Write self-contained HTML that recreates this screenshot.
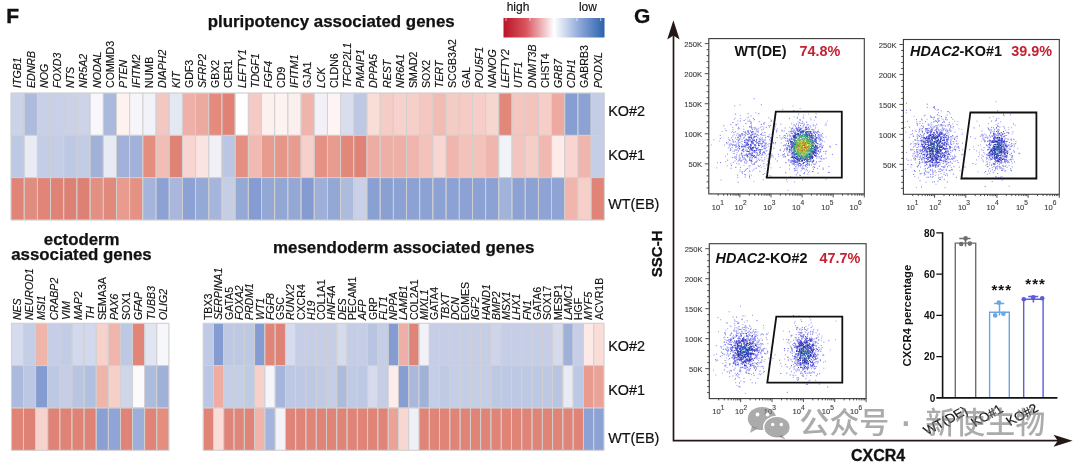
<!DOCTYPE html>
<html><head><meta charset="utf-8"><style>
html,body{margin:0;padding:0;background:#fff;overflow:hidden;}
svg{display:block;font-family:'Liberation Sans', sans-serif;}
</style></head><body>
<svg width="1080" height="467" viewBox="0 0 1080 467">
<rect width="1080" height="467" fill="#fff"/>
<g stroke="#d2d0d0" stroke-width="0.8" stroke-opacity="0.9">
<rect x="11.00" y="93.00" width="13.18" height="42.33" fill="#cbd3e8"/>
<rect x="11.00" y="135.33" width="13.18" height="42.33" fill="#bcc8e4"/>
<rect x="11.00" y="177.66" width="13.18" height="42.33" fill="#e08478"/>
<rect x="24.18" y="93.00" width="13.18" height="42.33" fill="#adbcdd"/>
<rect x="24.18" y="135.33" width="13.18" height="42.33" fill="#e9ecf4"/>
<rect x="24.18" y="177.66" width="13.18" height="42.33" fill="#e08d80"/>
<rect x="37.37" y="93.00" width="13.18" height="42.33" fill="#c8d0e7"/>
<rect x="37.37" y="135.33" width="13.18" height="42.33" fill="#c3cde6"/>
<rect x="37.37" y="177.66" width="13.18" height="42.33" fill="#e08578"/>
<rect x="50.55" y="93.00" width="13.18" height="42.33" fill="#c8d0e7"/>
<rect x="50.55" y="135.33" width="13.18" height="42.33" fill="#c3cde6"/>
<rect x="50.55" y="177.66" width="13.18" height="42.33" fill="#df8376"/>
<rect x="63.74" y="93.00" width="13.18" height="42.33" fill="#cbd2e8"/>
<rect x="63.74" y="135.33" width="13.18" height="42.33" fill="#bdc9e4"/>
<rect x="63.74" y="177.66" width="13.18" height="42.33" fill="#de8175"/>
<rect x="76.92" y="93.00" width="13.18" height="42.33" fill="#cdd4e9"/>
<rect x="76.92" y="135.33" width="13.18" height="42.33" fill="#c2cce5"/>
<rect x="76.92" y="177.66" width="13.18" height="42.33" fill="#de8175"/>
<rect x="90.11" y="93.00" width="13.18" height="42.33" fill="#f8f8fc"/>
<rect x="90.11" y="135.33" width="13.18" height="42.33" fill="#a1b2d9"/>
<rect x="90.11" y="177.66" width="13.18" height="42.33" fill="#e39082"/>
<rect x="103.29" y="93.00" width="13.18" height="42.33" fill="#aab9dc"/>
<rect x="103.29" y="135.33" width="13.18" height="42.33" fill="#e9ebf4"/>
<rect x="103.29" y="177.66" width="13.18" height="42.33" fill="#e1897b"/>
<rect x="116.48" y="93.00" width="13.18" height="42.33" fill="#fdf2f0"/>
<rect x="116.48" y="135.33" width="13.18" height="42.33" fill="#a1b1d9"/>
<rect x="116.48" y="177.66" width="13.18" height="42.33" fill="#e89b8e"/>
<rect x="129.66" y="93.00" width="13.18" height="42.33" fill="#f6f6fa"/>
<rect x="129.66" y="135.33" width="13.18" height="42.33" fill="#a1b1d9"/>
<rect x="129.66" y="177.66" width="13.18" height="42.33" fill="#e59285"/>
<rect x="142.84" y="93.00" width="13.18" height="42.33" fill="#f2f3f9"/>
<rect x="142.84" y="135.33" width="13.18" height="42.33" fill="#e48e80"/>
<rect x="142.84" y="177.66" width="13.18" height="42.33" fill="#a4b4da"/>
<rect x="156.03" y="93.00" width="13.18" height="42.33" fill="#f4c8c2"/>
<rect x="156.03" y="135.33" width="13.18" height="42.33" fill="#f2bdb5"/>
<rect x="156.03" y="177.66" width="13.18" height="42.33" fill="#8ca2d4"/>
<rect x="169.21" y="93.00" width="13.18" height="42.33" fill="#e4e8f2"/>
<rect x="169.21" y="135.33" width="13.18" height="42.33" fill="#e08376"/>
<rect x="169.21" y="177.66" width="13.18" height="42.33" fill="#a9b7dc"/>
<rect x="182.40" y="93.00" width="13.18" height="42.33" fill="#eeb0a8"/>
<rect x="182.40" y="135.33" width="13.18" height="42.33" fill="#f7d6d1"/>
<rect x="182.40" y="177.66" width="13.18" height="42.33" fill="#8ca2d4"/>
<rect x="195.58" y="93.00" width="13.18" height="42.33" fill="#eca99f"/>
<rect x="195.58" y="135.33" width="13.18" height="42.33" fill="#fae4e1"/>
<rect x="195.58" y="177.66" width="13.18" height="42.33" fill="#95a9d6"/>
<rect x="208.77" y="93.00" width="13.18" height="42.33" fill="#e48b7e"/>
<rect x="208.77" y="135.33" width="13.18" height="42.33" fill="#f0f0f6"/>
<rect x="208.77" y="177.66" width="13.18" height="42.33" fill="#a6b5db"/>
<rect x="221.95" y="93.00" width="13.18" height="42.33" fill="#e08376"/>
<rect x="221.95" y="135.33" width="13.18" height="42.33" fill="#bac6e3"/>
<rect x="221.95" y="177.66" width="13.18" height="42.33" fill="#c6cee6"/>
<rect x="235.14" y="93.00" width="13.18" height="42.33" fill="#ffffff"/>
<rect x="235.14" y="135.33" width="13.18" height="42.33" fill="#e48f82"/>
<rect x="235.14" y="177.66" width="13.18" height="42.33" fill="#95a9d6"/>
<rect x="248.32" y="93.00" width="13.18" height="42.33" fill="#f5cac4"/>
<rect x="248.32" y="135.33" width="13.18" height="42.33" fill="#f1bab2"/>
<rect x="248.32" y="177.66" width="13.18" height="42.33" fill="#859cd2"/>
<rect x="261.50" y="93.00" width="13.18" height="42.33" fill="#fdf1ef"/>
<rect x="261.50" y="135.33" width="13.18" height="42.33" fill="#e89b8f"/>
<rect x="261.50" y="177.66" width="13.18" height="42.33" fill="#94a8d6"/>
<rect x="274.69" y="93.00" width="13.18" height="42.33" fill="#fdf4f2"/>
<rect x="274.69" y="135.33" width="13.18" height="42.33" fill="#e69689"/>
<rect x="274.69" y="177.66" width="13.18" height="42.33" fill="#93a7d5"/>
<rect x="287.87" y="93.00" width="13.18" height="42.33" fill="#fcf0ee"/>
<rect x="287.87" y="135.33" width="13.18" height="42.33" fill="#e89b8f"/>
<rect x="287.87" y="177.66" width="13.18" height="42.33" fill="#94a8d6"/>
<rect x="301.06" y="93.00" width="13.18" height="42.33" fill="#efb4ab"/>
<rect x="301.06" y="135.33" width="13.18" height="42.33" fill="#f6d0cb"/>
<rect x="301.06" y="177.66" width="13.18" height="42.33" fill="#859cd2"/>
<rect x="314.24" y="93.00" width="13.18" height="42.33" fill="#f1f1f7"/>
<rect x="314.24" y="135.33" width="13.18" height="42.33" fill="#e59285"/>
<rect x="314.24" y="177.66" width="13.18" height="42.33" fill="#9eb0d9"/>
<rect x="327.43" y="93.00" width="13.18" height="42.33" fill="#fdf4f3"/>
<rect x="327.43" y="135.33" width="13.18" height="42.33" fill="#e89b8f"/>
<rect x="327.43" y="177.66" width="13.18" height="42.33" fill="#94a8d6"/>
<rect x="340.61" y="93.00" width="13.18" height="42.33" fill="#d8deee"/>
<rect x="340.61" y="135.33" width="13.18" height="42.33" fill="#e2887b"/>
<rect x="340.61" y="177.66" width="13.18" height="42.33" fill="#adbbdd"/>
<rect x="353.80" y="93.00" width="13.18" height="42.33" fill="#bcc8e4"/>
<rect x="353.80" y="135.33" width="13.18" height="42.33" fill="#e08276"/>
<rect x="353.80" y="177.66" width="13.18" height="42.33" fill="#c9d0e7"/>
<rect x="366.98" y="93.00" width="13.18" height="42.33" fill="#f9ddd7"/>
<rect x="366.98" y="135.33" width="13.18" height="42.33" fill="#eeada3"/>
<rect x="366.98" y="177.66" width="13.18" height="42.33" fill="#89a0d3"/>
<rect x="380.16" y="93.00" width="13.18" height="42.33" fill="#f5cdc6"/>
<rect x="380.16" y="135.33" width="13.18" height="42.33" fill="#eeb0a6"/>
<rect x="380.16" y="177.66" width="13.18" height="42.33" fill="#8aa0d3"/>
<rect x="393.35" y="93.00" width="13.18" height="42.33" fill="#f7d2cc"/>
<rect x="393.35" y="135.33" width="13.18" height="42.33" fill="#eeb0a6"/>
<rect x="393.35" y="177.66" width="13.18" height="42.33" fill="#8ca2d4"/>
<rect x="406.53" y="93.00" width="13.18" height="42.33" fill="#f6cfc8"/>
<rect x="406.53" y="135.33" width="13.18" height="42.33" fill="#f0b6ad"/>
<rect x="406.53" y="177.66" width="13.18" height="42.33" fill="#8ca2d4"/>
<rect x="419.72" y="93.00" width="13.18" height="42.33" fill="#f4c8c1"/>
<rect x="419.72" y="135.33" width="13.18" height="42.33" fill="#f3c2ba"/>
<rect x="419.72" y="177.66" width="13.18" height="42.33" fill="#8ca2d4"/>
<rect x="432.90" y="93.00" width="13.18" height="42.33" fill="#f1bcb4"/>
<rect x="432.90" y="135.33" width="13.18" height="42.33" fill="#f8d7d2"/>
<rect x="432.90" y="177.66" width="13.18" height="42.33" fill="#8ca2d4"/>
<rect x="446.09" y="93.00" width="13.18" height="42.33" fill="#f5ccc5"/>
<rect x="446.09" y="135.33" width="13.18" height="42.33" fill="#f0b6ad"/>
<rect x="446.09" y="177.66" width="13.18" height="42.33" fill="#8ca2d4"/>
<rect x="459.27" y="93.00" width="13.18" height="42.33" fill="#f5cbc4"/>
<rect x="459.27" y="135.33" width="13.18" height="42.33" fill="#f3c2ba"/>
<rect x="459.27" y="177.66" width="13.18" height="42.33" fill="#8ca2d4"/>
<rect x="472.46" y="93.00" width="13.18" height="42.33" fill="#f6cec7"/>
<rect x="472.46" y="135.33" width="13.18" height="42.33" fill="#f3c2ba"/>
<rect x="472.46" y="177.66" width="13.18" height="42.33" fill="#8ca2d4"/>
<rect x="485.64" y="93.00" width="13.18" height="42.33" fill="#f8d6d0"/>
<rect x="485.64" y="135.33" width="13.18" height="42.33" fill="#f0b6ae"/>
<rect x="485.64" y="177.66" width="13.18" height="42.33" fill="#8ca2d4"/>
<rect x="498.82" y="93.00" width="13.18" height="42.33" fill="#e2887b"/>
<rect x="498.82" y="135.33" width="13.18" height="42.33" fill="#f2f3f9"/>
<rect x="498.82" y="177.66" width="13.18" height="42.33" fill="#a2b3da"/>
<rect x="512.01" y="93.00" width="13.18" height="42.33" fill="#f4c6bf"/>
<rect x="512.01" y="135.33" width="13.18" height="42.33" fill="#f4c5be"/>
<rect x="512.01" y="177.66" width="13.18" height="42.33" fill="#8ca2d4"/>
<rect x="525.19" y="93.00" width="13.18" height="42.33" fill="#f3c3bc"/>
<rect x="525.19" y="135.33" width="13.18" height="42.33" fill="#f6cec8"/>
<rect x="525.19" y="177.66" width="13.18" height="42.33" fill="#8ca2d4"/>
<rect x="538.38" y="93.00" width="13.18" height="42.33" fill="#f6cec7"/>
<rect x="538.38" y="135.33" width="13.18" height="42.33" fill="#f0b8b0"/>
<rect x="538.38" y="177.66" width="13.18" height="42.33" fill="#8fa4d5"/>
<rect x="551.56" y="93.00" width="13.18" height="42.33" fill="#eeaaa0"/>
<rect x="551.56" y="135.33" width="13.18" height="42.33" fill="#fcebe8"/>
<rect x="551.56" y="177.66" width="13.18" height="42.33" fill="#8fa4d5"/>
<rect x="564.75" y="93.00" width="13.18" height="42.33" fill="#869ed2"/>
<rect x="564.75" y="135.33" width="13.18" height="42.33" fill="#f8d5d0"/>
<rect x="564.75" y="177.66" width="13.18" height="42.33" fill="#f0b6ae"/>
<rect x="577.93" y="93.00" width="13.18" height="42.33" fill="#8ca2d4"/>
<rect x="577.93" y="135.33" width="13.18" height="42.33" fill="#f0b6ae"/>
<rect x="577.93" y="177.66" width="13.18" height="42.33" fill="#f6cfc9"/>
<rect x="591.12" y="93.00" width="13.18" height="42.33" fill="#c3cde6"/>
<rect x="591.12" y="135.33" width="13.18" height="42.33" fill="#c5cee6"/>
<rect x="591.12" y="177.66" width="13.18" height="42.33" fill="#e08478"/>
<line x1="11.00" y1="93.00" x2="11.00" y2="219.99"/>
<line x1="24.18" y1="93.00" x2="24.18" y2="219.99"/>
<line x1="37.37" y1="93.00" x2="37.37" y2="219.99"/>
<line x1="50.55" y1="93.00" x2="50.55" y2="219.99"/>
<line x1="63.74" y1="93.00" x2="63.74" y2="219.99"/>
<line x1="76.92" y1="93.00" x2="76.92" y2="219.99"/>
<line x1="90.11" y1="93.00" x2="90.11" y2="219.99"/>
<line x1="103.29" y1="93.00" x2="103.29" y2="219.99"/>
<line x1="116.48" y1="93.00" x2="116.48" y2="219.99"/>
<line x1="129.66" y1="93.00" x2="129.66" y2="219.99"/>
<line x1="142.84" y1="93.00" x2="142.84" y2="219.99"/>
<line x1="156.03" y1="93.00" x2="156.03" y2="219.99"/>
<line x1="169.21" y1="93.00" x2="169.21" y2="219.99"/>
<line x1="182.40" y1="93.00" x2="182.40" y2="219.99"/>
<line x1="195.58" y1="93.00" x2="195.58" y2="219.99"/>
<line x1="208.77" y1="93.00" x2="208.77" y2="219.99"/>
<line x1="221.95" y1="93.00" x2="221.95" y2="219.99"/>
<line x1="235.14" y1="93.00" x2="235.14" y2="219.99"/>
<line x1="248.32" y1="93.00" x2="248.32" y2="219.99"/>
<line x1="261.50" y1="93.00" x2="261.50" y2="219.99"/>
<line x1="274.69" y1="93.00" x2="274.69" y2="219.99"/>
<line x1="287.87" y1="93.00" x2="287.87" y2="219.99"/>
<line x1="301.06" y1="93.00" x2="301.06" y2="219.99"/>
<line x1="314.24" y1="93.00" x2="314.24" y2="219.99"/>
<line x1="327.43" y1="93.00" x2="327.43" y2="219.99"/>
<line x1="340.61" y1="93.00" x2="340.61" y2="219.99"/>
<line x1="353.80" y1="93.00" x2="353.80" y2="219.99"/>
<line x1="366.98" y1="93.00" x2="366.98" y2="219.99"/>
<line x1="380.16" y1="93.00" x2="380.16" y2="219.99"/>
<line x1="393.35" y1="93.00" x2="393.35" y2="219.99"/>
<line x1="406.53" y1="93.00" x2="406.53" y2="219.99"/>
<line x1="419.72" y1="93.00" x2="419.72" y2="219.99"/>
<line x1="432.90" y1="93.00" x2="432.90" y2="219.99"/>
<line x1="446.09" y1="93.00" x2="446.09" y2="219.99"/>
<line x1="459.27" y1="93.00" x2="459.27" y2="219.99"/>
<line x1="472.46" y1="93.00" x2="472.46" y2="219.99"/>
<line x1="485.64" y1="93.00" x2="485.64" y2="219.99"/>
<line x1="498.82" y1="93.00" x2="498.82" y2="219.99"/>
<line x1="512.01" y1="93.00" x2="512.01" y2="219.99"/>
<line x1="525.19" y1="93.00" x2="525.19" y2="219.99"/>
<line x1="538.38" y1="93.00" x2="538.38" y2="219.99"/>
<line x1="551.56" y1="93.00" x2="551.56" y2="219.99"/>
<line x1="564.75" y1="93.00" x2="564.75" y2="219.99"/>
<line x1="577.93" y1="93.00" x2="577.93" y2="219.99"/>
<line x1="591.12" y1="93.00" x2="591.12" y2="219.99"/>
<line x1="604.30" y1="93.00" x2="604.30" y2="219.99"/>
<line x1="11.00" y1="93.00" x2="604.30" y2="93.00"/>
<line x1="11.00" y1="135.33" x2="604.30" y2="135.33"/>
<line x1="11.00" y1="177.66" x2="604.30" y2="177.66"/>
<line x1="11.00" y1="219.99" x2="604.30" y2="219.99"/>
<rect x="11.40" y="323.30" width="12.12" height="42.33" fill="#d5dbed"/>
<rect x="11.40" y="365.63" width="12.12" height="42.33" fill="#acbbdd"/>
<rect x="11.40" y="407.96" width="12.12" height="42.33" fill="#e08478"/>
<rect x="23.52" y="323.30" width="12.12" height="42.33" fill="#c4cee6"/>
<rect x="23.52" y="365.63" width="12.12" height="42.33" fill="#bbc7e3"/>
<rect x="23.52" y="407.96" width="12.12" height="42.33" fill="#df8276"/>
<rect x="35.63" y="323.30" width="12.12" height="42.33" fill="#efb4aa"/>
<rect x="35.63" y="365.63" width="12.12" height="42.33" fill="#849cd2"/>
<rect x="35.63" y="407.96" width="12.12" height="42.33" fill="#f7d3ce"/>
<rect x="47.75" y="323.30" width="12.12" height="42.33" fill="#c6cee7"/>
<rect x="47.75" y="365.63" width="12.12" height="42.33" fill="#bdc9e4"/>
<rect x="47.75" y="407.96" width="12.12" height="42.33" fill="#e08377"/>
<rect x="59.86" y="323.30" width="12.12" height="42.33" fill="#c2cce5"/>
<rect x="59.86" y="365.63" width="12.12" height="42.33" fill="#c6cee7"/>
<rect x="59.86" y="407.96" width="12.12" height="42.33" fill="#e08377"/>
<rect x="71.98" y="323.30" width="12.12" height="42.33" fill="#d2d9ec"/>
<rect x="71.98" y="365.63" width="12.12" height="42.33" fill="#b8c4e2"/>
<rect x="71.98" y="407.96" width="12.12" height="42.33" fill="#e08377"/>
<rect x="84.09" y="323.30" width="12.12" height="42.33" fill="#d2d9ec"/>
<rect x="84.09" y="365.63" width="12.12" height="42.33" fill="#b2c0e0"/>
<rect x="84.09" y="407.96" width="12.12" height="42.33" fill="#e08377"/>
<rect x="96.21" y="323.30" width="12.12" height="42.33" fill="#f7d2cd"/>
<rect x="96.21" y="365.63" width="12.12" height="42.33" fill="#efb4aa"/>
<rect x="96.21" y="407.96" width="12.12" height="42.33" fill="#8aa0d3"/>
<rect x="108.32" y="323.30" width="12.12" height="42.33" fill="#f0b6ad"/>
<rect x="108.32" y="365.63" width="12.12" height="42.33" fill="#f6cfc9"/>
<rect x="108.32" y="407.96" width="12.12" height="42.33" fill="#90a5d5"/>
<rect x="120.44" y="323.30" width="12.12" height="42.33" fill="#bcc8e4"/>
<rect x="120.44" y="365.63" width="12.12" height="42.33" fill="#cfd6ea"/>
<rect x="120.44" y="407.96" width="12.12" height="42.33" fill="#e08478"/>
<rect x="132.55" y="323.30" width="12.12" height="42.33" fill="#e08578"/>
<rect x="132.55" y="365.63" width="12.12" height="42.33" fill="#fbfbfd"/>
<rect x="132.55" y="407.96" width="12.12" height="42.33" fill="#9dafd9"/>
<rect x="144.67" y="323.30" width="12.12" height="42.33" fill="#e1e5f1"/>
<rect x="144.67" y="365.63" width="12.12" height="42.33" fill="#adbbdd"/>
<rect x="144.67" y="407.96" width="12.12" height="42.33" fill="#e08478"/>
<rect x="156.78" y="323.30" width="12.12" height="42.33" fill="#f6f7fb"/>
<rect x="156.78" y="365.63" width="12.12" height="42.33" fill="#a0b1d9"/>
<rect x="156.78" y="407.96" width="12.12" height="42.33" fill="#e48e7f"/>
<line x1="11.40" y1="323.30" x2="11.40" y2="450.29"/>
<line x1="23.52" y1="323.30" x2="23.52" y2="450.29"/>
<line x1="35.63" y1="323.30" x2="35.63" y2="450.29"/>
<line x1="47.75" y1="323.30" x2="47.75" y2="450.29"/>
<line x1="59.86" y1="323.30" x2="59.86" y2="450.29"/>
<line x1="71.98" y1="323.30" x2="71.98" y2="450.29"/>
<line x1="84.09" y1="323.30" x2="84.09" y2="450.29"/>
<line x1="96.21" y1="323.30" x2="96.21" y2="450.29"/>
<line x1="108.32" y1="323.30" x2="108.32" y2="450.29"/>
<line x1="120.44" y1="323.30" x2="120.44" y2="450.29"/>
<line x1="132.55" y1="323.30" x2="132.55" y2="450.29"/>
<line x1="144.67" y1="323.30" x2="144.67" y2="450.29"/>
<line x1="156.78" y1="323.30" x2="156.78" y2="450.29"/>
<line x1="168.90" y1="323.30" x2="168.90" y2="450.29"/>
<line x1="11.40" y1="323.30" x2="168.90" y2="323.30"/>
<line x1="11.40" y1="365.63" x2="168.90" y2="365.63"/>
<line x1="11.40" y1="407.96" x2="168.90" y2="407.96"/>
<line x1="11.40" y1="450.29" x2="168.90" y2="450.29"/>
<rect x="203.20" y="323.30" width="10.28" height="42.33" fill="#bfcbe5"/>
<rect x="203.20" y="365.63" width="10.28" height="42.33" fill="#bac6e3"/>
<rect x="203.20" y="407.96" width="10.28" height="42.33" fill="#e08478"/>
<rect x="213.48" y="323.30" width="10.28" height="42.33" fill="#849cd2"/>
<rect x="213.48" y="365.63" width="10.28" height="42.33" fill="#eeaca2"/>
<rect x="213.48" y="407.96" width="10.28" height="42.33" fill="#faddd8"/>
<rect x="223.75" y="323.30" width="10.28" height="42.33" fill="#bdc9e4"/>
<rect x="223.75" y="365.63" width="10.28" height="42.33" fill="#c4cee6"/>
<rect x="223.75" y="407.96" width="10.28" height="42.33" fill="#e08478"/>
<rect x="234.03" y="323.30" width="10.28" height="42.33" fill="#bdc9e4"/>
<rect x="234.03" y="365.63" width="10.28" height="42.33" fill="#c4cee6"/>
<rect x="234.03" y="407.96" width="10.28" height="42.33" fill="#e08679"/>
<rect x="244.31" y="323.30" width="10.28" height="42.33" fill="#bdc9e4"/>
<rect x="244.31" y="365.63" width="10.28" height="42.33" fill="#bfcbe5"/>
<rect x="244.31" y="407.96" width="10.28" height="42.33" fill="#e08478"/>
<rect x="254.58" y="323.30" width="10.28" height="42.33" fill="#859cd2"/>
<rect x="254.58" y="365.63" width="10.28" height="42.33" fill="#f7d0cb"/>
<rect x="254.58" y="407.96" width="10.28" height="42.33" fill="#f0b4aa"/>
<rect x="264.86" y="323.30" width="10.28" height="42.33" fill="#e08578"/>
<rect x="264.86" y="365.63" width="10.28" height="42.33" fill="#f5f6fb"/>
<rect x="264.86" y="407.96" width="10.28" height="42.33" fill="#a4b4da"/>
<rect x="275.14" y="323.30" width="10.28" height="42.33" fill="#e08377"/>
<rect x="275.14" y="365.63" width="10.28" height="42.33" fill="#a6b5db"/>
<rect x="275.14" y="407.96" width="10.28" height="42.33" fill="#f3f4fa"/>
<rect x="285.42" y="323.30" width="10.28" height="42.33" fill="#d6dced"/>
<rect x="285.42" y="365.63" width="10.28" height="42.33" fill="#bcc8e4"/>
<rect x="285.42" y="407.96" width="10.28" height="42.33" fill="#e08478"/>
<rect x="295.69" y="323.30" width="10.28" height="42.33" fill="#c6cee7"/>
<rect x="295.69" y="365.63" width="10.28" height="42.33" fill="#bdc9e4"/>
<rect x="295.69" y="407.96" width="10.28" height="42.33" fill="#e08478"/>
<rect x="305.97" y="323.30" width="10.28" height="42.33" fill="#c6cee7"/>
<rect x="305.97" y="365.63" width="10.28" height="42.33" fill="#bdc9e4"/>
<rect x="305.97" y="407.96" width="10.28" height="42.33" fill="#e08478"/>
<rect x="316.25" y="323.30" width="10.28" height="42.33" fill="#c6cee7"/>
<rect x="316.25" y="365.63" width="10.28" height="42.33" fill="#bfcbe5"/>
<rect x="316.25" y="407.96" width="10.28" height="42.33" fill="#e08478"/>
<rect x="326.52" y="323.30" width="10.28" height="42.33" fill="#c6cee7"/>
<rect x="326.52" y="365.63" width="10.28" height="42.33" fill="#c4cee6"/>
<rect x="326.52" y="407.96" width="10.28" height="42.33" fill="#e08478"/>
<rect x="336.80" y="323.30" width="10.28" height="42.33" fill="#d5dbed"/>
<rect x="336.80" y="365.63" width="10.28" height="42.33" fill="#adbbdd"/>
<rect x="336.80" y="407.96" width="10.28" height="42.33" fill="#e08478"/>
<rect x="347.08" y="323.30" width="10.28" height="42.33" fill="#c3cde6"/>
<rect x="347.08" y="365.63" width="10.28" height="42.33" fill="#bfcbe5"/>
<rect x="347.08" y="407.96" width="10.28" height="42.33" fill="#e08478"/>
<rect x="357.35" y="323.30" width="10.28" height="42.33" fill="#c6cee7"/>
<rect x="357.35" y="365.63" width="10.28" height="42.33" fill="#bdc9e4"/>
<rect x="357.35" y="407.96" width="10.28" height="42.33" fill="#e08478"/>
<rect x="367.63" y="323.30" width="10.28" height="42.33" fill="#b7c4e2"/>
<rect x="367.63" y="365.63" width="10.28" height="42.33" fill="#d5dbed"/>
<rect x="367.63" y="407.96" width="10.28" height="42.33" fill="#e08478"/>
<rect x="377.91" y="323.30" width="10.28" height="42.33" fill="#c6cee7"/>
<rect x="377.91" y="365.63" width="10.28" height="42.33" fill="#c6cee7"/>
<rect x="377.91" y="407.96" width="10.28" height="42.33" fill="#e08478"/>
<rect x="388.18" y="323.30" width="10.28" height="42.33" fill="#849cd2"/>
<rect x="388.18" y="365.63" width="10.28" height="42.33" fill="#fcedea"/>
<rect x="388.18" y="407.96" width="10.28" height="42.33" fill="#eba398"/>
<rect x="398.46" y="323.30" width="10.28" height="42.33" fill="#eeb0a6"/>
<rect x="398.46" y="365.63" width="10.28" height="42.33" fill="#869ed2"/>
<rect x="398.46" y="407.96" width="10.28" height="42.33" fill="#f8d6d1"/>
<rect x="408.74" y="323.30" width="10.28" height="42.33" fill="#e08478"/>
<rect x="408.74" y="365.63" width="10.28" height="42.33" fill="#aab8dc"/>
<rect x="408.74" y="407.96" width="10.28" height="42.33" fill="#eff0f6"/>
<rect x="419.02" y="323.30" width="10.28" height="42.33" fill="#f1f1f7"/>
<rect x="419.02" y="365.63" width="10.28" height="42.33" fill="#a1b2d9"/>
<rect x="419.02" y="407.96" width="10.28" height="42.33" fill="#e08478"/>
<rect x="429.29" y="323.30" width="10.28" height="42.33" fill="#c6cee7"/>
<rect x="429.29" y="365.63" width="10.28" height="42.33" fill="#c4cee6"/>
<rect x="429.29" y="407.96" width="10.28" height="42.33" fill="#e08478"/>
<rect x="439.57" y="323.30" width="10.28" height="42.33" fill="#c6cee7"/>
<rect x="439.57" y="365.63" width="10.28" height="42.33" fill="#bfcbe5"/>
<rect x="439.57" y="407.96" width="10.28" height="42.33" fill="#e08478"/>
<rect x="449.85" y="323.30" width="10.28" height="42.33" fill="#c6cee7"/>
<rect x="449.85" y="365.63" width="10.28" height="42.33" fill="#c4cee6"/>
<rect x="449.85" y="407.96" width="10.28" height="42.33" fill="#e08478"/>
<rect x="460.12" y="323.30" width="10.28" height="42.33" fill="#c6cee7"/>
<rect x="460.12" y="365.63" width="10.28" height="42.33" fill="#c4cee6"/>
<rect x="460.12" y="407.96" width="10.28" height="42.33" fill="#e08478"/>
<rect x="470.40" y="323.30" width="10.28" height="42.33" fill="#c6cee7"/>
<rect x="470.40" y="365.63" width="10.28" height="42.33" fill="#c4cee6"/>
<rect x="470.40" y="407.96" width="10.28" height="42.33" fill="#e08478"/>
<rect x="480.68" y="323.30" width="10.28" height="42.33" fill="#c6cee7"/>
<rect x="480.68" y="365.63" width="10.28" height="42.33" fill="#c4cee6"/>
<rect x="480.68" y="407.96" width="10.28" height="42.33" fill="#e08478"/>
<rect x="490.95" y="323.30" width="10.28" height="42.33" fill="#ced5ea"/>
<rect x="490.95" y="365.63" width="10.28" height="42.33" fill="#bcc8e4"/>
<rect x="490.95" y="407.96" width="10.28" height="42.33" fill="#e08478"/>
<rect x="501.23" y="323.30" width="10.28" height="42.33" fill="#c6cee7"/>
<rect x="501.23" y="365.63" width="10.28" height="42.33" fill="#bdc9e4"/>
<rect x="501.23" y="407.96" width="10.28" height="42.33" fill="#e08478"/>
<rect x="511.51" y="323.30" width="10.28" height="42.33" fill="#c6cee7"/>
<rect x="511.51" y="365.63" width="10.28" height="42.33" fill="#bdc9e4"/>
<rect x="511.51" y="407.96" width="10.28" height="42.33" fill="#e08478"/>
<rect x="521.78" y="323.30" width="10.28" height="42.33" fill="#c6cee7"/>
<rect x="521.78" y="365.63" width="10.28" height="42.33" fill="#bdc9e4"/>
<rect x="521.78" y="407.96" width="10.28" height="42.33" fill="#e08478"/>
<rect x="532.06" y="323.30" width="10.28" height="42.33" fill="#c6cee7"/>
<rect x="532.06" y="365.63" width="10.28" height="42.33" fill="#bdc9e4"/>
<rect x="532.06" y="407.96" width="10.28" height="42.33" fill="#e08478"/>
<rect x="542.34" y="323.30" width="10.28" height="42.33" fill="#c6cee7"/>
<rect x="542.34" y="365.63" width="10.28" height="42.33" fill="#bdc9e4"/>
<rect x="542.34" y="407.96" width="10.28" height="42.33" fill="#e08478"/>
<rect x="552.62" y="323.30" width="10.28" height="42.33" fill="#d5dbed"/>
<rect x="552.62" y="365.63" width="10.28" height="42.33" fill="#b7c4e2"/>
<rect x="552.62" y="407.96" width="10.28" height="42.33" fill="#e08478"/>
<rect x="562.89" y="323.30" width="10.28" height="42.33" fill="#a0b1d9"/>
<rect x="562.89" y="365.63" width="10.28" height="42.33" fill="#e9ebf4"/>
<rect x="562.89" y="407.96" width="10.28" height="42.33" fill="#e08478"/>
<rect x="573.17" y="323.30" width="10.28" height="42.33" fill="#c6cee7"/>
<rect x="573.17" y="365.63" width="10.28" height="42.33" fill="#bdc9e4"/>
<rect x="573.17" y="407.96" width="10.28" height="42.33" fill="#e08478"/>
<rect x="583.45" y="323.30" width="10.28" height="42.33" fill="#fdeae7"/>
<rect x="583.45" y="365.63" width="10.28" height="42.33" fill="#e89b8e"/>
<rect x="583.45" y="407.96" width="10.28" height="42.33" fill="#8ca2d4"/>
<rect x="593.72" y="323.30" width="10.28" height="42.33" fill="#faddd8"/>
<rect x="593.72" y="365.63" width="10.28" height="42.33" fill="#eba398"/>
<rect x="593.72" y="407.96" width="10.28" height="42.33" fill="#8ca2d4"/>
<line x1="203.20" y1="323.30" x2="203.20" y2="450.29"/>
<line x1="213.48" y1="323.30" x2="213.48" y2="450.29"/>
<line x1="223.75" y1="323.30" x2="223.75" y2="450.29"/>
<line x1="234.03" y1="323.30" x2="234.03" y2="450.29"/>
<line x1="244.31" y1="323.30" x2="244.31" y2="450.29"/>
<line x1="254.58" y1="323.30" x2="254.58" y2="450.29"/>
<line x1="264.86" y1="323.30" x2="264.86" y2="450.29"/>
<line x1="275.14" y1="323.30" x2="275.14" y2="450.29"/>
<line x1="285.42" y1="323.30" x2="285.42" y2="450.29"/>
<line x1="295.69" y1="323.30" x2="295.69" y2="450.29"/>
<line x1="305.97" y1="323.30" x2="305.97" y2="450.29"/>
<line x1="316.25" y1="323.30" x2="316.25" y2="450.29"/>
<line x1="326.52" y1="323.30" x2="326.52" y2="450.29"/>
<line x1="336.80" y1="323.30" x2="336.80" y2="450.29"/>
<line x1="347.08" y1="323.30" x2="347.08" y2="450.29"/>
<line x1="357.35" y1="323.30" x2="357.35" y2="450.29"/>
<line x1="367.63" y1="323.30" x2="367.63" y2="450.29"/>
<line x1="377.91" y1="323.30" x2="377.91" y2="450.29"/>
<line x1="388.18" y1="323.30" x2="388.18" y2="450.29"/>
<line x1="398.46" y1="323.30" x2="398.46" y2="450.29"/>
<line x1="408.74" y1="323.30" x2="408.74" y2="450.29"/>
<line x1="419.02" y1="323.30" x2="419.02" y2="450.29"/>
<line x1="429.29" y1="323.30" x2="429.29" y2="450.29"/>
<line x1="439.57" y1="323.30" x2="439.57" y2="450.29"/>
<line x1="449.85" y1="323.30" x2="449.85" y2="450.29"/>
<line x1="460.12" y1="323.30" x2="460.12" y2="450.29"/>
<line x1="470.40" y1="323.30" x2="470.40" y2="450.29"/>
<line x1="480.68" y1="323.30" x2="480.68" y2="450.29"/>
<line x1="490.95" y1="323.30" x2="490.95" y2="450.29"/>
<line x1="501.23" y1="323.30" x2="501.23" y2="450.29"/>
<line x1="511.51" y1="323.30" x2="511.51" y2="450.29"/>
<line x1="521.78" y1="323.30" x2="521.78" y2="450.29"/>
<line x1="532.06" y1="323.30" x2="532.06" y2="450.29"/>
<line x1="542.34" y1="323.30" x2="542.34" y2="450.29"/>
<line x1="552.62" y1="323.30" x2="552.62" y2="450.29"/>
<line x1="562.89" y1="323.30" x2="562.89" y2="450.29"/>
<line x1="573.17" y1="323.30" x2="573.17" y2="450.29"/>
<line x1="583.45" y1="323.30" x2="583.45" y2="450.29"/>
<line x1="593.72" y1="323.30" x2="593.72" y2="450.29"/>
<line x1="604.00" y1="323.30" x2="604.00" y2="450.29"/>
<line x1="203.20" y1="323.30" x2="604.00" y2="323.30"/>
<line x1="203.20" y1="365.63" x2="604.00" y2="365.63"/>
<line x1="203.20" y1="407.96" x2="604.00" y2="407.96"/>
<line x1="203.20" y1="450.29" x2="604.00" y2="450.29"/>
</g>
<g font-size="10.6" fill="#111" stroke="#111" stroke-width="0.15">
<text transform="translate(21.39,88.0) rotate(-90)" font-style="italic">ITGB1</text>
<text transform="translate(34.58,88.0) rotate(-90)" font-style="italic">EDNRB</text>
<text transform="translate(47.76,88.0) rotate(-90)" font-style="italic">NOG</text>
<text transform="translate(60.95,88.0) rotate(-90)" font-style="italic">FOXD3</text>
<text transform="translate(74.13,88.0) rotate(-90)" font-style="italic">NTS</text>
<text transform="translate(87.31,88.0) rotate(-90)" font-style="italic">NR5A2</text>
<text transform="translate(100.50,88.0) rotate(-90)" font-style="italic">NODAL</text>
<text transform="translate(113.68,88.0) rotate(-90)">COMMD3</text>
<text transform="translate(126.87,88.0) rotate(-90)" font-style="italic">PTEN</text>
<text transform="translate(140.05,88.0) rotate(-90)" font-style="italic">IFITM2</text>
<text transform="translate(153.24,88.0) rotate(-90)">NUMB</text>
<text transform="translate(166.42,88.0) rotate(-90)" font-style="italic">DIAPH2</text>
<text transform="translate(179.61,88.0) rotate(-90)" font-style="italic">KIT</text>
<text transform="translate(192.79,88.0) rotate(-90)">GDF3</text>
<text transform="translate(205.97,88.0) rotate(-90)" font-style="italic">SFRP2</text>
<text transform="translate(219.16,88.0) rotate(-90)">GBX2</text>
<text transform="translate(232.34,88.0) rotate(-90)">CER1</text>
<text transform="translate(245.53,88.0) rotate(-90)" font-style="italic">LEFTY1</text>
<text transform="translate(258.71,88.0) rotate(-90)" font-style="italic">TDGF1</text>
<text transform="translate(271.90,88.0) rotate(-90)" font-style="italic">FGF4</text>
<text transform="translate(285.08,88.0) rotate(-90)">CD9</text>
<text transform="translate(298.27,88.0) rotate(-90)" font-style="italic">IFITM1</text>
<text transform="translate(311.45,88.0) rotate(-90)">GJA1</text>
<text transform="translate(324.63,88.0) rotate(-90)" font-style="italic">LCK</text>
<text transform="translate(337.82,88.0) rotate(-90)">CLDN6</text>
<text transform="translate(351.00,88.0) rotate(-90)" font-style="italic">TFCP2L1</text>
<text transform="translate(364.19,88.0) rotate(-90)" font-style="italic">PMAIP1</text>
<text transform="translate(377.37,88.0) rotate(-90)" font-style="italic">DPPA5</text>
<text transform="translate(390.56,88.0) rotate(-90)" font-style="italic">REST</text>
<text transform="translate(403.74,88.0) rotate(-90)" font-style="italic">NR6A1</text>
<text transform="translate(416.93,88.0) rotate(-90)">SMAD2</text>
<text transform="translate(430.11,88.0) rotate(-90)">SOX2</text>
<text transform="translate(443.29,88.0) rotate(-90)" font-style="italic">TERT</text>
<text transform="translate(456.48,88.0) rotate(-90)">SCGB3A2</text>
<text transform="translate(469.66,88.0) rotate(-90)">GAL</text>
<text transform="translate(482.85,88.0) rotate(-90)" font-style="italic">POU5F1</text>
<text transform="translate(496.03,88.0) rotate(-90)" font-style="italic">NANOG</text>
<text transform="translate(509.22,88.0) rotate(-90)" font-style="italic">LEFTY2</text>
<text transform="translate(522.40,88.0) rotate(-90)" font-style="italic">UTF1</text>
<text transform="translate(535.59,88.0) rotate(-90)" font-style="italic">DNMT3B</text>
<text transform="translate(548.77,88.0) rotate(-90)">CHST4</text>
<text transform="translate(561.95,88.0) rotate(-90)" font-style="italic">GRB7</text>
<text transform="translate(575.14,88.0) rotate(-90)" font-style="italic">CDH1</text>
<text transform="translate(588.32,88.0) rotate(-90)">GABRB3</text>
<text transform="translate(601.51,88.0) rotate(-90)" font-style="italic">PODXL</text>
<text transform="translate(21.26,320.1) rotate(-90)" font-style="italic">NES</text>
<text transform="translate(33.37,320.1) rotate(-90)" font-style="italic">NEUROD1</text>
<text transform="translate(45.49,320.1) rotate(-90)" font-style="italic">MSI1</text>
<text transform="translate(57.60,320.1) rotate(-90)" font-style="italic">CRABP2</text>
<text transform="translate(69.72,320.1) rotate(-90)" font-style="italic">VIM</text>
<text transform="translate(81.83,320.1) rotate(-90)" font-style="italic">MAP2</text>
<text transform="translate(93.95,320.1) rotate(-90)" font-style="italic">TH</text>
<text transform="translate(106.07,320.1) rotate(-90)">SEMA3A</text>
<text transform="translate(118.18,320.1) rotate(-90)" font-style="italic">PAX6</text>
<text transform="translate(130.30,320.1) rotate(-90)">SOX1</text>
<text transform="translate(142.41,320.1) rotate(-90)" font-style="italic">GFAP</text>
<text transform="translate(154.53,320.1) rotate(-90)" font-style="italic">TUBB3</text>
<text transform="translate(166.64,320.1) rotate(-90)" font-style="italic">OLIG2</text>
<text transform="translate(212.14,320.1) rotate(-90)">TBX3</text>
<text transform="translate(222.42,320.1) rotate(-90)" font-style="italic">SERPINA1</text>
<text transform="translate(232.69,320.1) rotate(-90)">GATA5</text>
<text transform="translate(242.97,320.1) rotate(-90)" font-style="italic">FOXA2</text>
<text transform="translate(253.25,320.1) rotate(-90)" font-style="italic">PRDM1</text>
<text transform="translate(263.52,320.1) rotate(-90)" font-style="italic">WT1</text>
<text transform="translate(273.80,320.1) rotate(-90)" font-style="italic">FGF8</text>
<text transform="translate(284.08,320.1) rotate(-90)">GSC</text>
<text transform="translate(294.35,320.1) rotate(-90)" font-style="italic">RUNX2</text>
<text transform="translate(304.63,320.1) rotate(-90)">CXCR4</text>
<text transform="translate(314.91,320.1) rotate(-90)" font-style="italic">H19</text>
<text transform="translate(325.18,320.1) rotate(-90)">COL1A1</text>
<text transform="translate(335.46,320.1) rotate(-90)" font-style="italic">HNF4A</text>
<text transform="translate(345.74,320.1) rotate(-90)" font-style="italic">DES</text>
<text transform="translate(356.02,320.1) rotate(-90)">PECAM1</text>
<text transform="translate(366.29,320.1) rotate(-90)" font-style="italic">AFP</text>
<text transform="translate(376.57,320.1) rotate(-90)">GRP</text>
<text transform="translate(386.85,320.1) rotate(-90)" font-style="italic">FLT1</text>
<text transform="translate(397.12,320.1) rotate(-90)" font-style="italic">NPPA</text>
<text transform="translate(407.40,320.1) rotate(-90)" font-style="italic">LAMB1</text>
<text transform="translate(417.68,320.1) rotate(-90)">COL2A1</text>
<text transform="translate(427.95,320.1) rotate(-90)" font-style="italic">MIXL1</text>
<text transform="translate(438.23,320.1) rotate(-90)">GATA4</text>
<text transform="translate(448.51,320.1) rotate(-90)" font-style="italic">TBXT</text>
<text transform="translate(458.78,320.1) rotate(-90)" font-style="italic">DCN</text>
<text transform="translate(469.06,320.1) rotate(-90)">EOMES</text>
<text transform="translate(479.34,320.1) rotate(-90)" font-style="italic">IGF2</text>
<text transform="translate(489.62,320.1) rotate(-90)" font-style="italic">HAND1</text>
<text transform="translate(499.89,320.1) rotate(-90)" font-style="italic">BMP2</text>
<text transform="translate(510.17,320.1) rotate(-90)" font-style="italic">MSX1</text>
<text transform="translate(520.45,320.1) rotate(-90)" font-style="italic">LHX1</text>
<text transform="translate(530.72,320.1) rotate(-90)" font-style="italic">FN1</text>
<text transform="translate(541.00,320.1) rotate(-90)">GATA6</text>
<text transform="translate(551.28,320.1) rotate(-90)">SOX17</text>
<text transform="translate(561.55,320.1) rotate(-90)">MESP1</text>
<text transform="translate(571.83,320.1) rotate(-90)" font-style="italic">LAMC1</text>
<text transform="translate(582.11,320.1) rotate(-90)">HGF</text>
<text transform="translate(592.38,320.1) rotate(-90)" font-style="italic">MYF5</text>
<text transform="translate(602.66,320.1) rotate(-90)">ACVR1B</text>
</g>
<g font-size="14.4" fill="#111" stroke="#111" stroke-width="0.2">
<text x="608.2" y="116.3">KO#2</text>
<text x="608.2" y="160.3">KO#1</text>
<text x="608.2" y="208.8">WT(EB)</text>
<text x="608.2" y="350.8">KO#2</text>
<text x="608.2" y="394.8">KO#1</text>
<text x="608.2" y="442.6">WT(EB)</text>
</g>
<g font-weight="bold" fill="#111" stroke="#111" stroke-width="0.25">
<text x="6.3" y="23" font-size="21" stroke="#111" stroke-width="0.4">F</text>
<text x="634" y="23" font-size="21">G</text>
<text x="207.7" y="26.7" font-size="17" textLength="247" lengthAdjust="spacingAndGlyphs">pluripotency associated genes</text>
<text x="43.8" y="245.4" font-size="17" textLength="75.8" lengthAdjust="spacingAndGlyphs">ectoderm</text>
<text x="11.2" y="259.9" font-size="17" textLength="140.5" lengthAdjust="spacingAndGlyphs">associated genes</text>
<text x="273" y="252.8" font-size="17" textLength="261.3" lengthAdjust="spacingAndGlyphs">mesendoderm associated genes</text>
</g>
<defs><linearGradient id="lg" x1="0" x2="1" y1="0" y2="0"><stop offset="0" stop-color="#bb1428"/><stop offset="0.22" stop-color="#d9545c"/><stop offset="0.5" stop-color="#ffffff"/><stop offset="0.75" stop-color="#8fa9d8"/><stop offset="1" stop-color="#2a62ad"/></linearGradient></defs>
<rect x="503.5" y="18" width="101" height="19.5" fill="url(#lg)"/>
<line x1="506" y1="18" x2="506" y2="21" stroke="#fff" stroke-width="0.8" opacity="0.8"/>
<line x1="530" y1="18" x2="530" y2="21" stroke="#fff" stroke-width="0.8" opacity="0.8"/>
<line x1="577" y1="18" x2="577" y2="21" stroke="#fff" stroke-width="0.8" opacity="0.8"/>
<line x1="600.7" y1="18" x2="600.7" y2="21" stroke="#fff" stroke-width="0.8" opacity="0.8"/>
<g font-size="12" fill="#111" stroke="#111" stroke-width="0.15"><text x="506.7" y="11.2">high</text><text x="578.9" y="11.2">low</text></g>
<path stroke="#7c7cee" stroke-width="1" d="M739.1 159.9h1M768.3 146.3h1M734.7 149.7h1M753.5 169.1h1M749.2 170.8h1M720 162.5h1M741.4 145h1M751.1 132.4h1M744.2 174.5h1M732.2 157.5h1M762.2 149.4h1M776.5 137.5h1M761 147h1M758.7 121.6h1M745.7 142.3h1M735 137.9h1M767.2 136.5h1M760.1 134.5h1M770.5 121.3h1M750 147.3h1M751.4 161.5h1M764.7 148.6h1M758.8 166.4h1M735.4 147.3h1M755.8 130.9h1M730.4 124.6h1M740.3 137h1M749.3 178.1h1M748.9 133.4h1M754.7 133.8h1M752.6 127.9h1M726.5 143.7h1M732.3 136h1M750.7 160.5h1M744.7 177.1h1M750.9 155.6h1M746.8 156.2h1M734.3 156.8h1M743.1 149.2h1M757.2 131.7h1M749.6 155.3h1M766.2 147.3h1M756.3 129.5h1M763.4 163.6h1M749.7 137.6h1M761.3 155.2h1M762.3 154.7h1M737.2 137.2h1M730.4 143.6h1M752.1 129.7h1M752 157.6h1M731 137.9h1M745.7 169.2h1M726.9 154.2h1M734.9 141.7h1M773 143h1M766.4 150.6h1M755.7 168.2h1M770.6 137.7h1M746.6 151.5h1M763.6 142.4h1M747.2 154.1h1M731.6 147.6h1M748.6 133.8h1M753.9 157h1M748.3 147.5h1M738.4 160.3h1M765 137.4h1M749 126.6h1M770 138.1h1M763.5 152h1M740.8 160.7h1M745.2 131.6h1M755.2 134.1h1M750.5 115.9h1M774.9 142.6h1M730.1 148.8h1M743 138h1M750.8 127.7h1M737.1 148.8h1M765.1 143.3h1M746.6 140.5h1M754.1 162.8h1M736.3 146.4h1M739.9 136.6h1M761.6 139.9h1M759 160.3h1M768.3 136.2h1M743.4 129.3h1M746.7 150h1M755.7 162.2h1M735.4 147.2h1M732.4 144.5h1M741.8 134.4h1M750.9 138.6h1M737.9 142.9h1M750.2 123.3h1M728.9 145.2h1M765.3 145h1M742.2 135.3h1M758.8 139.8h1M742.1 157.6h1M751.1 148.6h1M732 145.7h1M760.8 145h1M734.1 151h1M732.7 162.3h1M739.3 148.8h1M746.6 141.8h1M737.5 161.2h1M751 163h1M754.4 133.7h1M743.8 171.4h1M749.5 137.2h1M744.6 155.6h1M730.7 144.4h1M732.6 151.2h1M764.1 148.1h1M763.3 128h1M719.8 135.4h1M756.2 161.4h1M771.4 139.4h1M748.5 166.1h1M735.7 124.7h1M756.8 134.7h1M758.8 138.5h1M764.9 153.8h1M747.6 113.7h1M756 136.5h1M731 165.4h1M755.4 128.3h1M746.9 168.6h1M751.3 152.8h1M761 133.7h1M755.3 136.5h1M761.3 129.9h1M750.9 122.8h1M768.3 125.6h1M761.3 157.4h1M740.1 167.4h1M743.3 131.5h1M757.7 128.9h1M770.8 156h1M738.3 140.1h1M756.4 135.3h1M793.5 163.9h1M755.6 148.8h1M780.3 124.2h1M733.2 132.6h1M753.7 98.7h1M736 159.3h1M748.8 175.1h1M760.9 104.7h1M744.7 147.7h1M737.6 182.2h1M764.8 148.2h1M764.3 159.2h1M745.1 135.1h1M816.3 147.2h1M792.5 160.6h1M802.2 179.7h1M825.3 151.7h1M799.7 166.3h1M818 134.6h1M825.7 158h1M817.3 132.1h1M790.8 133h1M816.3 156.8h1M813.6 136.2h1M786 143.8h1M803.9 172.6h1M784 149.9h1M820.3 158.5h1M790.7 160.3h1M785.1 135.8h1M791.1 160.4h1M795.2 128.2h1M813 169.3h1M817.5 135.3h1M784.9 157.1h1M800 125.5h1M783.7 131h1M818.9 166.2h1M816.1 124.3h1M794.6 131.1h1M802.6 123.1h1M805.6 166.8h1M817.7 136.7h1M793.7 124.6h1M785.4 140.9h1M818.6 161.6h1M800.9 168.1h1M815.2 164.1h1M797.4 131.6h1M818.7 141.1h1M796.6 162.5h1M779.3 135.8h1M816.2 152.5h1M803.1 118h1M788.8 152.3h1M815.4 138.3h1M822.1 133.4h1M794.2 168.3h1M820.7 147.1h1M814.9 128h1M796.6 159.6h1M809.3 159.3h1M811.4 129.3h1M772.2 141.3h1M796.4 127.9h1M774 125.7h1M813.9 132h1M789.1 135.8h1M803.3 125.4h1M814.2 132.5h1M819.1 152.9h1M784.1 135.4h1M820.1 151h1M789.9 161.1h1M816.5 133.6h1M806.2 122h1M823.3 151.5h1M777.9 154.4h1M810.9 165h1M792.7 157.3h1M793.2 130.3h1M820.8 135.9h1M809.8 126h1M824.9 153.9h1M818.2 138.4h1M787.3 154.8h1M792.3 163.8h1M814.6 125.9h1M816.1 132.6h1M781.2 139.1h1M805.2 165.7h1M817.4 156.9h1M794 170.8h1M784 153.7h1M787.1 145.6h1M795.2 126.3h1M822.6 145.7h1M770.4 176.1h1M821.1 159.1h1M813.2 160.5h1M789 118.3h1M786.1 179.7h1M783.9 137.4h1M798.1 114.1h1M795.8 174.8h1M802.1 121.4h1M784.4 148.8h1M810.5 119.9h1M799.9 175.5h1M784.7 128h1M796.9 117.2h1M828.4 166.6h1M806.5 128.5h1M815.6 113.9h1M799.2 175.1h1M771.1 120.7h1"/>
<path stroke="#9090f2" stroke-width="1" d="M748.1 117.1h1M752.3 170.7h1M751.1 150.3h1M760.2 127.1h1M727.7 142.1h1M735.4 145.1h1M748.6 138.3h1M744.8 154.8h1M752.9 164h1M732.4 145.3h1M739.3 142.4h1M750.1 145.1h1M768.5 143.4h1M736.5 139.5h1M752.4 164.6h1M769.5 163.4h1M753.1 137.7h1M762.7 141.4h1M726.6 165.8h1M746 151.3h1M759.9 143.9h1M751.4 129h1M741.1 152.9h1M724.9 156h1M729.7 145h1M753.1 131.4h1M767.1 164.1h1M748.1 140h1M741.6 139.7h1M743.7 144.9h1M735.5 150.1h1M763.6 124.2h1M744.5 162.5h1M772.2 155.7h1M769.1 134.4h1M733.3 144.6h1M749.7 157h1M736.3 143h1M745.2 132.6h1M746 160.2h1M735.9 157.3h1M762.4 146.9h1M775 159h1M770.1 140.3h1M738.8 128.7h1M762 138h1M725.1 161.8h1M748.4 141.5h1M756.6 139.3h1M741.7 159.9h1M750.5 121.6h1M724 145.1h1M744.9 158.8h1M768.2 117.8h1M765.6 143.1h1M761.6 126.4h1M742.9 159.1h1M735.6 144.8h1M749.8 153.2h1M761.1 134.7h1M756.2 158.9h1M749.3 171.3h1M751.4 158h1M728.8 146.8h1M771.1 146.6h1M750.8 124.1h1M744.3 132.7h1M752.3 132.8h1M740.8 153.3h1M762.6 142.9h1M735.9 135.1h1M770.6 157.1h1M758.9 143.2h1M730.4 149.4h1M746.9 134.6h1M749.8 141h1M747.3 131h1M733.5 134.8h1M749.1 159h1M757.3 137.5h1M727.8 148h1M747.8 136.9h1M737.4 120.9h1M745.2 150.4h1M745.8 153.7h1M744.8 132.8h1M743.4 151.5h1M739.3 159.1h1M762.2 139.9h1M745 135.7h1M759 152.3h1M740.2 118.6h1M742.5 157.2h1M756.9 160.7h1M739.4 160.2h1M736.3 163.4h1M774.8 143.8h1M738.9 157.1h1M749.2 159.3h1M739.7 115.3h1M734.5 160.9h1M739.3 134.5h1M746 163.3h1M755 161.8h1M748.3 139.3h1M758.2 159.3h1M766.1 165h1M749.7 165.9h1M767.4 144.7h1M760.6 159.8h1M730.3 163.9h1M762.7 179.8h1M744 161.8h1M717 162.7h1M749.9 130.6h1M772.8 157h1M755.4 150.8h1M776 130.2h1M754 129.2h1M769.9 151.1h1M739.4 171.1h1M755.7 141.8h1M732.5 129.5h1M747 156.8h1M734.4 157.7h1M735.5 156.7h1M734.2 105.9h1M768.7 175.6h1M739.6 104.9h1M774.2 124.9h1M789 169.1h1M720.6 180.1h1M732.3 127.4h1M774.2 129.2h1M742 173.3h1M783.6 155.1h1M713.5 139.7h1M791.1 162.8h1M790.3 148.3h1M779.6 167.6h1M825.3 123.2h1M802.7 117.1h1M794.6 132.2h1M787.1 138.6h1M814.8 132.1h1M813.5 163.8h1M788.8 147.1h1M821.3 147.7h1M815.8 162.7h1M794.6 125.6h1M811.8 139.2h1M788.5 155.3h1M812.7 171.5h1M796.1 161.7h1M785.8 151h1M791.8 127.8h1M805.9 164.3h1M797.9 124h1M807.1 124.5h1M816 161.7h1M825.7 179.3h1M783.1 151.5h1M796.6 118.4h1M788.5 151.7h1M803.2 168.3h1M799.9 120h1M816.3 137.9h1M795.3 164.6h1M807 170.6h1M812.6 125.9h1M810.2 118.1h1M818.1 136.8h1M818.7 139.6h1M791.2 161h1M824.6 125.2h1M819.2 157.8h1M787 141h1M801.9 168.6h1M818.8 146.2h1M789.6 146.5h1M815.2 131.7h1M797.4 165.6h1M816.9 168.4h1M807.5 124.6h1M822.8 169.4h1M790.8 161.6h1M800.5 170.8h1M781.4 130.2h1M796.4 170.2h1M798 125.4h1M804 173.2h1M817.1 137.9h1M822.7 137.5h1M802.6 168.5h1M791.1 123.8h1M805.7 126.6h1M791.3 131.5h1M809.8 131.7h1M790.9 128.6h1M822.2 141.1h1M819.7 144.7h1M790 131.4h1M818.8 135.9h1M819.9 135.9h1M802.5 125.9h1M791.7 164.2h1M786.1 148.9h1M782.2 109.3h1M800.2 123.2h1M807.3 174.2h1M821.4 136.2h1M803.2 115h1M786.6 181.9h1M826 151.1h1M807.4 129.1h1M779.8 149.4h1M776.5 130.7h1M787.5 140.7h1M781.7 137.7h1M793.1 164h1M785.3 137.9h1M785.5 145.8h1"/>
<path stroke="#6a6ae8" stroke-width="1" d="M740.4 161.2h1M745.3 123.5h1M743.7 134.8h1M757.6 130.9h1M739.9 121h1M728.5 139.3h1M735.7 125h1M736.2 154.9h1M752.5 132.1h1M760 139.4h1M765.8 127.3h1M759.6 149.9h1M750.3 126.8h1M747.4 130.8h1M751.2 127.8h1M726.1 142.5h1M750.5 131.6h1M763.7 140.1h1M753.9 119.7h1M744.1 140.8h1M762.1 152.9h1M749.5 157.7h1M765.2 144h1M767.2 161.1h1M749.6 139.9h1M741.4 172.2h1M738.3 147.9h1M748.9 151.8h1M743.6 155.3h1M729.5 140.5h1M768.2 154.3h1M745.2 174.9h1M759.4 171.3h1M744.5 159.2h1M734.2 145.4h1M763.6 148.3h1M745.8 139.5h1M761.7 160.9h1M751.3 160.9h1M739.4 154.9h1M739.1 139.8h1M776.8 161h1M762.6 174.4h1M751.3 156.1h1M733.4 142h1M747.9 154.3h1M742.8 151.7h1M739.7 158h1M753.5 134.9h1M758.4 145.7h1M751.4 159.2h1M769.8 144h1M738 150.9h1M763 123.4h1M759.9 143.2h1M752.9 118.3h1M749 137.1h1M743.6 120.5h1M757.8 165.9h1M737.6 128.9h1M762.4 142h1M741.9 156.4h1M747.6 121.2h1M739.1 136.1h1M749 176.5h1M740.2 135.7h1M775.9 132h1M748.9 160.5h1M756.3 143.3h1M727.2 160.2h1M762.2 146h1M779.7 150.4h1M754.2 137.5h1M753 155.8h1M765.4 143.4h1M757.9 155.3h1M735.3 145.4h1M764 152.3h1M729.8 150.5h1M764.4 132.4h1M768.3 137h1M783.2 145.5h1M749.3 159.2h1M771.3 154.1h1M753.5 136.5h1M730.6 168.2h1M741.2 146.7h1M762.5 135.4h1M751.5 143.9h1M770.2 125.5h1M748.7 146.6h1M742.1 133.3h1M752.1 131.6h1M759.6 141.3h1M732.4 122.5h1M737.9 144.2h1M741.4 154h1M747.5 156.3h1M752.1 141.4h1M775.4 124.2h1M739.5 135.6h1M747.1 142.9h1M768.9 153.6h1M738.1 127.3h1M764.5 135.2h1M747.9 131h1M768.8 127h1M761.8 154.2h1M746.5 161.8h1M741.9 149.9h1M750.8 134.4h1M738.5 164.1h1M759.1 154.3h1M734.7 131.8h1M725.6 130.6h1M746.2 155.9h1M736.4 150.1h1M757.3 155h1M754.5 157.2h1M756.9 153.3h1M754.4 127.4h1M735.3 167.4h1M773.3 148.2h1M741.8 155.7h1M750.8 126.1h1M744 146.4h1M723.3 125.8h1M747.3 157h1M760 149.5h1M744.8 146.8h1M751 137.1h1M732.6 141.9h1M745.6 133.7h1M772.1 133.9h1M744.9 160.1h1M755.5 145.6h1M734.8 114.1h1M772.7 142.9h1M744.9 170.3h1M732.1 139.7h1M799 122.7h1M749.4 121.2h1M760.8 124.4h1M764.1 122.8h1M719.8 138.4h1M758.4 113.7h1M822.7 158.8h1M786.9 148.3h1M795.4 168.1h1M795.4 166.5h1M799.6 120.1h1M820 139h1M828.1 172.3h1M792.8 136.6h1M793.4 163h1M802 167h1M788.5 131.8h1M803.6 173.8h1M802.7 165.7h1M792.3 161.5h1M796 128.4h1M813.5 164.5h1M784.5 144.7h1M821.8 146.8h1M822.1 147.6h1M793.7 168.9h1M792.7 162.3h1M801.5 123.5h1M793.9 165h1M820.1 151.8h1M806 127.4h1M818.4 134.7h1M813.5 166.7h1M820.8 156.4h1M797.5 164.4h1M817.5 173.2h1M820.6 134.3h1M784.5 156.4h1M819.1 137.6h1M812.8 131.7h1M790.8 130h1M795.1 170.3h1M792.1 128.5h1M793.5 163.9h1M785.9 133.5h1M787 148.6h1M808.4 129.2h1M809.3 132.2h1M819.5 138.3h1M788.8 139.3h1M799.2 163.5h1M819.5 146.5h1M786 149.3h1M788.9 165.2h1M817 147.7h1M785.6 162.7h1M789.8 162.3h1M787 147.8h1M812.8 124.9h1M817.2 131.4h1M811.9 171.5h1M817.9 151.6h1M803.9 124.2h1M792.5 157.3h1M790.5 154.8h1M815 134.9h1M829.4 146.2h1M791.6 136h1M788.8 149.3h1M784.9 145.7h1M803.3 168.3h1M817.8 131.8h1M805.9 169.2h1M796 124h1M781.6 131h1M835.7 144.5h1M822.6 168.1h1M793.2 110.7h1M815.4 117.4h1M788.5 160h1M829.7 147.1h1M820.2 161.3h1M813.9 133.6h1M787.8 159.9h1M781.8 155.2h1M828.7 172.5h1M815.1 116.8h1M787.3 135h1M785.1 172.7h1M782.8 154.6h1M783.2 156.9h1M820.5 139.2h1M814.1 167.6h1M831.9 154.3h1M812.2 129.8h1"/>
<path stroke="#a0a0f4" stroke-width="1" d="M751.5 138.4h1M745.8 149.2h1M752.8 147h1M764.8 140.6h1M743.5 165.4h1M749.1 137.6h1M743.1 126.3h1M736.7 152.7h1M744.3 134.5h1M749 120h1M737.6 146.5h1M766.1 150.9h1M779.6 138h1M743.7 136.9h1M754.1 145.5h1M757.7 158.2h1M760.3 140.2h1M758 135.5h1M738.6 155.8h1M737.4 123.8h1M761 134.9h1M761.2 138.8h1M769.5 148.8h1M739.3 138.5h1M755.7 168.3h1M752.4 147.5h1M742.1 144.3h1M737.6 133.9h1M755.1 148.3h1M747.7 143.3h1M760 165.3h1M758.3 149.5h1M770.4 119.3h1M731 132.2h1M740.7 160.9h1M732.6 140.7h1M757.8 150.4h1M740.4 138.9h1M734.1 153.4h1M760.8 167.3h1M752.5 133.9h1M765.9 155.9h1M710.9 145h1M736.8 133.1h1M750.8 134.6h1M738.5 158.8h1M765.2 146.2h1M745.7 147h1M718.8 141h1M744.6 141.2h1M748.3 136.9h1M770.4 149.4h1M758.4 128.1h1M771.5 133.9h1M748.7 168h1M752.9 148.4h1M770.6 167.8h1M776.7 128.8h1M755.5 132.1h1M767.5 158.6h1M754.7 156.8h1M744.1 137.3h1M734.6 118.1h1M739.7 169.4h1M755.2 156.9h1M747.8 144.6h1M751 126h1M754.1 164.4h1M757.8 132.2h1M733.9 119.3h1M760.3 137.1h1M759.5 155.9h1M741.8 171.5h1M736.9 174.9h1M737.1 177.4h1M764.8 139.2h1M746.7 117.6h1M735.9 159.2h1M764.9 176.7h1M738.5 147.7h1M738.7 145.2h1M750.9 175.3h1M763.5 166.2h1M730 148.7h1M738 135.9h1M737.4 139.2h1M728.6 144.2h1M754.5 128.9h1M738.5 134.9h1M734.8 158.4h1M761.8 143.6h1M716.3 167.9h1M738 127.8h1M740.6 141.5h1M727.8 137.6h1M767.6 154.3h1M774.8 126.9h1M743.9 157.4h1M742.2 141.5h1M753.3 181.3h1M743.3 138.5h1M754.1 163.5h1M732 131.3h1M732.8 153.3h1M743.6 158.5h1M740.7 143.3h1M765.7 151.2h1M762.8 129.7h1M749.2 127.3h1M764.6 143.3h1M764.5 150.2h1M757.7 149.8h1M755.3 112.6h1M764.2 153.8h1M752.7 164.4h1M749.2 157.7h1M724.6 128.9h1M764 173.5h1M737.3 175.8h1M763.1 123.5h1M764.6 168.7h1M721.6 131.4h1M744.4 163.1h1M769.4 140.8h1M790.1 176.6h1M747.1 131.9h1M744.6 150.2h1M787.6 190.3h1M762.1 132.6h1M763.5 161h1M764.3 157.4h1M745.3 119.3h1M817.3 138.7h1M803.9 169h1M797.3 168.1h1M801.8 169h1M788.5 160h1M780.7 143.1h1M815.4 155.5h1M821.4 148.9h1M795.9 164.8h1M806.5 125.2h1M790.9 162.2h1M784.9 138.4h1M785.9 147.5h1M802.2 128h1M783 136.1h1M787.5 139.1h1M793.1 126h1M790.1 133.1h1M821.8 140.1h1M798.2 166.8h1M797.7 121.9h1M811.9 161.8h1M817.6 150.4h1M821.1 155.7h1M818.1 154.5h1M783.5 138.2h1M807.5 124.9h1M821.4 136.4h1M818.3 135.9h1M813.5 130h1M786.8 153.2h1M789.9 136.4h1M809 171.3h1M798.5 131.1h1M814 120.2h1M805 129.2h1M790.2 157.7h1M791.4 154.6h1M812.8 137h1M789.8 135.6h1M823.9 158.8h1M805.9 122.5h1M793.5 159.9h1M810.4 127.2h1M797 128.7h1M816.1 158.3h1M796.8 173.2h1M787.1 136.4h1M826.8 121.1h1M823.8 141.8h1M817 149.7h1M785.3 138.6h1M818.7 156.5h1M796.7 170.8h1M806.9 167.5h1M807.2 164.6h1M785 162.8h1M798 131.4h1M788 160.8h1M797.9 165.5h1M791.7 153.4h1M800.5 127.2h1M797.9 125.6h1M806.4 129.3h1M808.2 114.1h1M795.9 127.5h1M813.2 129.6h1M821.4 140.4h1M798.5 127.7h1M819 132.7h1M787.9 146.6h1M791.6 160.8h1M815.6 137.7h1M797.6 129.1h1M825.5 137.1h1M796 162.1h1M789.2 127.3h1M812.5 167.2h1M804.7 166.1h1M813.3 130.2h1M817.9 130.1h1M793.7 116.8h1M768.9 139.5h1M807.5 128h1M788.9 134.2h1M805.1 170.8h1M794.1 182.1h1M802.4 169h1M796.6 111.2h1M819.3 151.7h1M807.9 172.5h1M792.5 106h1M778.3 156.5h1M788.2 145.2h1M774.1 126.2h1M799.2 119.6h1M799.6 108.5h1M789.7 136.9h1M801.6 165h1M801.8 121.7h1M797.3 172.5h1M803.3 127.1h1M826 124.8h1"/>
<path stroke="#4646dc" stroke-width="1" d="M759.8 153.6h1M759.7 151.1h1M747.7 144.9h1M751.6 150h1M760.7 149.8h1M761.9 146.4h1M763 152.1h1M754.7 144.8h1M756 148.7h1M750.4 135.7h1M757.9 144.2h1M750.7 135.7h1M752.5 150.5h1M754.2 150.6h1M752.2 143.3h1M748.7 153.1h1M758.7 145.5h1M757.3 142.7h1M752 155.4h1M741.7 146.7h1M756.4 142.2h1M758.8 141.3h1M758.1 145.6h1M751.1 149.6h1M750.4 154h1M750.7 141.2h1M744.6 140.3h1M751.4 148.5h1M747.8 140.4h1M754.4 144.8h1M758.4 145.3h1M756.3 150.1h1M756.4 148.3h1M752.9 156.5h1M763.9 145.3h1M758.8 149.6h1M758.3 143.4h1M751.1 148.3h1M747.3 145.2h1M747.9 151.5h1M809.3 158h1M790.5 142.6h1M819.7 144.4h1M808.5 163.8h1M817.1 148.3h1M812.9 152.9h1M810.1 132.3h1M796.4 162.8h1M794 136.1h1M802.4 163.5h1M818.5 147.7h1M814.9 153.4h1M797.5 161.6h1M793.1 158.2h1M811.6 142.7h1M800.4 165.2h1M811.3 133.4h1M795.7 154.5h1M789.4 147h1M788.3 142h1M814.1 143.8h1M807.4 156.7h1M819.8 140.2h1M792.5 152.7h1M813.8 151h1M797.1 130.3h1M791.1 138.8h1M793.9 161.2h1M799.5 165.6h1M813 160.3h1M799.7 132.7h1M800.8 131.5h1M796.5 160h1M808.1 127.2h1M809.7 161h1M806.6 162.3h1M793.7 129.9h1M815.9 143h1M806.8 135.1h1M816.6 148.3h1M789.6 139h1M794.6 156.8h1M793.1 161.2h1M792.2 142.3h1M796.6 159h1M811.7 162.8h1M815.2 150.8h1M813.8 139.9h1M812.2 157.2h1M804.8 165.6h1M810.5 159.7h1M788.9 149.2h1M788.7 151.9h1M812.8 160.3h1"/>
<path stroke="#3434cc" stroke-width="1" d="M756 139.7h1M745.8 144.6h1M741.4 147.1h1M750.7 154.3h1M741.6 150.6h1M746.9 151.4h1M749 153.9h1M740.8 134h1M742.8 146.2h1M747.8 132.2h1M744.8 145.7h1M755.7 157.1h1M752.1 153.9h1M752.1 150.7h1M754.2 152.2h1M750.7 149.7h1M746.6 145.3h1M744 142.3h1M751.5 141.6h1M737.7 140.9h1M754.2 136.7h1M749.3 149.8h1M761.4 143.7h1M754.2 150.6h1M746.8 155.5h1M756.3 152.7h1M749.6 146.4h1M751 141.8h1M756.2 148.8h1M750.7 160.8h1M754.6 157.6h1M748.5 137.6h1M746.8 139.9h1M749.7 137.1h1M759.5 152.4h1M742.8 149.2h1M749.5 139.9h1M752.9 140.7h1M759.6 151.2h1M737.6 137.7h1M793.2 139.1h1M796 156.7h1M798.6 128.1h1M795.3 134.9h1M797.8 164.1h1M812.8 135.4h1M791.4 153.4h1M811.7 161.4h1M805.6 132.4h1M814.8 150.2h1M791.6 133.4h1M796.8 162h1M816.1 137.9h1M800.6 164.4h1M815 134.8h1M789.4 140.2h1M796.6 129.1h1M794.4 133.1h1M797.2 130h1M792.8 158.9h1M813.1 153.6h1M805.1 127.8h1M795.2 162h1M805 132.7h1M796.1 158.9h1M809 164.9h1M791.6 131.1h1M807.1 163.7h1M811.4 156.7h1M789.4 150.5h1M793.5 135.9h1M798.6 129.6h1M816.1 137.8h1M797.9 131.3h1M793.2 137.1h1M790.8 147.9h1M814.7 149.2h1M801.8 161.3h1M791.7 156.7h1M815.2 156.3h1M788 143.4h1"/>
<path stroke="#5454e4" stroke-width="1" d="M755.2 141.7h1M754.9 145.6h1M745.5 145.1h1M762.6 141.3h1M753 147.5h1M754 155.4h1M747.3 142.8h1M753.6 147.2h1M756 140.2h1M740.9 153.9h1M751.7 142.5h1M751.1 132.7h1M749.4 151.1h1M739 146.4h1M752 134.6h1M754.6 151.8h1M749.6 147.7h1M745.6 139.1h1M753.7 144.4h1M750.9 138.3h1M753.5 139.4h1M750.3 160.8h1M752.6 149h1M753.4 151.3h1M752.6 138.1h1M750.2 145.6h1M756.5 148.3h1M739 148.8h1M756.3 155h1M749 137.5h1M745.2 142.7h1M814.2 155h1M816.8 153.6h1M815.5 153.7h1M806.5 135h1M815.6 150.1h1M808.5 157.5h1M798.6 163h1M799.7 131.4h1M791.5 139.4h1M811.2 134h1M792.8 135.1h1M810.8 157.9h1M808.7 129.1h1M800.7 130.1h1M808.1 133.1h1M815.4 151h1M812.4 146.5h1M819.8 149.5h1M820.6 145h1M791.4 138.9h1M810.2 132h1M791.7 143.4h1M798.2 127.1h1M787.3 155.3h1M815.2 136.3h1M803 163.7h1M813.8 141.4h1M816.6 145.5h1M792.9 152.5h1M790.5 152.1h1M793.1 154.3h1M802.2 160.4h1M790.8 143.2h1M787.1 141h1M820.6 143.2h1M802 131.7h1M815.6 141.6h1M794.4 134h1M791.7 153.7h1M812.9 161.5h1M800.1 128.8h1M815.6 149.7h1M817.7 143.9h1M794.7 160.5h1M814.9 138.3h1M794.3 133h1M816.9 148.5h1M805 130h1"/>
<path stroke="#5a5ad8" stroke-width="1" d="M750.9 137.5h1M752.3 152.7h1M745.7 143.5h1M748.4 137.9h1M746.1 154.7h1M755.9 150.5h1M751.9 139.9h1M738.3 145.6h1M747.4 147.4h1M751.2 142.5h1M757.7 147.9h1M750.7 145.6h1M743.3 146.8h1M751.2 155.2h1M748.1 140.7h1M758.4 141.3h1M763.8 146.1h1M747.7 134.2h1M750.8 145.9h1M742.4 150.3h1M752.3 139.9h1M746.9 143.5h1M750.8 149.2h1M751 144h1M795.1 132.1h1M792.8 142.9h1M812.9 132.4h1M792.2 156.1h1M800.6 131.4h1M793.2 137.3h1M795.1 133.8h1M799.8 161.3h1M794.5 161.6h1M813.3 152h1M818.1 150.7h1M814.6 148.8h1M812.7 151h1M805.1 127.8h1M792.3 160.5h1M791.3 157.6h1M798.8 161.4h1M792.2 153.8h1M817.4 147.9h1M817 143.5h1M795 137.3h1M791.4 147h1M815.8 142.6h1M787 149.8h1M814.8 150.4h1M805.8 164.5h1M791.2 157.2h1M812.1 157.6h1M791.1 138.1h1M799.2 163.5h1M791.3 157.6h1M802.8 131.3h1M812.4 157.4h1M815.9 154h1M791.8 155.9h1M807.3 165.3h1M799 160.7h1M806 158.9h1M796.1 130.1h1M815.4 142h1M810.3 161h1M814.8 136.1h1M817.9 151.1h1M814.3 146.4h1M800.7 128.6h1"/>
<path stroke="#2222b0" stroke-width="1" d="M752.9 143h1M749.8 144.4h1M811.6 156.9h1M809.2 154.4h1M809.9 137.7h1M795.6 137.6h1M805.3 135.3h1M810.4 146.4h1M815.2 141.8h1M807.2 159h1M815.1 146.3h1M794.4 140.2h1M812.3 145.4h1M803.9 159.6h1M789.9 144.2h1M811.6 136.9h1M809.3 159.1h1M812.5 145.5h1M799.4 163.4h1M802.5 159.4h1M813.2 143.1h1M789.7 149.9h1M808.5 131.4h1M809 134.9h1M812.2 142.9h1M815.2 140h1M803 162.7h1M811.7 158.4h1M813.2 153.7h1M801.1 161h1M797.2 159h1M800.1 157.4h1M791.3 151.1h1M801.2 160.3h1M800.9 137.8h1M815.3 139.5h1M793.2 142.9h1M795.7 137h1M804.8 159.2h1M809.3 138.3h1M806.2 129.4h1M812.1 140.8h1M796.4 156.5h1M793.2 142.6h1M812.3 156.6h1M793.9 147h1M806.1 156.7h1M806.6 160.6h1M806.2 133.1h1M808.2 135h1M794.6 135.5h1M791.1 141.7h1M811 143h1M806.9 154.9h1M792.9 143.9h1M794.4 137h1M803.4 158.2h1M809.7 139.6h1M794.5 150.1h1M801.2 135.7h1M811.9 158.3h1M796 153.9h1M808.1 139.8h1M810.4 131.5h1M812.4 151.3h1M794.3 154.7h1M814.5 147.2h1M814.8 152.4h1"/>
<path stroke="#1a1aa0" stroke-width="1" d="M747.7 144.6h1M750.2 148.7h1M754.9 147.1h1M795.1 136.1h1M809.2 154h1M813.7 147.6h1M799.4 156.9h1M795.2 143.9h1M802.9 131.8h1M793.8 147.1h1M811.1 151.4h1M808.6 154.1h1M797.5 159.7h1M794.2 137.2h1M805.3 159h1M804.2 159.5h1M788.5 145.7h1M792.2 157.2h1M813.4 138.2h1M810.5 136.1h1M811.5 156.3h1M791.5 144.4h1M797.2 154.9h1M809.8 150.1h1M814.2 152.6h1M802.3 130.7h1M795.6 134.3h1M794.3 143.8h1M814.9 145.1h1M798.5 159.9h1M793.6 155.9h1M795.2 154.4h1M807.6 161.4h1M800.5 157.7h1M794.9 157.8h1M791.1 145.9h1M794.6 162.4h1M811.2 148.7h1M794.2 144.4h1M812.9 148.8h1M796.3 134.6h1M798.1 139.4h1M809.9 156h1M811.1 135.4h1M815.2 145.5h1M801 155.8h1M809.2 157.6h1M814.6 150.2h1M811.7 142.1h1M797 153.5h1M802.5 131.8h1M803.9 134.6h1M795.1 158.6h1M792.9 146.5h1M789.8 140.9h1M790.3 141.7h1M812 145h1M795.7 140.5h1M815.4 155.6h1M801.9 160.5h1M800.1 134.5h1M794.3 149.4h1M793.8 157.5h1M797 160h1M810.3 133.3h1M811.3 151.6h1M810 158h1M797.1 133.8h1M798 133.6h1M806.9 136.6h1M816.3 146.9h1"/>
<path stroke="#2a3cc0" stroke-width="1" d="M810.2 151.8h1M815.3 149.1h1M815.6 140.5h1M813.1 151.5h1M810.1 141.3h1M809.7 156.3h1M793.8 136.1h1M816.3 151.1h1M799.2 158.9h1M800.4 159.5h1M805.6 135.6h1M798.7 134.1h1M793.3 145.3h1M791.1 147.3h1M797.6 158.3h1M811.5 137.9h1M804.2 162.5h1M791.3 148.5h1M793.3 156.2h1M793.1 137h1M805.5 157.3h1M810.8 157.6h1M793.7 136.4h1M800.1 129.7h1M815.7 148h1M808.9 142h1M792.2 152.9h1M805.9 131.6h1M803.5 130.1h1M808.8 157.9h1M800.8 132.1h1M790.6 142.2h1M795.5 143.4h1M796.2 158.9h1M813 152.8h1M814.2 149.4h1M810 135.9h1M796.6 133.1h1M806.9 131.5h1M794.1 161.1h1M791.6 141.6h1M798.3 160.7h1M794.2 154.9h1M796.6 142.4h1M798 158.2h1M800.4 132.1h1M814 155.5h1M807.3 132.6h1M810.5 139.7h1M807.6 159.6h1M814.3 139.8h1M803 136.1h1M811.6 135.7h1M802.4 132.9h1M800.1 132.9h1M793.6 139h1M792.6 135.9h1M812 142.7h1"/>
<path stroke="#30309a" stroke-width="1" d="M750 147.9h1M751.8 147.5h1M753.9 140.7h1M752.2 148.1h1M748.1 148.2h1M806.8 134.3h1M792.7 146.3h1M816.3 146.8h1M804 160.3h1M795.4 144.6h1M792.5 153h1M814.3 151.5h1M812.3 152.9h1M808.5 131.4h1M808.8 135.5h1M809.7 157h1M791.9 147.2h1M813.1 142.1h1M811.3 145h1M798.7 160.1h1M811.5 156h1M814.8 147h1M793.8 159h1M793.1 132h1M796.7 156h1M807.1 161.2h1M794.5 153.7h1M791.4 144h1M811.8 152.4h1M805.8 133.8h1M811.3 157h1M809.4 156.8h1M798.6 138.1h1M794.7 135h1M800.8 156.5h1M811.9 138.3h1M805.3 134.6h1M810.6 154h1M806.5 157.4h1M798.3 135.8h1M794.2 137.7h1M808.9 157.3h1M799 130.7h1M811.5 134.3h1M813.5 154.1h1M805.5 161.7h1M799.5 159.1h1M790.3 141.5h1M803.5 153.4h1M807.6 159.8h1M808.9 161.8h1M812.2 154.1h1M792.5 145h1M796.4 148.7h1M804.3 131.2h1M794.9 151.7h1M808.7 133.6h1M806.1 160.6h1M798.4 138.7h1M801.5 157.7h1M802.8 157.9h1M794.6 138.6h1"/>
<path stroke="#1e5aa8" stroke-width="1" d="M794.2 140h1M809 157h1M809.4 153.9h1M806.9 140.2h1M808.8 147.1h1M791.8 145.6h1M812.1 151.3h1M811.7 137h1M795.3 144.6h1M792 141.7h1M810.3 148.5h1M797.1 157.6h1M809.2 134.9h1M799.6 136.9h1M805.6 156.6h1M807.9 143h1M804.7 151.9h1M798.6 139.9h1M795.5 142.7h1M794.6 150.7h1M799.5 135.7h1M795 143.8h1M811.2 139.9h1M803.8 151.9h1M794.3 153.1h1M807.4 153.3h1M812.7 146.6h1M813.8 148.9h1M796.4 141.2h1M796.2 140.5h1M804.5 155.2h1M803.8 159.9h1M798.4 155.6h1M791.8 146.7h1M806.4 156.5h1M790.9 149.8h1M810.4 153.9h1M798 134.6h1M810.2 137.6h1M799.4 141.6h1M796.7 144.7h1M812.9 148.7h1M808.8 156.2h1M806.5 155.9h1M809.9 158h1M796.8 153.6h1M797.6 142.8h1M812.3 148.3h1M805 158.2h1M811.8 141.3h1M796.1 146.8h1M797.5 134.4h1M807.2 150.2h1M808.1 154.3h1M793.3 151.4h1M809.2 151.2h1M808.9 136.7h1M806.2 134h1"/>
<path stroke="#2a7ab0" stroke-width="1" d="M801.2 132.2h1M808.5 156.8h1M812.9 154h1M810.5 152.2h1M804.1 149.2h1M805.8 136.6h1M800.3 131.8h1M811.7 139.1h1M813 145.5h1M800.9 157.8h1M802.5 152.8h1M792.8 146.4h1M810.7 144.4h1M803 132.7h1M793 142.5h1M808 143.6h1M804.3 135.4h1M795.2 138.2h1M811.5 155h1M798.1 152.3h1M805.8 140.3h1M794.7 154.5h1M803.8 159.7h1M804.6 156.7h1M801.5 156h1M809.8 157.6h1M797.1 151.4h1M802.6 136.7h1M802 135.8h1M810.8 139.2h1M795.6 153.7h1M804.4 136.6h1M809.3 136.8h1M794.1 141.5h1M811.8 150.8h1M795.9 157.6h1M800.7 158.3h1M792.6 149.5h1M812.8 148.8h1M813.8 141.1h1M796.9 144.9h1M810.4 150h1M799.9 157.6h1M803.1 140.3h1M794.1 148.5h1M809.6 142.3h1M809.5 153.7h1M810 140h1M811.3 146.7h1"/>
<path stroke="#3a90b0" stroke-width="1" d="M806.5 160.5h1M795.5 146.8h1M804 156.8h1M799.9 153.3h1M804.8 157.2h1M798.7 135h1M808 151.6h1M808.6 137.9h1M810.1 141.5h1M808 140h1M801.7 136h1M796.1 143.8h1M814.5 146.3h1M792.4 150.8h1M794.2 155.3h1M793.4 150h1M809 139.4h1M799.8 134.2h1M802 138.9h1M811.1 141.2h1M795.3 156.2h1M803.6 136h1M805.4 156.6h1M804.4 134.5h1M793.2 153.1h1M812.7 144h1M802.1 133.9h1M811.6 149.6h1M803.6 134.5h1M807.9 149.4h1M812.4 146.6h1M800.8 133.4h1M811.4 149.1h1M792.9 140.2h1M809 155.4h1M793.2 149.3h1M813 140.9h1M794.5 139.6h1M793.7 149.4h1M800.2 140.8h1M802.3 134.7h1M797.6 153.5h1M799.5 141.4h1M796.1 138.6h1"/>
<path stroke="#286098" stroke-width="1" d="M796.2 145.1h1M794.3 151h1M807.3 147.4h1M807.7 143.3h1M797.2 152.1h1M798.9 156.4h1M809.3 156.1h1M810.4 136.8h1M809.6 140h1M797.4 135.6h1M809.8 152h1M796.7 150.7h1M805.7 150.3h1M806 138.6h1M794.8 134.8h1M805 138h1M800.7 155.8h1M806.8 138.9h1M808.8 146.2h1M797.3 134.4h1M796.8 143.3h1M801.4 158.2h1M806.6 135h1M807.7 150.5h1M806.9 158.4h1M807.1 135.4h1M811 147.5h1M806.2 141.6h1M799.8 158.5h1M801.6 158.5h1M807.9 148.8h1M808.6 146.3h1M805.5 138.1h1M806.2 159.7h1M793.9 152.1h1M798.1 149.5h1M800.1 153.8h1M812.8 137.8h1M800.1 153.5h1M798.6 144h1M810.8 155.4h1M807.2 139.1h1M811 137.6h1M809.1 153.8h1M793.8 146h1M808.1 142h1M807.7 140.6h1M801.2 132.1h1M802.2 145.3h1M794.2 140.9h1M812.5 151.3h1M796.9 145.7h1M805.7 134.9h1M805.2 137.7h1M798.4 140.1h1M796.9 142.1h1"/>
<path stroke="#30a080" stroke-width="1" d="M806.9 152.1h1M803.7 153.1h1M807.5 139.9h1M809.4 150.4h1M802 144h1M802.1 151.2h1M795.6 151.6h1M794.3 151.8h1M793.6 145.6h1M802.4 139.3h1M799.6 153.2h1M806.8 150.4h1M804.1 142h1M809.5 156.9h1M805.9 146.5h1M802.1 156.9h1M800.7 147.2h1M799.2 144.6h1M796.8 142.7h1M796.6 142.5h1M794.9 142.6h1M800.5 136.8h1M807.2 141.8h1M806.3 150h1M808 140.4h1M800.1 137.4h1M807.4 137.6h1M802.4 153.5h1M803.4 138.5h1M798.8 140.5h1M811.8 146.2h1M808 156.1h1M793.7 147.1h1M804.1 136.5h1M801.2 148.5h1M799.9 141.5h1M799.7 141.9h1M799.6 146.8h1M801.5 156.1h1M796.1 148.3h1M800.5 145.5h1M809.5 148.8h1M803.8 152.7h1M792.9 144.9h1M810.9 152.1h1M807.6 154.5h1M806.6 159.1h1M798.2 152.5h1M806.7 156.1h1M799 150.1h1M811.9 142.1h1M804 141.5h1M799.6 136.8h1M804.2 153h1M793.7 147.9h1M805.4 142.4h1M804.9 134.5h1M803.6 154h1M794.7 142.1h1M796.3 152.5h1M806.2 136h1M795 146.1h1M796.9 157.5h1M807 155.1h1M797.4 143.1h1M804.9 134.6h1M802.8 158.3h1"/>
<path stroke="#3aa868" stroke-width="1" d="M801.8 139.6h1M797.7 139.2h1M799.9 144.2h1M803.4 141.5h1M803.1 144h1M809.3 146.7h1M797 146.3h1M804.9 155.9h1M795.3 147.6h1M812.6 148.7h1M808.1 143.1h1M800.6 143h1M799.8 142.4h1M812.4 146.6h1M802.1 153.8h1M802 148.9h1M801.8 148.2h1M803.8 139.3h1M797.9 156h1M805.9 154.5h1M804.2 158.2h1M809.7 140.9h1M793.3 148.4h1M796.9 145.9h1M800.2 139.9h1M802.5 134.8h1M811 139.3h1M803.3 155.3h1M812 141.9h1M802.6 156.8h1M797 150.3h1M808.3 153.4h1M801.7 155.7h1M794.7 150.5h1M794.1 143.3h1M799.7 145h1M812.5 144.3h1M810.8 149.9h1M806.2 150.5h1M801.3 139.7h1M805.8 150h1M806.8 151.3h1M806 140.6h1M810 137.4h1M801.7 146.1h1M805.4 154.1h1M808.5 155.5h1M807.2 146.9h1M793.1 144.8h1M797.6 139.5h1M804 149.6h1M812.1 153.7h1M802.6 145.3h1M810.9 143.1h1"/>
<path stroke="#2a9090" stroke-width="1" d="M795 145h1M805.2 148h1M798.7 136.6h1M805.4 145.7h1M799.2 149.9h1M799.2 154.5h1M798.9 150.8h1M801.1 150.7h1M801.2 158.6h1M801.6 136.8h1M794.1 146.7h1M797.4 149.3h1M799.5 135.7h1M805.9 136.5h1M808.4 146.4h1M809.9 150.5h1M795.7 137.2h1M807.1 149.7h1M812.4 146.5h1M811.3 152.1h1M810.9 145.5h1M794.4 140.9h1M802 142h1M805.7 154.4h1M797.3 147.7h1M809.8 151.6h1M808.5 156.9h1M795.5 143.3h1M796.4 146.1h1M803.9 156.1h1M807.4 136.8h1M808.4 149.7h1M805.3 136.1h1M801.5 139.8h1M797 144.8h1M799.4 152.9h1M811.6 141.2h1M798.7 136h1M798.3 139.4h1M812.5 150.7h1M794.1 140.8h1M803.7 150.3h1M810.6 157.1h1M795.1 148.2h1M801 136.2h1M805.6 135.8h1M796.5 146.9h1M807.6 137.6h1M810.4 154.1h1M806.3 135.7h1M801.5 147h1M808.1 135.3h1M803.3 143.4h1M811.6 141.3h1M808.6 147.1h1M793.2 148h1M808 151.8h1M794.4 144.1h1M797.5 156.3h1M797.3 136.9h1M794 148.2h1M804.8 133.7h1M799.1 137.5h1M811.7 142.4h1M809.4 152h1M797.2 149.7h1M800.6 155.1h1M810.6 150.1h1M795.3 154.3h1"/>
<path stroke="#58b840" stroke-width="1" d="M800.1 146.3h1M797.5 146.9h1M797.2 143h1M802.2 147h1M806.2 146.2h1M799.9 149.6h1M795.8 143h1M804.1 153.3h1M796 144.7h1M801 154.8h1M799.2 153.6h1M799.6 139.8h1M796.4 138.5h1M805.5 144.1h1M804.7 143h1M803.9 148.5h1M797 146.1h1M798.2 145.2h1M805.5 143.2h1M803.3 154.1h1M808.3 151.3h1M799.9 148h1M810.9 144.5h1M798.3 146.7h1M800.9 148.9h1M803.9 141.3h1M795.1 151.1h1M808.4 141.9h1M800.6 147.1h1M800.6 149h1M807.6 146.7h1M801.6 153.5h1M798 154.4h1M798.7 139.5h1M807.9 146.5h1M800.9 155.8h1M805.2 151.6h1M805.5 144.2h1M796.7 146.7h1M799.3 145.7h1M810.4 144.7h1M800.4 137.1h1M800.5 155.3h1M801.2 152.2h1M796.5 148.1h1M798.1 145.5h1M801.1 157.4h1M801.5 152.1h1M808.2 139.9h1M799.4 150.2h1M796.4 143.5h1M797.7 140.1h1M811.2 142.1h1M801 137.4h1M794.8 143.5h1M802.2 149.5h1M805.4 148.7h1M799.5 141.2h1M797.7 145.4h1"/>
<path stroke="#70c038" stroke-width="1" d="M798.1 146.6h1M801.3 147.9h1M797.4 142h1M811.6 145.1h1M803.2 144.2h1M801.9 151.5h1M806.4 142.2h1M802.5 140.3h1M803.8 140.2h1M801 149h1M796.5 147.5h1M798.4 152.1h1M794.1 146.3h1M804.5 150.3h1M807.8 139.8h1M804.9 143.5h1M801.7 143.3h1M802.5 142.6h1M797.6 140.5h1M803 144.2h1M804.3 142.6h1M799.8 140h1M800.1 137.3h1M803.7 149h1M807.2 140.8h1M809.1 141h1M810.3 144.8h1M808.8 145.7h1M798.7 142.6h1M800.3 142.3h1M800.8 143.4h1M809.6 144.1h1M808.7 147.1h1M805.9 146.5h1M804 143.4h1M797.4 144.2h1M810.3 153.1h1M809.1 140.7h1M805 137.9h1M800 148.9h1M804.9 150.9h1M806.3 148h1M806.8 143.7h1M811.3 146.3h1M796.7 149.1h1M799.3 154.2h1M796.8 150.9h1M809 142.8h1M800.3 147.2h1M804.1 138.2h1"/>
<path stroke="#90c838" stroke-width="1" d="M795.8 148.4h1M799.4 143.9h1M804.3 148.9h1M803 157.1h1M801.8 152.8h1M801.5 139.3h1M796.7 146.7h1M804.6 139.7h1M798.3 151.3h1M801.1 145.7h1M805.9 144.1h1M796 145.4h1M806.8 153.5h1M795 147.8h1M796.9 152.8h1M795.8 140.9h1M803.1 153.9h1M803.5 141.8h1M799.3 137h1M802.3 149.8h1M803 136.2h1M800.2 150.1h1M801.6 153.9h1M796.4 148.5h1M802.3 144.8h1M801.6 152h1M809.6 143.5h1M805.5 137.7h1M806.2 155.2h1M798.3 143.6h1M802.8 137.1h1M803.2 155.7h1M800.9 141.5h1M799.1 154.2h1M807.7 148.6h1M797.2 142.3h1M797.8 139.2h1M806.5 152.1h1M796.2 145h1M803.8 142h1M808.5 145.4h1M801.9 138h1M811 144.3h1M797.3 137.6h1M806.3 142.5h1M807.4 153.3h1M805 143.1h1M799.3 141.6h1M799.2 144.4h1M808.9 144.9h1M802.4 136.2h1M802.8 150.9h1M799.7 142.5h1M804.9 139h1M804 157.1h1M808.4 142.8h1M809.7 152h1M804 152.4h1M804.8 154.4h1M807.7 151.3h1M809.5 147.4h1M797.5 140h1M809.3 151.7h1M808.7 144.4h1M800.2 151.8h1M804.9 145.5h1M798.6 152.8h1M807.5 147.6h1M808.1 145.9h1M804 139.7h1"/>
<path stroke="#40b050" stroke-width="1" d="M804.4 135.6h1M797 151h1M809.3 150.9h1M800.9 152.7h1M806.2 155.7h1M805.8 140.2h1M802.4 147.8h1M808.8 148.7h1M806.5 139.1h1M801.6 145.6h1M795.2 142.1h1M798.2 150h1M797.1 145.5h1M809 147.3h1M806.4 147.8h1M806 146h1M809 143.3h1M808.6 150.1h1M796.7 147.6h1M803.9 150.5h1M805 137.6h1M809.8 139.5h1M800 143.6h1M809.2 149.7h1M805.4 148.6h1M808.1 141.5h1M801 152h1M798.1 156.1h1M804.3 143h1M797.1 146.9h1M806.2 149.8h1M803.3 152.4h1M808.1 141.7h1M804.5 139h1M799.7 151.7h1M801.1 149.3h1M805.3 153.1h1M806.2 154h1M803.1 140.1h1M798.8 155.6h1M811.2 142.9h1M796.1 147.4h1M807.2 151.7h1M795.5 143.9h1M801.2 151.1h1M798.9 145.4h1M798.1 150.2h1M803.4 138.1h1M797.5 151.2h1M806 151.9h1M797.2 153.8h1M801.9 146.3h1M807.6 141.1h1M806.4 155.6h1M808.8 139.3h1M802.7 156.9h1M803.6 157.4h1"/>
<path stroke="#c8d030" stroke-width="1" d="M801.3 145.5h1M798 143.5h1M807.7 142.3h1M798.9 142.5h1M803.8 146h1M797.4 150.7h1M806.1 145.1h1M800.4 144.2h1M800 150.1h1M805.2 147.1h1M803.8 147.2h1M797.4 141.4h1M804.3 151.8h1M800.5 141.5h1M803.6 147.2h1M806.9 152.3h1M804.3 143.9h1M800.7 153.2h1M800.5 144.4h1M799.6 147.3h1M800.2 147.1h1M804.4 146.3h1M803.1 144.2h1M799.5 148.8h1M803.1 142.4h1M802.6 150.6h1M800.3 144.7h1M797.2 148.5h1M807.6 149.8h1M800.7 147.2h1M809.9 146.1h1M796.2 143.1h1M806.6 147h1"/>
<path stroke="#e0d030" stroke-width="1" d="M804.9 147.3h1M801.6 144.9h1M806.5 146.8h1M802.4 141.8h1M799.3 149.2h1M800.9 145.9h1M805.4 139h1M802.9 149.8h1M796.6 148.3h1M802.8 150.5h1M801 142.4h1M802.8 151.4h1M804.2 152.8h1M799.8 147.3h1M805.4 148.2h1M799.2 147.5h1M802.9 147.5h1M800.4 141.8h1M804.3 148.2h1M802.4 145.2h1M806.3 148.5h1M801.4 149.5h1M803.4 152.2h1M808.9 147h1M801.7 145.8h1M805.4 141.7h1M798.8 150.1h1M804.3 141.1h1M806.9 148.8h1M804 144.6h1M800.9 149.3h1M801.8 153h1M802.4 144.9h1M805.2 145h1M802.4 141.1h1M804 141.9h1"/>
<path stroke="#b0c830" stroke-width="1" d="M800.1 142.6h1M804.4 147.5h1M803.2 155.2h1M808.5 145.2h1M805.3 147.6h1M801.6 146h1M803.6 151.1h1M798.9 142.3h1M806.1 149.9h1M802.2 150.7h1M800.8 150.8h1M798.8 142.9h1M806.1 146h1M800.2 148.1h1M802.4 147.8h1M797.5 146.7h1M799 139.2h1M801.8 150.5h1M802.2 153.2h1M799.5 151.8h1M805.3 151h1M803.5 153h1M803.8 150.2h1M807 143.2h1M805.1 147.9h1M796.2 148.9h1M801.6 151.6h1M798.2 150.3h1M804.5 143.8h1M802.9 141.6h1M803.6 148.6h1M800.7 144.8h1M803 147.7h1M804.3 152.7h1M807.4 146.4h1M807.4 145h1M798.7 144.7h1M796.2 149.7h1M799.6 150.6h1M806.2 144.3h1M804.1 148.8h1M799.4 145.9h1"/>
<path stroke="#f0a030" stroke-width="1" d="M804.6 139.9h1M803.7 145.6h1M800.3 142.2h1M805 145.9h1M801 150.4h1M803.4 149.5h1M801.2 151.7h1M804.5 150.8h1M801.2 148.1h1M801.4 146.3h1M806.9 149.8h1"/>
<path stroke="#e86028" stroke-width="1" d="M803.9 145h1M798.9 143.8h1M799.7 150.1h1M798.5 145h1M802.1 145.4h1M800.9 147.8h1M801.9 151.6h1M798.4 148.5h1M804.4 143.2h1M805.8 148.5h1M804.7 142.2h1M803.6 150.1h1M802.5 142.5h1M801.8 147.8h1M799.6 145.8h1M807.7 146.3h1"/>
<path stroke="#e04030" stroke-width="1" d="M802.5 149.9h1M804.4 146.9h1M803.1 145.4h1M804 147.1h1M807 142.9h1M805.1 147.5h1M806.7 147.6h1M801.4 150.5h1M803.6 145.1h1M798.6 146.9h1M804.9 144.1h1M802.7 141.8h1"/>
<rect x="708.8" y="38.6" width="155.50" height="155.30" fill="none" stroke="#3a3a3a" stroke-width="1.1"/>
<polygon points="775.8,111.6 841.8,111.6 841.8,177.6 766.8,177.6" fill="none" stroke="#111" stroke-width="1.8" stroke-linejoin="miter"/>
<path d="M706.6 187.89H708.8M706.6 181.88H708.8M706.6 175.86H708.8M706.6 169.85H708.8M704.8 163.84H708.8M706.6 157.83H708.8M706.6 151.82H708.8M706.6 145.80H708.8M706.6 139.79H708.8M704.8 133.78H708.8M706.6 127.77H708.8M706.6 121.76H708.8M706.6 115.74H708.8M706.6 109.73H708.8M704.8 103.72H708.8M706.6 97.71H708.8M706.6 91.70H708.8M706.6 85.68H708.8M706.6 79.67H708.8M704.8 73.66H708.8M706.6 67.65H708.8M706.6 61.64H708.8M706.6 55.62H708.8M706.6 49.61H708.8M704.8 43.60H708.8M718.16 193.9V195.7M723.64 193.9V195.7M727.52 193.9V195.7M730.54 193.9V195.7M733.00 193.9V195.7M735.08 193.9V195.7M736.89 193.9V195.7M738.48 193.9V195.7M739.90 193.9V197.4M749.26 193.9V195.7M754.74 193.9V195.7M758.62 193.9V195.7M761.64 193.9V195.7M764.10 193.9V195.7M766.18 193.9V195.7M767.99 193.9V195.7M769.58 193.9V195.7M771.00 193.9V197.4M780.36 193.9V195.7M785.84 193.9V195.7M789.72 193.9V195.7M792.74 193.9V195.7M795.20 193.9V195.7M797.28 193.9V195.7M799.09 193.9V195.7M800.68 193.9V195.7M802.10 193.9V197.4M811.46 193.9V195.7M816.94 193.9V195.7M820.82 193.9V195.7M823.84 193.9V195.7M826.30 193.9V195.7M828.38 193.9V195.7M830.19 193.9V195.7M831.78 193.9V195.7M833.20 193.9V197.4M842.56 193.9V195.7M848.04 193.9V195.7M851.92 193.9V195.7M854.94 193.9V195.7M857.40 193.9V195.7M859.48 193.9V195.7M861.29 193.9V195.7M862.88 193.9V195.7M864.30 193.9V197.4" stroke="#3a3a3a" stroke-width="0.9" fill="none"/>
<g font-size="7.6" fill="#3c3c3c" stroke="#3c3c3c" stroke-width="0.12"><text x="702.0" y="167.1" text-anchor="end">50K</text><text x="702.0" y="137.1" text-anchor="end">100K</text><text x="702.0" y="107.0" text-anchor="end">150K</text><text x="702.0" y="77.0" text-anchor="end">200K</text><text x="702.0" y="46.9" text-anchor="end">250K</text><text x="711.8" y="209.5">10<tspan dy="-4.6" font-size="6.6">1</tspan></text><text x="734.6" y="209.5">10<tspan dy="-4.6" font-size="6.6">2</tspan></text><text x="763.3" y="209.5">10<tspan dy="-4.6" font-size="6.6">3</tspan></text><text x="792.0" y="209.5">10<tspan dy="-4.6" font-size="6.6">4</tspan></text><text x="821.2" y="209.5">10<tspan dy="-4.6" font-size="6.6">5</tspan></text><text x="849.5" y="209.5">10<tspan dy="-4.6" font-size="6.6">6</tspan></text></g>
<text x="734.5" y="55.8" font-size="14.4" font-weight="bold" fill="#111">WT(DE)</text><text x="799.6" y="55.8" font-size="14.4" font-weight="bold" fill="#c42030">74.8%</text>
<path stroke="#7c7cee" stroke-width="1" d="M911.3 164.8h1M917.2 147.5h1M940.4 160.5h1M905.3 169.5h1M945.8 170.4h1M934.1 163.8h1M948.3 153.4h1M926.9 159.1h1M918.9 136.3h1M916.5 136.1h1M921.5 160.1h1M950.3 136.7h1M916.9 125.3h1M927.1 162.1h1M930.1 132.3h1M923.9 172.3h1M935.5 121.5h1M919.2 131.2h1M919 129.4h1M918.3 143.9h1M975.4 164.2h1M936.8 114.5h1M955.2 150.6h1M928.9 164.3h1M925 121.6h1M928.2 177.2h1M951.8 156.2h1M933.6 117.4h1M934.6 126.2h1M920.1 173.5h1M910.4 134.5h1M904.6 127.6h1M956.7 136.2h1M942.3 122.5h1M948 162.4h1M919.4 123.4h1M928.2 161.9h1M933.1 119.2h1M931.7 164.6h1M914 170.5h1M950.2 142.4h1M937.1 125.9h1M915.7 131.5h1M947.1 130.1h1M921.2 141.2h1M935 166h1M918 165.2h1M937.4 137.7h1M945.2 119.7h1M961.9 143.1h1M934.7 162.6h1M918.8 159.5h1M948.1 153.2h1M948.2 159.3h1M957.8 147.6h1M907.4 164.5h1M932.5 128.7h1M947.7 145.1h1M931 117.4h1M937.3 127.8h1M918.6 150h1M942 170.3h1M948.4 154.3h1M917.3 151.8h1M950.4 147.7h1M927.9 167.4h1M922.5 140.1h1M940.3 131.4h1M945.5 130h1M932.1 182.1h1M943.4 160.5h1M956.5 124.7h1M943.9 138.3h1M937.2 118.8h1M921.4 135.6h1M926.8 107.3h1M935.1 166h1M948.3 162.6h1M932.6 172.6h1M942.2 127.9h1M919.5 162.9h1M950.9 117.5h1M943.6 128.5h1M943.7 166.6h1M919.9 155.9h1M949.9 156.3h1M943.3 121.3h1M948.5 137.6h1M922.4 141.9h1M950.4 127.5h1M921 143.8h1M927.7 124.1h1M941.1 166.4h1M919.9 167h1M938.5 120.6h1M916.4 122h1M934.5 171.1h1M943.8 179.4h1M923 141.8h1M943.2 129.5h1M919 161.6h1M956.5 147h1M913.5 143.8h1M932.1 166.1h1M915.2 159.8h1M923.9 133.3h1M912.3 156h1M906.9 121.4h1M921.5 130.7h1M943 157.6h1M923.6 154.2h1M918.8 159.3h1M932.5 134h1M957.7 162.5h1M946.7 119.7h1M952.6 141.8h1M946.4 173.7h1M937.1 122.6h1M956.7 136.5h1M917.6 165.7h1M915 143.7h1M958.8 167.2h1M952.5 136.8h1M954.3 156.4h1M958.8 150.6h1M930.2 170.2h1M937 128.8h1M929.5 161.1h1M916.8 157.1h1M922.7 157.5h1M945.1 161.6h1M947.6 139h1M928 172.8h1M932.8 107.6h1M918.3 146.3h1M953.5 166.6h1M922.1 140.3h1M919 170.8h1M930 165.4h1M950.1 150.4h1M910.5 150.1h1M950.2 170.8h1M941.3 125.1h1M930.1 176.8h1M934.8 167h1M930.1 174.3h1M941.1 170.1h1M944.9 160.3h1M930 126.9h1M950.6 136.5h1M946.7 114.9h1M924.3 137.5h1M952.9 126.6h1M955.3 156.9h1M918.8 163.5h1M942.1 160.9h1M906.1 110.3h1M913.8 157.3h1M921.6 120h1M917.4 137h1M956.8 160.7h1M907.6 160.3h1M905.9 103.3h1M948.3 165.4h1M921.9 137.7h1M919.5 121.5h1M951.2 169.5h1M965.6 178h1M948.8 122.4h1M910.6 143.6h1M993.8 140.6h1M991.1 165.4h1M1002.9 144.4h1M1004.6 138.2h1M990.1 132.8h1M989.1 139.8h1M998.2 140h1M994.8 167.1h1M1006.4 157.4h1M1000.4 133.2h1M1008.1 145.6h1M989.3 168.8h1M987.1 141.5h1M986.6 154.9h1M997.7 123.3h1M993.5 135h1M1004.7 161.7h1M997.2 173.5h1M988.8 147.5h1M1008.6 162.7h1M989.2 162.7h1M986.2 157.3h1M1001 143h1M990.1 132h1M1006.2 132.8h1M994.7 157.4h1M993.3 135.8h1M978.9 125.8h1M1019.3 153.7h1M1005.1 152.8h1M981.3 131h1M1005.8 159.7h1M1001.3 136.7h1M990 133.2h1M993.4 166.4h1M996.9 133.8h1M993.6 134.6h1M1009.6 146.8h1M989.7 141.9h1M1008.9 142.5h1M1004 160.9h1M988 128.5h1M1002.4 133.6h1M981.2 158h1M997.1 138.2h1M1006.8 141.5h1M1011.8 156.7h1M1010.2 168.7h1M982.2 160.1h1M1004.6 161.1h1M985.1 171.5h1M997.4 132.9h1M1000.3 177h1M1008.7 159.8h1M1004.1 133.5h1M998.2 129.7h1M1012.4 159.2h1M987.2 149.8h1M982.7 135.3h1M995.9 161.5h1M1004.6 166.5h1M997.2 161h1M991.5 141.9h1M1010 149.2h1M1006.1 161.4h1M987.3 158.2h1M1004.1 128.1h1M994.3 161.7h1M985 137.2h1M1003 166.7h1M995.2 137.9h1M989.3 144.1h1M989 151.7h1M1002.6 165.2h1M1011 170.8h1M993.9 131.2h1M997.6 129.8h1M1005.5 165.7h1M1008.4 148.3h1M1010.1 114.9h1M985.9 144.9h1M1006.6 167.3h1M995.5 134.5h1M1003.9 149.4h1M1011.1 157.3h1M999.3 127h1M1013.9 151.9h1M1003 114.4h1M995.9 120.3h1M1005.1 141.5h1M990.1 151.6h1M1009.3 154.2h1M990.6 130.3h1M985.5 165.1h1M997.8 131.5h1M989 130.1h1M1007.2 162.7h1M974.7 138.4h1M1003.5 115.7h1M987.5 146.9h1M995.1 120.9h1M980.6 135.1h1M1013.5 151.9h1M1012.5 131.8h1M1000.4 134.7h1M993.7 133h1M981.3 149.9h1M991.7 167.6h1M991.7 181.5h1M988.3 144.4h1M982.7 156.4h1"/>
<path stroke="#9090f2" stroke-width="1" d="M920.6 129.1h1M921.9 132.2h1M954.5 132.2h1M923.2 151.8h1M958.6 148.4h1M953.4 141.6h1M943.5 159.7h1M916.9 134.6h1M917.2 142.9h1M937.6 119.7h1M932.5 126.9h1M938.7 115.8h1M949.9 161.6h1M917.8 154.6h1M945.7 135.8h1M954.1 149.4h1M933.2 121.9h1M912.7 136.2h1M942.1 170.7h1M950.5 137.9h1M917.3 124.5h1M947.7 142.8h1M944.9 130.5h1M926.9 162.1h1M916.4 147.4h1M949.8 147.5h1M943.1 140.5h1M928.7 171.9h1M934.7 175.3h1M957.5 143.4h1M925.4 171.5h1M914.8 145.3h1M941.6 128.2h1M930.5 166.2h1M916.2 151.2h1M919.7 156.6h1M926.8 164.9h1M938.2 178.3h1M940.3 125.2h1M917.1 166.8h1M939.9 124.5h1M945.7 169.3h1M916.1 149.6h1M952.4 127.9h1M938.7 130.8h1M945.3 163h1M929 161.2h1M914.2 159.9h1M945.9 141.3h1M921 140.1h1M948.2 151.4h1M939.1 120.4h1M924 155.3h1M931.8 177.4h1M911.7 149.6h1M936.2 121.3h1M961.1 154.8h1M938.2 174.9h1M928.8 131.7h1M926.7 131h1M955.7 141.2h1M919.2 153.4h1M920.9 144.4h1M931.3 124.4h1M944.2 167.6h1M952.4 138.7h1M924.9 147.6h1M925.7 137.4h1M952.4 124h1M948 138.7h1M942.5 163.5h1M930.6 130.5h1M936.1 130h1M952.3 119.3h1M940.7 132h1M925 131.2h1M920.3 146.3h1M947 175.2h1M906.1 152.4h1M929.5 164.9h1M935.5 172.4h1M942.4 166.6h1M938.1 171.5h1M926.7 129.8h1M919.2 162.8h1M912 133.8h1M944.6 187.6h1M964.7 151.1h1M930.9 122.7h1M947.9 139.2h1M948.9 146h1M941.7 126.1h1M942.5 119.6h1M931.9 170.5h1M953.4 161.1h1M917.9 135.4h1M930.2 133.5h1M933.1 166.4h1M916.5 144.3h1M917.3 155.5h1M932.2 170.3h1M929 155.7h1M949.9 126.2h1M925.5 163.5h1M945.7 132.2h1M930.3 131.2h1M920 138.4h1M925.3 174.3h1M915 155.9h1M949.1 124.3h1M910.3 167h1M949.5 129.2h1M925.6 182.1h1M956.7 144.7h1M949.6 113.8h1M916.8 154.1h1M925 168.4h1M925.6 130.4h1M933.3 132.6h1M938.5 131h1M920.2 174h1M914.6 130.1h1M945.1 149.8h1M940.8 130.6h1M950.1 141.7h1M962.3 154.6h1M938.5 164.7h1M943 163.4h1M905.4 132.1h1M940.3 169.5h1M906.4 158.9h1M923.6 144.3h1M940.7 110.9h1M926.3 129.2h1M912.6 149.7h1M962.7 160h1M912 130.7h1M919.1 163.3h1M922.2 123.3h1M914.3 176.7h1M953.4 143.6h1M950 162.1h1M910.5 160h1M905.8 112.8h1M962.2 149.8h1M951.6 147.3h1M914.4 146.2h1M938.4 118.5h1M938 112.7h1M929.7 145.6h1M918.6 130.9h1M969 149.7h1M945.2 118.8h1M938.6 169.2h1M992 158.8h1M986 158.9h1M994.1 158h1M1007.5 150.6h1M986.9 166.8h1M1013.8 146.7h1M997.8 129.4h1M988.7 141.1h1M998.3 118.2h1M991 127.4h1M1008.4 144.8h1M990.9 159.5h1M976.1 159.9h1M995.8 161.2h1M997.3 166.1h1M991.9 169.8h1M987.3 138.2h1M1007.4 161.6h1M1010.4 139.4h1M994 129.4h1M1004.9 148.3h1M989.2 173.3h1M1003.3 168.9h1M987.8 128.5h1M998.2 177.3h1M1007.3 139.1h1M1008.6 165.6h1M1015.4 141.5h1M989.1 135.3h1M984.4 153.9h1M990.1 171.2h1M986.8 174.3h1M999.7 140.2h1M987.5 140.8h1M978.2 156.5h1M989 165h1M1001.4 168.9h1M989.1 143.4h1M1011.9 166.9h1M1008.3 145.3h1M991 165.3h1M1006.1 135.5h1M993.9 134.8h1M994.2 164.3h1M998.7 167h1M1006.5 150.5h1M978.7 152.2h1M1011.7 163.2h1M983.4 152.7h1M1006.7 145.2h1M1006.4 156.1h1M998.7 130.2h1M1009 149.6h1M998.9 168h1M1011.2 140.7h1M997.2 126h1M995 169.1h1M1007 160.4h1M994.5 164.6h1M1001.2 135.4h1M1005.3 130.3h1M986.4 137.4h1M983.6 137.8h1M1004.8 135.5h1M1000.9 170.5h1M989.2 117.6h1M986.1 154.7h1M988 170.9h1M996.9 169.1h1M1008.7 186.2h1M1014.7 125.2h1M958.2 147.1h1M1007 132.3h1M1000.2 121.8h1M983.3 139.5h1M1012 156.2h1M1004.2 135.9h1"/>
<path stroke="#6a6ae8" stroke-width="1" d="M948.5 124.6h1M947.5 125.9h1M954.1 139.4h1M918.9 163.8h1M940.2 179.3h1M972.5 163.6h1M914.5 171.4h1M950.4 140.8h1M948.9 130.7h1M941.6 134.3h1M934.5 130.7h1M923.9 160.9h1M914.6 140.4h1M910.4 149.3h1M935.6 125.5h1M948.8 170.6h1M943.6 136.3h1M944.6 166h1M953.9 158.2h1M924.7 165.5h1M922.2 157.9h1M946.8 182h1M933.5 127.1h1M951.6 163.2h1M915.1 158.5h1M952.6 157.8h1M920.6 158.6h1M916 119.7h1M928.8 128.3h1M930 116.2h1M937.4 181.1h1M951.1 158.6h1M952.9 174h1M912.7 153.9h1M932.6 176.7h1M935.3 120.4h1M941.3 146.5h1M951.8 169.9h1M955.9 177.3h1M921 186.9h1M912.9 146.9h1M920.8 153.5h1M923.7 115.8h1M921.6 154.3h1M943.5 155h1M924.9 170.3h1M926.4 128.7h1M923.7 174.9h1M930.5 117h1M949.4 146.5h1M931.1 127.9h1M954.2 139.1h1M913.9 151.8h1M926.9 133.3h1M944.1 135h1M927.8 136h1M921.2 159.5h1M947.2 131.8h1M919.3 136.2h1M932.3 171.8h1M917.3 152.7h1M916.5 123.7h1M933.9 181.8h1M948.1 144.3h1M923 135.2h1M952.1 135.5h1M951.7 151h1M954.7 149.4h1M952.4 150.1h1M923.9 173.4h1M941.6 176.9h1M934.6 165.3h1M916.8 166.6h1M937.7 121.5h1M926 164.6h1M923 127.1h1M929.4 165.7h1M947 166.8h1M954.1 147.1h1M932.3 174.1h1M913.2 174.5h1M910.7 164.5h1M921.5 159.2h1M942.6 129.6h1M943 161.5h1M926.5 177.2h1M916.5 149.9h1M923 137.8h1M950.3 125.8h1M916.6 151.8h1M946.8 163.1h1M946.8 158.2h1M914.6 139.6h1M929.9 169.8h1M927.3 128.6h1M950.1 131.1h1M921.9 128.5h1M952.5 158.6h1M942.6 144h1M913.1 136.2h1M916.9 138.4h1M964.5 166.9h1M935.2 167.2h1M940.9 116.5h1M919.3 153.3h1M939.2 179.6h1M933.8 117.1h1M934 135.3h1M941.3 153.1h1M955.2 149.4h1M925.6 128.5h1M936.8 155.3h1M919.5 157.4h1M947.3 139.3h1M919.5 180.8h1M957.8 146.6h1M922.4 144.2h1M946.4 152.4h1M922.4 144.4h1M946.3 159.4h1M924.3 162.9h1M933.7 106.7h1M951.7 159.5h1M947.3 135.6h1M923.5 141.7h1M924.7 153h1M945.1 175.3h1M924.9 138.8h1M946.7 158.3h1M937.8 109.6h1M922.7 126.4h1M944.3 148h1M927 168.3h1M946.1 140.2h1M921.1 125.8h1M945.6 117.7h1M921.1 119.1h1M916.7 140.1h1M928 124.9h1M915.5 156.3h1M955.3 137.1h1M931.8 165.4h1M917.7 140.8h1M942.8 167.4h1M926.7 104.2h1M913.3 158.7h1M939.6 177.5h1M943.9 122.2h1M919.9 134.4h1M973.5 127.9h1M909.9 110.1h1M947.7 111.5h1M909 127.1h1M933.9 107.3h1M946.5 130.9h1M938.2 129.4h1M944.6 161.1h1M933.6 165.2h1M1010.7 159.3h1M1018.4 153.2h1M1003.4 136.5h1M1005.1 162.9h1M999.4 161.2h1M993.3 133.2h1M1014.1 162h1M997.2 125.7h1M996 127.5h1M987.4 154.2h1M999 139.1h1M995.1 168.1h1M981.8 134.2h1M1004.9 170.9h1M992.8 127.8h1M1002.9 158.7h1M1008.3 133.7h1M1002.6 134.2h1M999.3 166.7h1M995.2 176.8h1M996.7 166.4h1M997.6 126.6h1M1006 157.8h1M996.1 118.9h1M990.3 158.5h1M1007.8 161.8h1M1010.8 139.2h1M994.3 170.6h1M1008.2 132.5h1M983.6 140h1M990.3 153.6h1M1010.9 153.3h1M988.3 129.3h1M989.5 147.9h1M991.5 135.9h1M1006.4 156.6h1M1003.1 131.7h1M994.7 134h1M1000.9 161.1h1M1011.9 145.7h1M982.3 138.2h1M1001.8 170.4h1M981.6 136h1M999.8 135.4h1M1004.4 156.7h1M1000.3 168.2h1M996.6 168.1h1M996.7 151.3h1M1002.8 166.5h1M997.8 131.5h1M1012.9 123.9h1M1013.4 139.3h1M995.9 128.3h1M985.6 135.1h1M990.3 155.9h1M984.2 141.6h1M987.4 166.6h1M1011.2 143.4h1M1003.3 126.6h1M1010.3 170.3h1M984.2 141h1M990.7 155.7h1M989.2 140.5h1M995.8 160.6h1M1015.2 143.7h1M1013.5 144.1h1M997.2 110.8h1M1010.9 146.6h1M994.9 168h1M991.1 121.1h1M984.7 186.6h1M1010.1 159.3h1M986.8 163.9h1M998.8 164.8h1M983.6 147.7h1M970.2 136.8h1"/>
<path stroke="#a0a0f4" stroke-width="1" d="M925.2 143.3h1M958.5 128.8h1M938 124.8h1M948.7 158.6h1M948.6 154.4h1M954 155.1h1M919.5 128.2h1M934 121.3h1M913.5 116.3h1M940.1 171.6h1M935.1 109.4h1M948.4 132.5h1M921.5 173.1h1M947 111.6h1M935.5 130h1M937.9 165.4h1M943.2 169.3h1M918 177.9h1M961.4 129.7h1M919.9 149.5h1M923.6 169.1h1M962.2 133h1M936.1 125.9h1M927.1 136.9h1M947.3 133.5h1M946.4 161.7h1M945.1 117.1h1M953.1 157.6h1M915.3 162.9h1M949.5 159.6h1M954.4 121.2h1M914.2 153.3h1M947.1 154.7h1M938.3 177.3h1M939.8 168.4h1M950.9 167.6h1M922.2 155.2h1M941.3 118.2h1M924.7 115.1h1M921.8 157.3h1M961.6 134.6h1M924.7 129.7h1M932.2 169h1M924 166h1M951.1 131h1M939.2 171.6h1M949.7 159.6h1M922.6 147.7h1M953.2 157.9h1M939.3 126h1M932.1 117.7h1M943.6 174.5h1M938.4 130.4h1M928.6 135.3h1M918.5 132.2h1M931.7 128.4h1M950.3 152.6h1M949.4 129.8h1M928.8 125.4h1M917.6 156.9h1M944.5 125.3h1M936.6 110.3h1M947.6 139.3h1M950 152.5h1M927.3 130.3h1M929.8 164.2h1M932.6 174.3h1M936.5 167.2h1M942.7 137.7h1M921.2 150.9h1M953.9 138.2h1M956.7 138.3h1M944.6 134.7h1M947.3 139.4h1M946.6 161h1M912.5 141.8h1M948.9 128.7h1M950.6 139.2h1M947.4 124.9h1M941.3 154.9h1M947.2 156.4h1M955 146.1h1M937.5 165.2h1M908.9 137.5h1M925 138.3h1M945.5 133.5h1M940.5 162.8h1M949.7 165.7h1M950.7 139.8h1M941 124.4h1M926.7 129.6h1M948.8 112.4h1M943 166.7h1M948.3 140.2h1M918.5 140.7h1M944.8 126.4h1M922.3 155.8h1M921.5 162.4h1M955.1 161.2h1M929.7 123.9h1M922.5 162.6h1M943.4 174.1h1M928.4 166.7h1M935.6 132.9h1M929.2 167.3h1M929.3 163.8h1M956.3 140.8h1M959.5 170.6h1M946.5 150h1M934.2 127.1h1M932.8 122.1h1M916.6 155.2h1M926.9 133.1h1M947 175.7h1M927.6 125h1M949.3 149.4h1M943.5 162h1M926.7 172.3h1M944.7 160.8h1M939.4 158.5h1M920.6 141.9h1M927.2 142.7h1M937.4 115.2h1M922.8 136.2h1M945.6 129.1h1M928.2 159.2h1M926.8 172.3h1M943.4 129.1h1M920.2 146.4h1M940.5 129.5h1M953.4 148.7h1M917.5 149.7h1M914.5 155.3h1M939 169.7h1M919.5 150.2h1M948.6 134.7h1M922 146.7h1M943.7 172.4h1M922.2 161.8h1M935.5 184.3h1M963.6 153.8h1M915.9 143.4h1M945.1 125.9h1M938.3 121.4h1M943.2 135.7h1M966.1 137.9h1M934 108.5h1M940.6 173.5h1M930.2 174.7h1M946.2 143h1M934.2 130.4h1M976.4 121.2h1M919.8 150.8h1M915.9 187.5h1M909.9 144.5h1M946 161.5h1M942.8 125.3h1M915.5 144.2h1M957.5 121.7h1M926.6 119.3h1M915.7 152.7h1M934.7 170.6h1M956 143.5h1M919.4 173.8h1M931.2 125.7h1M993.8 158.1h1M1001.8 168.7h1M1001.7 180.5h1M981.6 155.3h1M979.2 154.3h1M997.1 130.5h1M1001.9 165.5h1M1004.3 139.3h1M1012.5 156.1h1M989.1 136h1M1001.5 161.2h1M1013.1 150.3h1M977.5 171.8h1M997.7 126.5h1M979.7 136.5h1M1004.6 154.4h1M993.3 163.6h1M986.1 158.9h1M1011.1 161.5h1M986.8 138.3h1M986.7 162.1h1M986.9 164.7h1M1008.3 129.7h1M983.9 134h1M1003.7 158.2h1M992.6 172.1h1M1012 155.6h1M1011.4 157.6h1M973.7 149.4h1M986.7 136.8h1M1009.8 154.9h1M990.6 129.5h1M1001.5 176.6h1M1014.1 145.9h1M1011 155.8h1M988.4 159.8h1M1008.2 152.2h1M1013.5 139.3h1M992.8 164.7h1M1005.7 138.8h1M991.2 156.6h1M992.6 131.3h1M1007.1 150.9h1M973.1 147h1M1003.4 148.3h1M1000.8 167.6h1M984.6 140.4h1M987.5 127.3h1M987.7 137.6h1M1002.5 169.6h1M1007.6 139.1h1M984.9 141.8h1M1005 155.3h1M986.4 161.5h1M1005.2 160h1M1017.2 148.7h1M994.6 136.3h1M995.6 124.4h1M1002.5 162.6h1M997.7 136.2h1M983.9 172.5h1M991 164.7h1M1004 171h1M989.9 160.2h1M1006.3 148.7h1M1000 167h1M976.1 150.9h1M1010.4 160.1h1M988.1 149.7h1M1007.8 127.7h1M995.7 166.7h1M987.9 141.1h1M991.4 132h1M991.1 149.1h1M990.2 132.5h1M1010.8 145.3h1M992.6 116.8h1M1008.4 139.8h1M995.7 176.6h1M1011.6 134h1M977.9 145.4h1M998.7 164h1M1002.9 166.4h1M1010 149.3h1M982.9 135.9h1M1005.3 142h1M1010.4 144.4h1M987.9 123.5h1M979.9 144.9h1M982.9 150.4h1M1005.2 157.2h1M981.2 141.1h1M1010 178.2h1M993.1 172.8h1M995.7 101.7h1M1001.4 135.9h1M1007.1 151.6h1M989 135.4h1M1010.9 127.7h1M983 161.6h1"/>
<path stroke="#4646dc" stroke-width="1" d="M934.7 158.2h1M947.6 137.9h1M927.5 141.2h1M945.2 148.9h1M942.4 143.3h1M925 141.9h1M932.8 145.3h1M940.1 154.9h1M928.2 161.6h1M941 134h1M923.3 141.7h1M940.5 132.8h1M945 151.3h1M938.4 142.9h1M949.5 147.8h1M946 135.7h1M937.9 156.9h1M932.2 151.4h1M928.3 138.7h1M947.8 136.7h1M943.8 148.5h1M929.2 135.9h1M924.6 162h1M938.8 153.8h1M944.4 137.6h1M926.1 155.3h1M929.4 151.7h1M939.2 162.6h1M929.4 145.6h1M937.6 162.5h1M929.6 157.3h1M936.2 157.9h1M939.8 137h1M949.2 154.7h1M929.7 134.4h1M918.1 144.6h1M946.8 143h1M938.7 161.2h1M946.7 141.4h1M928 145.8h1M944.7 142.6h1M923.6 146.9h1M929.6 165.4h1M924.1 145.9h1M928.2 136.2h1M931.4 138.1h1M929 161.7h1M937.7 166.3h1M930.4 135.4h1M935.7 155.5h1M932.7 165.7h1M949.9 147.1h1M938.8 134.7h1M947.3 157.9h1M943.5 155.3h1M931.4 155.2h1M934.8 153.9h1M934 132.9h1M927.4 151.9h1M923.3 138.8h1M936.3 158.4h1M928.2 130.4h1M935.5 156.5h1M943.3 153.3h1M945.9 146.7h1M932.2 162.7h1M944.1 157.8h1M948.3 154.4h1M931.5 158.1h1M930 151.7h1M949.2 146.7h1M928.4 145.6h1M940.3 158.7h1M931 142.9h1M931.7 155.9h1M943.2 135.1h1M935.7 158.8h1M923.3 137.3h1M923.7 143.2h1M949.4 148.1h1M944.6 137.2h1M924.6 150.9h1M930.6 129.4h1M932.4 137.1h1M930.4 138.1h1M944.6 145.8h1M924.5 138.5h1M926.8 133h1M924.9 142.9h1M926.5 139h1M998.1 147.3h1M994.5 138.2h1M1002.4 159.2h1M1004.3 159.7h1M1004.6 152.2h1M993.5 158.3h1M995.7 158.4h1M992.5 141.2h1M1004 161.9h1M1000.6 145.5h1M991.8 148.8h1M993.8 157.9h1M992 140.9h1M1005.6 144.1h1M999.6 149.2h1M999.4 141.2h1M988.5 153h1M988.5 144.8h1M993.9 149.5h1M1005.3 150.1h1M990.2 137h1M999.7 158.7h1M1006.4 146.9h1M998.8 145.3h1M990.6 150.1h1M1004.9 154.2h1M1004.4 157h1M997.3 146.8h1M998.4 151.8h1M1001.1 144.7h1M988.5 149h1M989 143.7h1M1000.6 139.2h1M987.5 149.7h1M993.4 138.5h1M996.1 131.5h1M991.3 151.5h1M998.6 134.3h1M1003.3 151.2h1M993.5 164.4h1M998.5 161.7h1M993.4 154.5h1M1003 131.6h1M993.8 139.2h1M1003.6 153.7h1M990.4 152.7h1M996.5 135.6h1M993.4 140.9h1M994.2 140h1M996.9 155.1h1M1006.4 146.9h1M994.1 139.6h1M999 133.4h1M1000.2 152.2h1M991.7 154.8h1"/>
<path stroke="#3434cc" stroke-width="1" d="M936.9 132.2h1M930.9 159.5h1M927.1 141.7h1M946.7 148.4h1M932.4 158.2h1M931.6 138h1M928.5 157h1M944.2 149.5h1M927.7 157.7h1M945.8 143.6h1M941.2 157.1h1M926.8 151.5h1M923.1 147h1M931.7 129.8h1M936 128h1M927.3 139.1h1M946.5 144.5h1M935.6 162.9h1M944 156.5h1M930.6 137.6h1M932.8 150h1M925 144.7h1M933.2 138.5h1M938.2 152.2h1M942.5 133.9h1M946.9 140.1h1M945.6 148.7h1M944.1 134.9h1M940.3 134.1h1M935.7 164.9h1M943.7 144.6h1M932.4 153.2h1M939.6 141.7h1M936.3 154.4h1M922.2 144.9h1M939.9 156.5h1M933.2 154.8h1M937.9 135.2h1M925.8 162.2h1M944.2 139.8h1M937.9 136.2h1M946.3 139.4h1M945.5 151.9h1M936.1 161.7h1M923.9 148.1h1M950.2 143.9h1M932.5 164.8h1M922.6 146.5h1M931.3 131.8h1M939.5 160.4h1M930.8 132h1M931.3 159.7h1M941.4 132.5h1M939.3 135.1h1M938.8 135.9h1M927.6 132.8h1M926.3 155.6h1M925.3 128.8h1M924 146.2h1M940.4 146.9h1M934.1 158.1h1M932.3 143.9h1M928.7 134.9h1M945.8 144.8h1M938.7 142.6h1M941.8 146.3h1M936.3 162.2h1M945.6 159.6h1M933.2 132.9h1M928.4 157.7h1M926 158.6h1M940.4 151h1M920.7 150.3h1M931.8 162.6h1M942.7 147.5h1M937 159.2h1M937.2 137h1M924.7 140.3h1M937.7 162.6h1M942.1 143.8h1M944.7 155.3h1M923.8 154.6h1M930.5 162.1h1M935.4 165.2h1M935.5 129.7h1M933 154h1M926.4 132.1h1M930 135.3h1M928.3 138h1M922.9 147.4h1M940.5 137.3h1M938.9 133.3h1M924.2 150.6h1M944.4 142.2h1M936 152.3h1M944.2 155.8h1M921.8 131.8h1M939.6 133.3h1M926.9 157.4h1M941.6 152.8h1M929.2 153.9h1M945.3 155.9h1M930.8 159.5h1M1002 138.4h1M996.8 138.1h1M1002.9 151.8h1M990.2 140.6h1M997.8 145.6h1M999.2 157.6h1M996.4 150.6h1M989 152.5h1M994.9 146.1h1M989.8 154.9h1M1001.8 140h1M994.3 157.9h1M1005.6 155.9h1M997.4 146.6h1M994.4 151.7h1M1006.4 155.5h1M988.2 155.4h1M993.1 150.5h1M991.6 154.5h1M991.4 142.8h1M995.2 151.6h1M1001.7 139.3h1M991.7 142.2h1M997 141.8h1M990.2 150.4h1M994.3 159.3h1M1003.5 141.4h1M996.7 144.3h1M1005.3 156.7h1M991.7 155h1M994.1 137.2h1M1006.6 151.4h1M1004.4 152.5h1M1006.9 153.7h1M990.6 159.3h1M997.3 158.9h1M997.8 140.6h1M992.1 157.1h1M990.8 150.2h1M1003.8 140.3h1M1000.5 138.9h1M1002.5 142.6h1M996.8 142.6h1M1004.9 145.1h1M993.2 133.5h1M1000.6 160.3h1M994.2 148.7h1M999.7 141h1M994.6 137.6h1M994.5 152.2h1M1006.3 152.1h1M994.9 157.1h1M999.2 138.9h1M994.3 163.7h1M995.3 142.3h1M991.4 154h1"/>
<path stroke="#5454e4" stroke-width="1" d="M929.8 156.2h1M926.6 162.6h1M937 163.1h1M951.2 144.4h1M945.1 152.6h1M942.2 142.9h1M936.3 143.8h1M931.4 139.2h1M941.2 125.1h1M928.3 137.6h1M931.4 159h1M946.8 139.8h1M923.6 159.1h1M938.2 136.8h1M934.5 138.4h1M947.7 151.2h1M941.2 141.9h1M931.7 143.9h1M938.2 144.8h1M938.1 139.8h1M939 133.9h1M928.3 148h1M945.7 148.6h1M935.5 152.9h1M942.3 155.5h1M924 137.6h1M937.5 165.9h1M930 166.6h1M926.5 136.8h1M939 145.5h1M923.7 134h1M922 150.3h1M936.5 138h1M941.8 136.3h1M926.8 148.6h1M935.5 163.9h1M936.3 131.9h1M923.4 141.5h1M942.5 130.9h1M932.8 137.2h1M929.5 132.1h1M927.3 160.1h1M940.5 157.2h1M923.1 157.6h1M939.9 151h1M931.8 150.9h1M925.5 154.8h1M926.1 137h1M930.9 148.3h1M926.9 153.6h1M934.4 162.3h1M940.7 160.4h1M929.7 151.3h1M927.9 141.7h1M943.7 145.5h1M927.5 132.2h1M928.4 154.5h1M933.6 143.2h1M943.8 142.5h1M939 134.3h1M942.2 156.7h1M929.4 157.2h1M922.1 151.8h1M943.9 140.7h1M935.8 138h1M923.2 151.8h1M947.3 151.2h1M920.9 140.3h1M944.9 137h1M921.7 146.2h1M938.7 133h1M926.8 146.5h1M925.7 150.4h1M936.2 137.5h1M926.4 152.4h1M939.8 155.6h1M924.2 137.6h1M940.7 160.3h1M946.1 164.3h1M929.3 148.5h1M941.7 155.1h1M937.8 134.3h1M939.8 132.5h1M946.6 154.9h1M925.5 138.9h1M936.6 132.9h1M937.3 162.6h1M933.7 137.4h1M922.4 149.3h1M947.4 149h1M921.2 153h1M928.9 148.2h1M937 133.9h1M994.8 159.1h1M999.4 155.4h1M997.7 154.7h1M992.1 152.6h1M996.6 161h1M993.5 155.4h1M989.4 145h1M990 140.7h1M989 155.7h1M1006.1 141.4h1M999.7 141h1M989.1 156.2h1M997.9 159.2h1M999 142.7h1M994.4 135.9h1M1000.8 154.5h1M1000.1 155.8h1M989.5 157.9h1M993 142.4h1M990 145.7h1M999.8 162.9h1M989.6 154.5h1M990.5 144.7h1M997.7 133h1M997.2 139.9h1M1005.6 145.7h1M1004.5 144h1M1005.3 145.7h1M992.8 163.3h1M998.5 138.6h1M1006.7 152.3h1M1002.1 140.6h1M997.5 160h1M991.2 150.1h1M996.9 163.3h1M1000.9 132.6h1M994.3 136.5h1M992.9 147.8h1M990.8 153.9h1M997.8 140.8h1M995.8 157.8h1M994.6 152h1M1000.9 160.8h1M1000 144h1M1001.3 158.4h1M999.5 152.2h1M991.1 142.4h1M988.9 157.4h1M988.9 147.1h1M1000.7 163h1M994.1 158.3h1M996.1 158h1M1001.4 141.2h1"/>
<path stroke="#5a5ad8" stroke-width="1" d="M947.6 153.1h1M919.9 140.7h1M925.3 143h1M933 136.2h1M941 143.6h1M941.4 138.1h1M938.4 135.8h1M945.1 151.5h1M933.1 132.9h1M936.5 152.3h1M928.7 161h1M931.2 154.4h1M944.9 161.6h1M945.6 153.5h1M930.2 132.5h1M929.9 160.6h1M929.9 157.7h1M931.1 134.7h1M935.8 136.8h1M936.3 133h1M930.1 131h1M936.5 161.3h1M924.4 148.4h1M927.6 136.4h1M934.8 154.4h1M922.3 149.6h1M939.5 164.7h1M936 160.4h1M931.5 130.6h1M930 134.3h1M923.3 157.5h1M921.9 145.5h1M926.7 154.8h1M924.3 156.9h1M934.7 141.9h1M927.5 151.5h1M938.5 146h1M928.5 148.7h1M944 143.6h1M940.4 150.2h1M927.3 159.1h1M935.8 135.5h1M939.8 147.5h1M922.6 140.8h1M921.1 137.1h1M945.8 146.3h1M932.6 163.1h1M930.5 144.1h1M919.8 151.4h1M932.6 159.4h1M934.8 161.1h1M945 158.1h1M938.7 141.4h1M924.5 158.5h1M937.8 155.3h1M931.6 160.6h1M937.4 158.2h1M947.4 156.8h1M924.9 162.1h1M935.9 162.5h1M936.8 143.8h1M935.5 160.9h1M931.3 158h1M933.6 159.9h1M932.2 159.2h1M936.9 157.8h1M927.6 142.4h1M936.2 159.3h1M946 137.8h1M921.2 141.9h1M947.5 157.1h1M945.9 143.2h1M940.2 159.8h1M989.3 142h1M999.4 159.9h1M1005.6 153.1h1M994.1 158.5h1M993.1 146.2h1M995.1 160.4h1M1000.8 135.6h1M993.8 149h1M991.9 157.5h1M994.4 140.7h1M1001.2 142.8h1M998 135.1h1M1003.6 144.7h1M1003.7 153.7h1M1001 138.2h1M992.7 147.1h1M997.3 137.4h1M1002 134.3h1M1003.7 148.2h1M1004.8 159.9h1M1003.2 146.8h1M995.2 159.3h1M1003.5 136.8h1M1000.7 137.2h1M1001.1 151.2h1M993.3 139.7h1M993.9 151.8h1M1001.9 146.5h1M996.8 150.1h1M995.1 162.2h1M993.2 134.6h1M1003.8 142.4h1M1000.9 158.8h1M1000.3 159.9h1M1000.3 160h1M1001 142.1h1M986.5 145.5h1M1002.5 145h1M991.4 153.8h1M1002.6 147.7h1M987.4 155.4h1M1003.5 146.7h1M1001 138.6h1M1001.2 162.7h1M992.8 153.2h1M1003.8 151.6h1M997.2 154h1M1000.8 140.3h1M999.5 144.5h1M1004.7 145.4h1M998.1 161.5h1M995.8 141.6h1M1005.9 159.9h1M1001.2 157.4h1M997.1 141.8h1M1003.9 143.4h1M991.2 159.5h1M992 136.2h1M999 161.9h1"/>
<path stroke="#2222b0" stroke-width="1" d="M928.9 138.8h1M931.4 151.2h1M937.8 143.7h1M939.2 148h1M943.3 148.7h1M935.1 149.5h1M931.8 140.3h1M932.1 143.5h1M943 137.7h1M936.4 157.1h1M933 160.6h1M941.1 147.3h1M937 137.2h1M925.6 144.6h1M932.6 160.2h1M923.7 142.3h1M931.7 143.1h1M940.7 138.7h1M928.7 140.3h1M940.1 141.2h1M931.5 154.2h1M943.9 152.8h1M940.1 145.1h1M936 142.2h1M934.8 157.4h1M927.3 140.5h1M938.7 156.7h1M926.6 146.6h1M930.7 139.4h1M923.4 154.5h1M936.8 145.7h1M938.5 149.7h1M936.9 149.4h1M925.2 148.1h1M932.3 150.7h1M938.7 152.9h1M936.1 152.7h1M937.5 159.4h1M940.4 151.1h1M929.6 148.2h1M942 153.1h1M930.3 144.8h1M930 155.5h1M930.4 153.9h1M936.6 159.2h1M937.9 139.5h1M939.5 146.7h1M928.3 138.9h1M936.8 153.6h1M930.2 160.8h1M937.4 150.2h1M934.6 142.1h1M941.6 146.8h1M931.6 141h1M937.1 151.4h1M928.5 147.8h1M937 148.7h1M938.8 135.7h1M924.5 149.6h1M933.4 145.2h1M931.4 149.4h1M931.5 162.2h1M927 154.7h1M1001.3 146.8h1M995.8 138h1M1000.4 142.5h1M999.4 157.8h1M999.1 140.5h1M1001.6 141.2h1M995 141.4h1M1001.2 149.1h1M993.1 138h1M996.9 160.9h1M1003.4 156.8h1M999 159.5h1M995.4 147.1h1M995.7 140.3h1M996 146.2h1M994.5 144.6h1M1001.1 150.2h1M993.9 146.5h1M1004 154h1M993.2 149h1M1001 154.9h1M997.5 147.2h1M1000.2 151.3h1M992 154.3h1M1002.3 149.1h1M995 148.6h1M993.8 141.6h1M999.8 148.9h1M1004.1 149.3h1M995.7 157.9h1M997.3 137.6h1M996.8 149.1h1M1003.5 150h1M999.5 151.2h1M995.1 149.4h1M1005.2 149.9h1M1003.5 155.2h1M997.9 142.6h1"/>
<path stroke="#1a1aa0" stroke-width="1" d="M933.1 144.3h1M930.6 150.1h1M928.4 147.6h1M945.6 151.2h1M937.9 151.2h1M933.7 143h1M929.8 160.8h1M934.2 141.2h1M930.6 143.4h1M937.9 139.1h1M929.8 135.8h1M938.8 149h1M932.9 156.2h1M933.3 137.7h1M934.3 148h1M939.5 149.7h1M934.8 149.8h1M940.7 147.1h1M930.1 140.8h1M940.7 149.8h1M933.7 155.7h1M931 149.9h1M934.8 136.8h1M935.3 154.7h1M937.3 140.8h1M942.5 148.6h1M940.5 154h1M938.6 147.2h1M927.5 138.8h1M937 147.1h1M937 140.3h1M935.7 142.7h1M925.5 149.3h1M931.7 144.5h1M929.6 157.6h1M934.9 138h1M939.3 147.3h1M935.7 158.4h1M936.4 140.6h1M926 138h1M929.2 150h1M933 135.8h1M927.1 148.8h1M934.9 149.4h1M929.9 153.8h1M937 136.2h1M933.4 146.5h1M938.4 153.4h1M928 144h1M933.4 144.5h1M941.5 133.3h1M931.6 136.5h1M939.6 150h1M934.8 134.7h1M942.9 148.1h1M936.9 141.7h1M929.2 151.3h1M928.7 147.7h1M928.2 145.5h1M931.8 156.8h1M934.8 138.9h1M940.9 157.5h1M935.8 137.2h1M932 152h1M935.9 148h1M996.4 156.3h1M993.3 148.7h1M994.1 155.8h1M994.4 152.1h1M1002 156h1M1001.2 140.6h1M996.1 156.9h1M1007 153.6h1M992.1 151.3h1M997.3 143.6h1M998 147.4h1M1003.5 159.2h1M1000.7 152h1M1000.3 150.1h1M998.5 152h1M993.6 144.9h1M998.3 139.9h1M1001.7 151.1h1M1002.6 145.8h1M991.5 141.3h1M993.7 153.5h1M1006.6 146.1h1M997.7 149.5h1M998.6 137.4h1M992.7 142.4h1M1000 145.5h1M997.1 142h1M998.7 143.3h1M992.3 149.8h1M996 141.6h1M999 137.5h1M996.2 156.9h1M996.8 157.4h1M1000.8 152.7h1M997.3 146.2h1M997.4 142h1M1002.7 142.3h1M988.6 153.3h1M995.6 149.1h1M1004.2 148h1M997.7 146.6h1M1002.1 159.5h1M999.4 155.5h1M999.2 152.3h1M1005.4 146.2h1M995.9 156.4h1M994.1 149.9h1M997.5 158.2h1M997.9 161.7h1"/>
<path stroke="#2a3cc0" stroke-width="1" d="M937.8 140.9h1M931.8 146.5h1M930.8 144.1h1M931.5 150.9h1M939.8 153.3h1M932.6 151.6h1M944.9 134.2h1M942.1 149.2h1M928.3 147.2h1M936.3 138.7h1M929.4 150.8h1M936.7 153.7h1M935.4 141.3h1M924 147.2h1M927.8 142.6h1M943.4 140.6h1M937.7 149.8h1M943.5 154.4h1M935.7 157.2h1M937.3 155.9h1M926.1 140.7h1M930.5 150.9h1M933.7 156.8h1M925.8 161.7h1M935.4 151.2h1M935.6 160.5h1M929.9 148.2h1M931.4 136h1M930.8 145.8h1M928.6 148.9h1M925.9 156.2h1M931.7 149.2h1M926.5 150.1h1M937.4 151.3h1M929.8 144.2h1M932.3 137.2h1M933.8 137.8h1M930.5 147.5h1M930.7 141.9h1M935.9 152h1M928.9 136h1M940.6 150.3h1M938.1 162.6h1M929.9 150.8h1M939.4 159.3h1M927.1 144.7h1M931.7 138.8h1M940.7 137h1M931.3 144.1h1M936.8 152.2h1M925.8 151.9h1M935.1 157.7h1M939.1 135.9h1M940.3 138.2h1M936.3 158.9h1M936.7 148.4h1M931.7 143.9h1M942.3 156h1M931 145h1M928 145.3h1M930.3 156.4h1M926.2 151.3h1M939.2 147.3h1M936.6 152.1h1M937.3 151.6h1M937.1 152.7h1M939.8 151h1M926.3 137.9h1M931.9 161.4h1M940.5 134.5h1M937.9 156.8h1M928.7 149.6h1M935.1 139.9h1M929.3 141.6h1M921.3 144.6h1M932.2 134.5h1M996.7 155.2h1M998.9 153.4h1M997.2 153.9h1M996.6 147.7h1M999 149.3h1M992.7 153.5h1M993.2 146.5h1M991.5 150.8h1M1004 141.1h1M1000.5 146.4h1M998.4 149.7h1M1000.1 151.9h1M999.6 152.8h1M999.2 147.8h1M993.7 150.9h1M992.8 146h1M993.8 148.4h1M998.7 146.5h1M992.4 152.6h1M998.1 148.8h1M996.4 144.4h1M998.1 160.2h1M996.2 149.8h1M999.3 145.2h1M995 154.4h1M997.9 156.3h1M997.9 142.7h1M996.7 137.7h1M997.9 155.5h1M999.9 147.7h1M997.3 149.9h1"/>
<path stroke="#30309a" stroke-width="1" d="M932 143.9h1M933.2 148.7h1M936 142.1h1M939.3 141.1h1M942.1 140.5h1M932.1 150.1h1M929.6 141.9h1M931.4 159h1M927.7 159.2h1M933.1 143.5h1M934.2 139h1M940 139.9h1M931.1 148.6h1M936.4 146.4h1M936.2 150.7h1M925.7 147.6h1M930.5 143.8h1M932.4 151.3h1M930.4 157.9h1M932.4 158.9h1M938.4 143.5h1M934.1 156.1h1M931.9 151.1h1M937.4 155.7h1M936.3 131.4h1M933.1 134.8h1M933.4 151.7h1M936.2 148.3h1M934.2 137h1M932.7 154h1M931.6 147.8h1M937.3 145.5h1M936.5 143.1h1M943.5 144.4h1M926 156.4h1M940.1 139.3h1M932.7 153h1M937.7 152.3h1M939.6 142.3h1M932.5 143.2h1M931.5 139.8h1M930.3 150.6h1M942.5 145.3h1M933.8 148.5h1M938.6 151.8h1M922.7 148.1h1M939.7 142.1h1M943.3 139.7h1M931.9 158.4h1M928.8 138.7h1M940.6 139.7h1M930.1 157.1h1M932 148.7h1M933.1 147.4h1M934.3 155.9h1M932.3 146.4h1M937 137.4h1M932.4 148.8h1M938.2 152.4h1M934.8 159.6h1M926.6 142.5h1M938.5 156.7h1M929.9 142.8h1M929.8 155.4h1M937 144.4h1M936.7 145.2h1M932.3 158h1M924.8 138.9h1M934.1 148.1h1M937.3 150.8h1M940.4 147.7h1M929.6 150.6h1M928.7 137.1h1M996.4 153h1M996.9 146.4h1M999.2 159.1h1M1000.2 157.3h1M997.8 144.5h1M1001.9 152.9h1M1001 147.3h1M993.7 156.6h1M998.7 140.5h1M1001 151h1M991.1 150.5h1M1000.7 143.8h1M997.8 140.4h1M995.1 154.4h1M996 154.3h1M994.9 144.4h1M1003.1 141.4h1M997.6 160.9h1M1004.2 150.6h1M997.7 147.5h1M998.8 150.4h1M994.4 144.4h1M1000.8 148.6h1M994.4 154.4h1M992.6 141.1h1M996 147.3h1M998.9 143.9h1M1004.6 150.7h1M1002.9 152.2h1M998.1 146h1M996.3 155.3h1M999.4 151.9h1M995 152.6h1M994.2 149.3h1M1000.8 153.1h1M995 152.8h1M993.5 150.8h1M996.6 147h1M993.8 142.2h1M990.6 149.3h1M997.7 153h1M996.3 146.8h1M992.3 147.9h1M994 147.5h1M994.1 155.3h1M993.9 150.6h1M990.3 151.6h1"/>
<path stroke="#1e5aa8" stroke-width="1" d="M935.7 150h1M935.2 149.9h1M939.1 147.6h1M931.6 154.3h1M929.8 144.9h1M936.7 146.6h1M939.2 145h1M933.9 145.4h1M937.1 151.9h1M937.3 155.5h1M937.9 146.3h1M930.6 152.9h1M933.8 143.8h1M935.6 149.2h1M929.1 149.7h1M928.7 153.7h1M933.6 142.1h1M999.7 149.2h1M994.5 152.9h1M994.6 150.7h1M998.1 147.4h1M996.6 153.6h1M997.8 149.3h1M996.9 144.6h1M998.6 147.8h1M995 152h1"/>
<path stroke="#2a7ab0" stroke-width="1" d="M928.6 149.7h1M938.9 153h1M934.5 147.3h1M934.1 142h1M931.4 147.2h1M929.1 152h1M931.9 139.1h1M996.2 148.8h1M1002.3 146.6h1M998.9 146.5h1M998.9 152.5h1M995.9 147.6h1M996.2 149.3h1M997.9 148.3h1M1000 157.3h1M998.4 151.1h1M1002.2 143.9h1M994.2 154.5h1M994.2 147.6h1M998.9 147.9h1M999.2 148.2h1M998.3 148.2h1M1002.4 151.3h1"/>
<path stroke="#3a90b0" stroke-width="1" d="M938.1 152.7h1M937.6 143.2h1M930.6 148.4h1M933.6 144.7h1M939.4 152.2h1M930.7 145.7h1M931.3 146.6h1M933.4 145.6h1M932.3 142.2h1M935.1 142.1h1M934.3 149h1M932.8 143.8h1M932.6 149.9h1M940.7 143h1M930.8 144h1M994.9 151h1M997.3 142.2h1M995 148.3h1M999.1 150.8h1M995.7 146.6h1M998.1 149.8h1M1001 154.2h1M1000.5 154.3h1"/>
<path stroke="#286098" stroke-width="1" d="M927.5 148.4h1M931.9 143.5h1M932 151.2h1M933.6 146.9h1M929.6 147.9h1M938.8 143.3h1M934.8 151.8h1M933.6 141.5h1M941.1 146h1M931.3 143.7h1M933.8 147.3h1M927 152h1M939.7 140.4h1M929.2 145.1h1M935.1 151.4h1M931.7 153h1M936.5 149.4h1M997.5 149.2h1M998.6 144.3h1M994.2 153.2h1M997.7 146.6h1M995 149h1M996.1 142.1h1M995.9 147.3h1M996.5 148.6h1M996.8 154h1M994.3 152.6h1M997.1 154.4h1M1002.6 149.7h1M996.3 156.9h1M996.2 147.5h1"/>
<path stroke="#30a080" stroke-width="1" d="M934 145.3h1"/>
<path stroke="#3aa868" stroke-width="1" d="M933.3 148.4h1"/>
<path stroke="#2a9090" stroke-width="1" d="M935.2 145.2h1M929.6 147.6h1M996.7 146.1h1"/>
<rect x="903.4" y="39.5" width="155.90" height="154.80" fill="none" stroke="#3a3a3a" stroke-width="1.1"/>
<polygon points="970.4,112.5 1036.4,112.5 1036.4,178.5 961.4,178.5" fill="none" stroke="#111" stroke-width="1.8" stroke-linejoin="miter"/>
<path d="M901.2 188.31H903.4M901.2 182.32H903.4M901.2 176.32H903.4M901.2 170.33H903.4M899.4 164.34H903.4M901.2 158.35H903.4M901.2 152.36H903.4M901.2 146.36H903.4M901.2 140.37H903.4M899.4 134.38H903.4M901.2 128.39H903.4M901.2 122.40H903.4M901.2 116.40H903.4M901.2 110.41H903.4M899.4 104.42H903.4M901.2 98.43H903.4M901.2 92.44H903.4M901.2 86.44H903.4M901.2 80.45H903.4M899.4 74.46H903.4M901.2 68.47H903.4M901.2 62.48H903.4M901.2 56.48H903.4M901.2 50.49H903.4M899.4 44.50H903.4M912.79 194.3V196.1M918.28 194.3V196.1M922.17 194.3V196.1M925.19 194.3V196.1M927.66 194.3V196.1M929.75 194.3V196.1M931.56 194.3V196.1M933.15 194.3V196.1M934.58 194.3V197.8M943.97 194.3V196.1M949.46 194.3V196.1M953.35 194.3V196.1M956.37 194.3V196.1M958.84 194.3V196.1M960.93 194.3V196.1M962.74 194.3V196.1M964.33 194.3V196.1M965.76 194.3V197.8M975.15 194.3V196.1M980.64 194.3V196.1M984.53 194.3V196.1M987.55 194.3V196.1M990.02 194.3V196.1M992.11 194.3V196.1M993.92 194.3V196.1M995.51 194.3V196.1M996.94 194.3V197.8M1006.33 194.3V196.1M1011.82 194.3V196.1M1015.71 194.3V196.1M1018.73 194.3V196.1M1021.20 194.3V196.1M1023.29 194.3V196.1M1025.10 194.3V196.1M1026.69 194.3V196.1M1028.12 194.3V197.8M1037.51 194.3V196.1M1043.00 194.3V196.1M1046.89 194.3V196.1M1049.91 194.3V196.1M1052.38 194.3V196.1M1054.47 194.3V196.1M1056.28 194.3V196.1M1057.87 194.3V196.1M1059.30 194.3V197.8" stroke="#3a3a3a" stroke-width="0.9" fill="none"/>
<g font-size="7.6" fill="#3c3c3c" stroke="#3c3c3c" stroke-width="0.12"><text x="896.6" y="167.6" text-anchor="end">50K</text><text x="896.6" y="137.7" text-anchor="end">100K</text><text x="896.6" y="107.7" text-anchor="end">150K</text><text x="896.6" y="77.8" text-anchor="end">200K</text><text x="896.6" y="47.8" text-anchor="end">250K</text><text x="906.4" y="209.9">10<tspan dy="-4.6" font-size="6.6">1</tspan></text><text x="929.2" y="209.9">10<tspan dy="-4.6" font-size="6.6">2</tspan></text><text x="957.9" y="209.9">10<tspan dy="-4.6" font-size="6.6">3</tspan></text><text x="986.6" y="209.9">10<tspan dy="-4.6" font-size="6.6">4</tspan></text><text x="1015.9" y="209.9">10<tspan dy="-4.6" font-size="6.6">5</tspan></text><text x="1044.2" y="209.9">10<tspan dy="-4.6" font-size="6.6">6</tspan></text></g>
<text x="910" y="56.3" font-size="14.4" font-weight="bold" fill="#111"><tspan font-style="italic">HDAC2</tspan>-KO#1</text><text x="1011.2" y="56.3" font-size="14.4" font-weight="bold" fill="#c42030">39.9%</text>
<path stroke="#7c7cee" stroke-width="1" d="M742.5 327.4h1M744.7 365.8h1M762.2 350.3h1M755.7 367.5h1M720.7 347.9h1M746.7 320.8h1M748.9 342.2h1M736.2 330.3h1M762.3 366.5h1M731.5 358h1M745.2 327.9h1M738.7 386.6h1M749.2 373.8h1M755.2 336.5h1M717.2 360.2h1M758.6 351.9h1M746.3 373h1M754 332.9h1M733.6 361.4h1M730.9 339.3h1M731.1 350.4h1M735.9 336.4h1M765.7 337.8h1M739.6 329.5h1M734.1 361.5h1M757.3 354.3h1M736.7 333.5h1M754.1 367.8h1M761.8 356.9h1M750.1 332.4h1M728.7 311.8h1M746.3 367.2h1M746.1 359.7h1M731 350.6h1M727.6 350.5h1M737.3 351.9h1M736.4 321.7h1M733.7 370.2h1M762.5 344.2h1M758.5 366.1h1M734.6 361.1h1M756.6 346.3h1M733.8 358.5h1M747.9 334.8h1M734.7 368.1h1M744 327.3h1M730.1 344.5h1M738.8 371.2h1M726.5 322.8h1M751.3 365.8h1M735.3 342.4h1M746.4 327.7h1M747.3 369.6h1M741.4 333.2h1M753.7 334.9h1M737.5 338.3h1M748.7 364.3h1M734.7 337h1M746.1 335.1h1M732.5 317h1M746.4 370.2h1M715.8 345.7h1M729.9 348.7h1M742.4 362h1M730.7 342.3h1M750.9 347.2h1M719.9 356.4h1M734.7 357.4h1M761 350.1h1M745.3 368h1M750.1 329.5h1M751.4 333h1M750 365.7h1M760.5 354h1M751.4 359h1M759.3 347.9h1M730.8 333h1M730.6 347.2h1M741.6 319.1h1M752.9 331.2h1M738 346.7h1M738.6 332.9h1M744.6 361.3h1M752.3 338.1h1M749 361.9h1M754.4 362.8h1M760.6 366.7h1M753.3 329.9h1M760.3 334.9h1M729.2 376.8h1M741.5 319.7h1M752.8 353.4h1M733.4 337.2h1M747.5 332.3h1M757.6 347.5h1M754.6 340.3h1M741.5 343h1M763.1 372.2h1M759.9 374.7h1M762.9 334.6h1M750.6 344h1M758.8 373.9h1M733.8 363.7h1M730.1 338.8h1M755.4 332h1M750.8 355.2h1M728.1 350h1M723.4 354.1h1M766.6 334.3h1M732.5 337.1h1M722.8 349.5h1M753.8 340.1h1M728.4 339.5h1M765 353.9h1M743.4 381.9h1M753.1 366h1M737.5 323.7h1M746.1 330.3h1M736 332.8h1M748.5 368.8h1M751.7 382.8h1M716.1 354.2h1M735.4 358.8h1M760.3 343.7h1M717.5 317.7h1M758.4 341.8h1M755.1 383h1M732.4 376h1M739.5 387.1h1M750.3 338.1h1M817.6 351.6h1M800.2 345.3h1M800.5 366.1h1M815.6 346.6h1M807.1 333.9h1M799.9 345h1M816.9 354.2h1M795.6 365.1h1M796.5 351.3h1M812.2 340h1M794 358.8h1M814.2 366.5h1M818.2 339.7h1M791.4 335.5h1M811.8 326.2h1M802.2 370h1M812 361.6h1M812.8 358.4h1M793.6 356.6h1M811.8 365.7h1M804.5 366.3h1M797 365.9h1M811.3 372.9h1M805.3 378.7h1M814.8 357.3h1M804.2 371.6h1M814.3 368.4h1M801.7 367.9h1M804 327.6h1M816.4 337.6h1M785.1 364.4h1M812.8 350.4h1M791.6 349.7h1M790.9 371.7h1M792.5 375.2h1M802 368h1M815.1 368.2h1M810.4 362.3h1M791 348.3h1M820.8 345.7h1M814.7 343.8h1M803.8 382.7h1M811.9 346.4h1M805 371.3h1M795.2 356.2h1M787.7 348.5h1M802.9 376.3h1M794.6 362.9h1M820 359.9h1M796.9 341h1M801.2 339.6h1M796.9 341.4h1M800.6 333.7h1M803.5 366.9h1M804.1 367.4h1M795.6 334.6h1M820.6 349.2h1M799.8 364.7h1M789.3 368.9h1M796.5 362.9h1M798.6 369.2h1M790.6 347.8h1M816.7 363.2h1M802.2 336.4h1M810.3 319.9h1M801.8 327.6h1M802.8 369.9h1M817.6 343.5h1M801.4 338.7h1M816.1 356.1h1M812.5 355.1h1M801.2 341.4h1M817.3 358.5h1M814.4 359.6h1M812.1 364.9h1M793.5 369.2h1M808.4 368h1M819.2 373.7h1M797.7 379.5h1M793.7 345.4h1M809.1 317.6h1M797.7 332.2h1M818.9 384h1M811.6 366.2h1M801.2 330h1"/>
<path stroke="#9090f2" stroke-width="1" d="M728.1 341.1h1M752 315.3h1M755 370.4h1M767.7 332.9h1M753.5 338.5h1M765.6 348.8h1M736.5 385.5h1M745.6 372.5h1M751.4 361.6h1M753 339.4h1M728.7 355.2h1M721.7 355.6h1M726.3 355.2h1M761.2 334.2h1M735 378.4h1M735.5 331.5h1M729.5 364.1h1M730.3 334.8h1M755.4 357.8h1M761.4 356.2h1M757.2 354.2h1M745.6 371.6h1M732.5 352.3h1M734.9 362.7h1M734.1 345.2h1M755.6 355.8h1M748.7 369.7h1M725.5 362.6h1M724.6 339.4h1M722.3 363.4h1M732.5 347.6h1M729.8 370.2h1M744.7 366h1M751.1 374.6h1M752.4 343.4h1M747.9 328.7h1M761.7 357.5h1M738.8 329.2h1M734.7 373.3h1M742.9 329.5h1M720.2 319.7h1M743.5 378.3h1M738.4 323h1M748.4 339.8h1M733.8 323.7h1M738.2 336.9h1M757.6 378.4h1M766 334h1M740.4 381.1h1M750 368.6h1M767.4 343.8h1M728.4 344.5h1M734.9 356.1h1M730.6 370.3h1M767.3 352h1M723.4 342.1h1M756.4 358.2h1M734.1 328h1M751.8 332h1M722.7 349.1h1M754.8 366.4h1M756.4 341.3h1M729.9 347.4h1M757.3 348.2h1M774.6 354.9h1M735.2 382.6h1M728.9 363.6h1M744.9 330.3h1M757 349.3h1M770.7 347.1h1M758.9 340.3h1M720.8 346.9h1M734.4 379.4h1M729.9 339.5h1M749.7 358.1h1M724.4 344.6h1M724.3 354.7h1M729.6 326h1M733 335.2h1M739.6 336.4h1M763 351h1M740.5 364.8h1M747.5 332.4h1M730.1 351.4h1M743 358.6h1M745.4 368.6h1M730.9 371.3h1M744.1 329.4h1M754.9 340.3h1M757.8 354.4h1M760.4 345.8h1M726.2 349.8h1M741.1 367.6h1M729.1 364.9h1M739.5 336.3h1M757.3 342.6h1M762.4 349.8h1M732.4 352.1h1M762.2 366.3h1M743.6 368.1h1M755.6 355.2h1M732.6 358h1M727.7 340.3h1M736.9 345.7h1M755.6 348.4h1M732.9 363h1M748.8 330.9h1M758.1 360.7h1M733.2 345.4h1M733.6 359.5h1M734 319.9h1M740.5 371h1M726.6 323.2h1M741.4 331.2h1M747.9 338.4h1M748.7 331.8h1M718 331.7h1M740 306.1h1M738.5 386.4h1M766.5 339.6h1M723.9 365.9h1M735.6 327.8h1M726.8 340.5h1M760 348.9h1M713.5 355h1M761.9 333.8h1M757 364.6h1M737.5 331.9h1M755.7 334.7h1M813 365.5h1M801.5 333h1M797.5 340.4h1M812.8 344.4h1M795.1 343.4h1M795.7 371.6h1M809.6 348.4h1M815.5 341.5h1M803.1 344h1M803 334.6h1M793 345.6h1M815.4 352h1M798.2 334.7h1M805.5 326.4h1M808 359.2h1M813.6 354.9h1M812.8 343.6h1M791.7 351.6h1M797.8 377.5h1M796.8 364.8h1M814.4 338.4h1M794 323h1M806.6 373.1h1M811.9 345.7h1M815 342.4h1M795.5 354.4h1M804.7 368.3h1M791 347.2h1M809.7 339.8h1M816.4 342.4h1M797.5 370.7h1M786.3 366.8h1M791.3 349.6h1M790.3 341.9h1M794 362.1h1M794.9 360.9h1M803.5 335.3h1M780.3 363.6h1M801.3 373.4h1M815.2 350.6h1M799.5 328.9h1M797.2 327.9h1M814.8 341.4h1M821.7 347.5h1M807.6 332.8h1M787.4 357.2h1M815.1 356.3h1M795.3 339.2h1M811.7 360.9h1M824.8 361.3h1M796.5 378.7h1M804 371.7h1M812.6 366.8h1M798.2 379h1M788.6 343.2h1M808.5 324.9h1M797.9 354.9h1M820 351.3h1M801.3 336.4h1M792.9 364.4h1M796.8 347.1h1M790.9 359.9h1M815.6 332.8h1M801.6 363.2h1M790.7 336.7h1M806.2 330.5h1M811.9 333h1M787.3 342.4h1M805.1 373.5h1M785.1 354.8h1M811 368.8h1M796.8 368.8h1M800.1 343.4h1M790.2 346.1h1M805.9 358.6h1M818 354.7h1M802.9 375h1M796.4 354.1h1M793.3 375.8h1M788.7 339.8h1M797.2 380.5h1M819.2 349.7h1M810.7 322.8h1M810.1 373.3h1M802.2 376.1h1M811.3 339.7h1M792.7 359h1M804.1 366.9h1M806.3 375.8h1M811.3 367h1M823.4 342.2h1M817.5 361.1h1M797.2 327.3h1M815.2 380.4h1M812.3 371.7h1M798.8 364.5h1M808.3 380.9h1M798.7 370.5h1M807.1 369.3h1M784 350.7h1M809.5 380.3h1"/>
<path stroke="#6a6ae8" stroke-width="1" d="M756.9 349.7h1M733.8 362.7h1M750.6 328.2h1M739 383h1M748 363.4h1M737.8 323.2h1M715.7 360.9h1M749.5 366.6h1M731.6 338.8h1M737.1 373.3h1M760.6 362h1M735.7 365h1M740.9 344.3h1M737.4 376.1h1M738.5 326.5h1M738.4 329.7h1M746.1 339.1h1M726.5 350.3h1M738.4 374.6h1M758.2 347.6h1M752.6 363.2h1M740.1 367.8h1M746.4 335.9h1M753 373.2h1M724.9 366h1M740.3 334.7h1M738.5 377.7h1M740.5 329.4h1M724.5 333.4h1M729.1 358.5h1M731 344.9h1M727.9 356.1h1M754.4 366.3h1M752 365.2h1M764 353.4h1M755.4 336.1h1M758.5 358.2h1M761.3 351h1M748.8 370.3h1M755 370h1M739.8 371.8h1M724.3 337.2h1M759.7 362.3h1M751.9 363.5h1M729.2 344.3h1M723.8 369.9h1M727.2 337.6h1M753.4 338.6h1M730.2 340.4h1M736.1 317.1h1M726 342.3h1M755.8 350.2h1M737.9 364.1h1M761 351h1M729.4 341.5h1M754.6 345.4h1M750.8 359.6h1M729.4 339.8h1M754.3 336.6h1M752.1 336.8h1M753.3 365.3h1M733 338.5h1M758.6 344.4h1M747.6 351.2h1M727.5 347.7h1M749.7 364.7h1M726.7 371.9h1M754 351.5h1M761.6 357.5h1M724.4 332.6h1M731.3 347.5h1M735.3 364.3h1M752.9 349.8h1M756.7 355.6h1M746 335.3h1M724.1 342.2h1M724.9 344.8h1M736 374.8h1M761.9 340.3h1M766.6 353.1h1M756 363.8h1M759.7 352.3h1M759 350.1h1M753.8 368.1h1M715.2 359.4h1M767 351.2h1M730.8 339.9h1M746.6 335.4h1M763.7 348.6h1M725 349.1h1M763.8 371.4h1M726.9 353.1h1M734.5 321.1h1M759.5 347.3h1M737.4 328h1M738.1 340.3h1M727.7 343.7h1M731.2 333.4h1M751.8 348.9h1M725.1 334.7h1M753.7 347.9h1M751.9 339.8h1M744.8 325.7h1M725.4 365.2h1M748.1 373.5h1M736.8 360.1h1M729.5 342.4h1M756.8 362.7h1M752.8 345.1h1M745.7 372.9h1M757.2 338.1h1M747 359.7h1M756.1 368.8h1M753.6 375.3h1M755.2 344.7h1M763.1 368.2h1M753.2 342.8h1M759.5 371.1h1M744.3 339.5h1M756.5 320.5h1M760.4 352.9h1M755.4 329.5h1M742.5 315.9h1M721.1 352.2h1M722.1 353.4h1M754.4 337.5h1M741.6 331.8h1M755.7 363.6h1M729 373h1M750.5 364.9h1M796.8 360.6h1M814 366.2h1M786.3 373.1h1M815.7 366.6h1M799.3 329.7h1M812.3 365h1M813.2 329.7h1M810.1 331.8h1M818.2 350.7h1M798.2 354.9h1M823.2 355h1M810.2 334.2h1M795.8 364.3h1M809.6 352.4h1M816.2 338.6h1M814.1 345.3h1M791.7 350.6h1M792.9 315.5h1M807.3 368.6h1M805.6 368.1h1M807.6 373.2h1M816.2 355.5h1M814.6 359.2h1M795.3 363.2h1M807.1 338.4h1M807.3 366.6h1M793.1 340.2h1M806.4 384.5h1M815.6 361.5h1M818.8 334.2h1M805.9 337.7h1M793.8 347.6h1M818.2 347.6h1M793.3 367.1h1M800.1 373.3h1M792.1 355.8h1M794.7 337.4h1M800.7 371.8h1M794.1 347.4h1M813.5 372.3h1M812.6 350.8h1M798.6 365.4h1M783.9 348.7h1M810.4 340.3h1M795.7 337.8h1M802 329.5h1M797.3 357h1M791 365.6h1M787.9 339.9h1M815.8 375.8h1M806.8 369.9h1M812.2 334.2h1M811.6 338.6h1M799.6 362.7h1M810.6 327.6h1M816.9 374.2h1M812.4 364.7h1M820 360.7h1M804.7 329.4h1M796.8 361.3h1M810 365.7h1M795 346.8h1M784.1 348.6h1M791.8 361.7h1M801.3 332.2h1M807.1 368.1h1M802.1 343h1M796.2 329.4h1M786.8 392.3h1M810.3 375.4h1M798.9 339.7h1M808.4 340.5h1M789.6 374.9h1M788.9 331.7h1M809.3 372.1h1M787.3 350.8h1M812 357h1M812.3 331.4h1M828.3 340.7h1M816.3 348.9h1M817.3 330.2h1M791.6 353.3h1M806.5 330h1M822.3 355.1h1M812.1 361.9h1M810.7 359.6h1M799.9 335.3h1M790.6 335.2h1M794.4 366.2h1M795.6 357.2h1M806.7 384.1h1M801.2 321.3h1M789.9 352.2h1M814.5 341.9h1M801.7 375.3h1M788 360h1M802.9 345h1M827.2 386.9h1M796.5 328h1M780.3 373.5h1M803.9 329h1M795.4 370.1h1M804.3 372.2h1M779.1 360.2h1"/>
<path stroke="#a0a0f4" stroke-width="1" d="M746.9 339.1h1M727.6 354.3h1M731 347.5h1M752.4 341.5h1M729.6 364.1h1M726.5 367.5h1M749.1 325.6h1M735 360.7h1M733.4 369.6h1M755.7 332h1M756.6 342.9h1M725.3 360.5h1M726.4 346.7h1M758.3 346.2h1M760.8 344.1h1M735.2 364.9h1M733.3 362.7h1M731.6 337.3h1M761 350h1M754.8 331.8h1M730.6 326.7h1M748.3 370.9h1M757.4 340.9h1M728.6 371.3h1M742.4 324.6h1M733.3 359.3h1M753.1 367.2h1M731 371.2h1M754.6 334.3h1M749.4 354.4h1M750.7 365.9h1M744.6 331.4h1M724.4 360.3h1M772.6 342.6h1M726.3 340.3h1M751.3 338.3h1M725.9 358h1M758.3 339.8h1M755.6 336.1h1M756.8 357h1M720.1 346.3h1M729.4 364.5h1M753.5 355.9h1M739.9 370.6h1M740.3 333.8h1M740 367h1M757.1 335.4h1M761.2 359.7h1M739.6 368h1M744.7 315.9h1M733.7 331h1M735.9 346.8h1M725.4 330.2h1M737.4 322.1h1M749.1 335.7h1M722.9 346h1M733.6 330.3h1M740.2 350.2h1M760.6 338.8h1M756.9 366.5h1M739.9 335.1h1M768.2 358.3h1M756.7 359.2h1M734.5 325.5h1M728.3 359.7h1M761.1 344.1h1M746.6 344.8h1M730.4 351.5h1M744.6 340.3h1M744.8 393.4h1M727.9 349.3h1M761.2 373.7h1M753.7 339.6h1M723.3 337.6h1M731.9 366.2h1M725.4 348.8h1M747.5 360.2h1M727.2 343.9h1M771.1 350.8h1M761.2 362.3h1M737.1 323.5h1M760.1 343.5h1M732 341.4h1M744.4 336.2h1M756.6 354.8h1M715.3 375h1M758 342.6h1M743.3 367.3h1M748.9 352.2h1M761.4 360.5h1M733.8 329.8h1M740.4 339.3h1M772.5 358.4h1M735.4 375.8h1M713 370.1h1M750 379.6h1M749.5 326.4h1M757.8 363h1M747.4 359.7h1M757.3 332h1M731.8 349.3h1M727.2 328.7h1M727.1 348h1M747.2 338.4h1M741.8 362h1M737.6 333.8h1M752 335.9h1M737.9 366h1M735.2 364.2h1M742.1 328.1h1M734 341.7h1M734.3 330.8h1M747 350.6h1M756.2 350.4h1M733.2 330.9h1M768.3 364h1M763.3 328h1M740.3 334.7h1M763 325.4h1M722.1 373h1M764.5 359.6h1M751.9 335.7h1M763.6 361.4h1M772.6 340.4h1M744.2 381.8h1M745.5 326.5h1M743.8 322.1h1M758.7 363.2h1M761.9 343.6h1M802.5 369.7h1M794.9 353.9h1M795.1 357.9h1M817.8 336.9h1M793.7 352.1h1M818.2 340.5h1M816.2 345.6h1M810.9 337.3h1M795.7 360h1M796.6 351.2h1M805.9 340.1h1M804.2 367.6h1M814.4 354h1M801.1 339.2h1M813.9 372.8h1M820.8 338.1h1M798.5 355.5h1M799.1 334.3h1M794.5 356.8h1M812.5 347.2h1M798.9 340.9h1M814 352.7h1M792.7 377.6h1M800.4 319.7h1M816.7 349.6h1M810.4 330.9h1M802 329.4h1M795 325.5h1M788 357.3h1M802.4 366.2h1M815.1 358.5h1M818.6 347.9h1M794.7 345.5h1M820.5 351.4h1M794.1 363.2h1M805.2 332.4h1M815.1 345.8h1M791.9 348.8h1M823.1 362.2h1M829.8 349.9h1M809.8 366.9h1M782.8 331h1M813.3 339.5h1M796.1 346.3h1M793.7 343.3h1M817.4 361.5h1M820.8 340.2h1M797.2 342.9h1M797.1 369.5h1M796.6 377.6h1M804.8 368.9h1M805.3 366.9h1M814.1 369.2h1M807.5 328.6h1M817.7 362.4h1M802.1 373.3h1M821.5 336.1h1M787.6 360.1h1M806.7 363.7h1M795.1 359.4h1M802 338.6h1M794.7 321.3h1M811.8 339.4h1M800.1 367.6h1M800.3 362.6h1M809 373h1M812.7 354.6h1M816.8 335.3h1M792.9 345.5h1M787.2 367h1M792 344.5h1M798.4 363.2h1M798.6 315.9h1M812.7 332.7h1M794.1 368.3h1M803.8 334.4h1M781.2 366.2h1M789.6 358.9h1M794.2 342.7h1M815.3 358.4h1M812.8 368h1M793.8 373h1M808.4 332.4h1M819.7 359.8h1M787.1 357.4h1M823.3 368.3h1M810.6 341.4h1M816.9 357.1h1M782.9 339.6h1M784.2 359h1M808.9 372.2h1M786.1 339.5h1M790.4 367h1M804.5 338.4h1M804.6 331.7h1M798.8 332.3h1M802.8 369.3h1M795.4 375.4h1M795.8 327.7h1M835.1 339.7h1M835.6 321.1h1"/>
<path stroke="#4646dc" stroke-width="1" d="M749.8 352.7h1M742.1 339.9h1M746 365.9h1M740.6 341.5h1M750 365.3h1M755.9 346.1h1M748.3 360.1h1M742.7 347.8h1M742.7 347.5h1M730.1 349h1M738.8 352h1M757 348.3h1M745.3 340.6h1M737.5 344.9h1M733.2 354.9h1M753.7 358.5h1M742.3 338.5h1M753.3 354.5h1M748.8 349.9h1M743.2 339.5h1M748.3 354.6h1M739.6 351.5h1M754.9 350h1M751.7 358.5h1M738.6 341.6h1M743.4 348.9h1M735 364.9h1M750.3 357h1M750.4 339.1h1M735.5 357.6h1M750.6 357h1M754.2 353.9h1M756.7 350.9h1M747.3 349.8h1M739.6 341.2h1M749.6 343.8h1M740.2 351.3h1M751.5 353h1M750.5 348.6h1M734.3 354.1h1M755.9 349.4h1M737 350h1M742.8 333.6h1M749.5 360.1h1M750.2 354.3h1M742.4 361.7h1M744.4 346.7h1M729.9 353.7h1M741.2 357.9h1M748.5 347.5h1M737.6 354.1h1M748.6 339.9h1M743.4 352h1M754.5 350h1M754.2 358.1h1M740.8 361.8h1M730.3 340.4h1M734 340.9h1M743.5 340.6h1M739.4 360.3h1M735.8 342.1h1M743.2 340.9h1M758 352.3h1M744.9 351.2h1M736.5 362.1h1M738.4 342.6h1M744.4 352.6h1M737.8 354.3h1M734.7 343.6h1M736.5 348.6h1M752.3 353.9h1M737 364.7h1M731.4 350.7h1M746 333.5h1M734.3 360.4h1M749.8 350.2h1M740.7 363.4h1M751 359.4h1M739.4 355h1M743.3 338.2h1M752 335.6h1M809.4 354.3h1M801.6 349.3h1M805.4 341h1M804.7 339.1h1M802.6 362.8h1M809.6 348.8h1M797.2 355.7h1M809.5 346.8h1M813.2 364.6h1M810.1 340.4h1M815.6 359.2h1M806.3 363h1M810.7 339.2h1M809.3 339.2h1M811.1 349.6h1M800 341.8h1M813.1 349.5h1M795.7 354.1h1M809.5 340.3h1M804.4 351.9h1M811.1 362.5h1M807.2 334.8h1M813.1 349.3h1M796.8 346.8h1M805.9 338.4h1M813.3 355.8h1M812.1 352.9h1M799.6 342.9h1M794.5 356.4h1M810 361.9h1M812 344.7h1M810.6 340.8h1M796.5 358h1M805 366.4h1M803.5 364.5h1M801.5 345.2h1M799.7 344.4h1M798.3 363.4h1M811.6 362.3h1M811.8 344.2h1M802.6 335.3h1M809.6 351.9h1M799 345.1h1M798.3 337.9h1"/>
<path stroke="#3434cc" stroke-width="1" d="M730.8 344.8h1M750.4 364.1h1M740.8 343.8h1M752.5 341.8h1M755.2 354.9h1M751.9 351.2h1M736 341.9h1M739.5 346.5h1M745.6 361.5h1M748.6 356.8h1M742.2 349h1M742.7 341.5h1M744.4 365.9h1M744.2 360.8h1M751.8 349.3h1M753.3 341.2h1M737.9 341.1h1M746.2 356.8h1M744.8 349.2h1M730.9 350.1h1M750.2 343.3h1M754.5 343.8h1M745.5 341.8h1M747.2 359.4h1M749.5 339.8h1M732.5 350.9h1M745.6 340.2h1M735.8 341.5h1M746.4 354.3h1M756.5 344.2h1M754.5 351.1h1M732.5 347.5h1M750.3 343.4h1M753.5 349.8h1M743.4 339h1M741 350.9h1M737.1 351h1M744.3 357.8h1M740.8 336.1h1M741.9 352.7h1M742.1 338.7h1M749.7 346.9h1M733.6 358.6h1M749.9 353.3h1M751.3 344.3h1M736.3 347.9h1M748.6 357.8h1M742.7 352.7h1M757.5 350.5h1M736.6 349.6h1M738.7 345.3h1M743.2 341.1h1M740.5 360.4h1M743.1 342.9h1M747.7 360.7h1M734.3 357.1h1M745.1 339.5h1M740 349.9h1M735.8 349.9h1M751.4 349.9h1M743.2 354.9h1M754.6 338.9h1M734.4 345.7h1M742.2 363.1h1M741.8 367.3h1M742.2 351.8h1M732.1 346.4h1M752.2 349h1M751.2 336.2h1M742.2 341.3h1M746.4 336.5h1M740 342.3h1M741.5 359h1M750 356h1M747.2 355.7h1M732.5 355.9h1M749.3 361.9h1M807.8 367.2h1M796.5 340.3h1M798.5 342h1M812 351.5h1M812.1 363h1M798.6 342.2h1M808.3 362h1M811.3 345.3h1M797.2 363h1M800.7 336.8h1M804.9 336.8h1M806 362.6h1M803.6 365.5h1M806.1 351.8h1M800 356.1h1M799.9 348h1M803.8 341.8h1M804.2 342.5h1M813 347.9h1M797.6 355.2h1M807.1 346.5h1M812.2 357.7h1M800.7 335.8h1M813 363.2h1M810 361.3h1M803.9 367.5h1M808 347.9h1M810.9 347.2h1M795.8 347.8h1M813.6 349.2h1M813.3 360h1M808.5 350.8h1M805.6 364.3h1M810.7 339.9h1M799.8 342.7h1M806.3 367.6h1M813.4 354.7h1M802.8 336.8h1M810 352.1h1M808 363.4h1M796.6 348.1h1M794.3 358.2h1M800.4 363.3h1M803.9 362.5h1M807.4 342.3h1M798.8 344.3h1M796.8 346.3h1M809.2 338.2h1M800.2 340.7h1M795.2 356.8h1M807.7 347.5h1M808.2 356.6h1M796.1 350.4h1M798.1 346.3h1M816.8 349.5h1M798 343.7h1M811.4 356.8h1"/>
<path stroke="#5454e4" stroke-width="1" d="M744.9 339.9h1M738.5 358h1M748.6 350h1M750.7 354.5h1M746.4 363.6h1M755.8 345.8h1M740.1 354.5h1M738.1 354.9h1M744.7 333.3h1M744.8 365.2h1M743.2 344.2h1M748.8 348.5h1M749.1 354.4h1M739.5 369.9h1M744.9 362.1h1M731.7 357.3h1M751.1 347h1M748.1 343.4h1M742.7 349.5h1M747.7 354.6h1M738.7 340.3h1M751.6 359.1h1M740.7 345.4h1M748.9 340.6h1M740.2 357.2h1M735.3 349h1M734.3 345.4h1M751.7 358.8h1M736.6 341.9h1M748 352.3h1M744.7 361.1h1M750.1 353.8h1M749.2 342.5h1M742 364.2h1M736.7 335.5h1M750.5 340.7h1M739.5 338.8h1M744.7 344.9h1M735.7 343.8h1M737.9 357.9h1M735.7 334.9h1M746.1 352h1M736.1 341.9h1M755.5 350.5h1M731.6 348.2h1M737.8 359.5h1M745.9 349.5h1M736.7 357.6h1M750.4 357.8h1M743.9 351.1h1M735.8 335.7h1M732.9 362.8h1M743.4 363.2h1M734.1 355.9h1M749.1 342.4h1M727.4 351.3h1M740.8 335.5h1M748.9 358.5h1M743 339.2h1M742.6 347.5h1M749.6 344.2h1M736.3 360h1M742.7 362.6h1M753 347h1M734.7 348.2h1M737.8 352h1M750.6 354.8h1M742 339.2h1M744.7 361.9h1M748.8 350.2h1M738.8 353.9h1M746.7 345.1h1M736.9 359.3h1M740.4 354h1M751.1 348.7h1M743.3 359.9h1M805.6 341.1h1M798.8 357.3h1M813.3 356.2h1M800.2 356.8h1M802.9 346.8h1M796.5 346.3h1M797.3 349.2h1M800.2 365.1h1M809.4 351h1M802.6 361.2h1M809.3 351.3h1M811.6 346.1h1M799.2 343.6h1M799.5 333h1M811.6 349.7h1M798.8 342.3h1M798.9 358.4h1M798.5 354.1h1M811.3 366.1h1M796.5 350.6h1M798 367.5h1M811 359.6h1M799.5 363.6h1M808.1 357.2h1M805.1 359.3h1M800.7 346.5h1M805.3 339.5h1M809.9 346.7h1M807.1 342.8h1M798.6 345.4h1M811.1 365.9h1M802.9 362.7h1M796.7 359.3h1M806.8 336.8h1M810.1 364.6h1M804.5 342.7h1M802.7 354.1h1M812.6 341.9h1M799.5 348.9h1M814.2 353.4h1M806.7 340.4h1M800.5 343.7h1M812.9 350.9h1M807.7 365.2h1M801.5 343.8h1M796.5 349h1M793.5 343.5h1M814.5 362.8h1M812.9 344.3h1M815.3 358.6h1M808.7 340h1M802.9 342.2h1M812.7 345.9h1M814.5 356.8h1M796.6 347.5h1M802.8 368.4h1M809.7 339.3h1"/>
<path stroke="#5a5ad8" stroke-width="1" d="M751.8 348.3h1M737.4 341.2h1M737.5 362.8h1M756.3 349.2h1M739.3 359.3h1M738.3 342.6h1M745.6 353.5h1M744.1 364.8h1M732.7 355.2h1M735.1 361.2h1M738.5 356.1h1M741.2 357h1M735.3 347.1h1M745.8 352.8h1M733.3 338h1M740.7 346.8h1M745.7 363h1M749.3 333.9h1M752.6 353.6h1M739.1 357.6h1M734.3 352.7h1M751 343.1h1M746.7 341.4h1M752.4 342.4h1M739.5 355h1M739.9 345.8h1M736.2 354h1M747.2 358.3h1M755.8 356.4h1M740.2 352.6h1M743.7 341.2h1M751 354.6h1M733.2 342.7h1M742.7 356.1h1M732.9 363.6h1M740.2 353.7h1M752.7 359.8h1M735.6 355.4h1M750.2 349h1M749.3 358.2h1M749.4 360.5h1M740.4 333.6h1M735.7 342.4h1M738.5 337.8h1M731.1 349.8h1M752.1 349.9h1M737.7 338.8h1M735.9 353.9h1M737.9 364.6h1M739.1 338.6h1M744.2 364.8h1M756.5 351.8h1M737.8 347.8h1M735.1 352.7h1M749.7 356.2h1M749.2 360.8h1M755.4 357.3h1M735 364h1M748.3 357h1M736.3 340.6h1M733.8 357.3h1M736.2 357.7h1M753.9 347.1h1M755.7 348.9h1M739.2 341h1M738.7 360.7h1M731.8 347.9h1M750.4 360.9h1M762.8 348.9h1M747.1 367.3h1M744.5 368.3h1M749.5 335.6h1M752.8 360.5h1M729.8 335.2h1M809.5 350.7h1M809.2 348.5h1M797.6 339.5h1M802.5 337.6h1M804.2 368.8h1M806.9 368.7h1M794.5 346.9h1M800.3 332.7h1M802.7 347.6h1M804 341h1M813.3 349.6h1M800.3 340.7h1M807.9 345h1M807.7 340.5h1M814.5 357.3h1M806.7 360.8h1M802.1 359.9h1M815.7 348.6h1M806.2 359.5h1M806.7 360.5h1M795.2 344.7h1M797.6 348.1h1M809.9 347.8h1M811.2 340.5h1M803 354.6h1M807 338.6h1M806.5 350.6h1M794.2 356.2h1M811.6 365.5h1M807.6 352.7h1M812.4 352.9h1M805.9 343.9h1M807.9 359h1M802.4 343.7h1M806.6 362.2h1M805.1 346.6h1M805.1 343.1h1M805.4 360.9h1M800.9 351.1h1M805 336.5h1M800.4 341.5h1M811.2 341h1M805.5 353.6h1M799.8 360.4h1M804.4 357.2h1M800.1 367.2h1M805.6 339.8h1M810.6 339h1M796.3 346.2h1M795.4 353.9h1M806.4 341.3h1M804.5 341h1M808.3 352.9h1M814.2 354h1M797.5 359.6h1"/>
<path stroke="#2222b0" stroke-width="1" d="M747.6 350.1h1M740.6 347.8h1M742 340h1M744.5 361.9h1M746.7 355.2h1M733.2 355.8h1M737.2 354.6h1M738.9 342.9h1M738.4 351.3h1M745.6 349.7h1M739.8 354.8h1M746.2 352.8h1M747.3 361.1h1M738.7 348.4h1M747.8 349.1h1M749.1 359.3h1M738 355.8h1M741.2 340.5h1M739.2 349.4h1M739.4 343.1h1M740 351.6h1M745.6 359h1M734.1 350.7h1M750.7 350.2h1M741.8 355.5h1M742.1 347.9h1M742.1 353.7h1M749.8 359.8h1M744.2 347.3h1M736.8 351.2h1M747.9 345.3h1M744.4 342.3h1M746.6 340.9h1M751.1 349.7h1M735.4 348.7h1M745.1 354.6h1M737.3 346.5h1M740.2 350.4h1M743.6 343.2h1M744.2 355.3h1M737.7 351.3h1M746 353.6h1M737.5 356.4h1M749.5 350.1h1M751.5 353.4h1M797.8 359.6h1M806.2 349.3h1M802.8 351.5h1M810 354.5h1M808.6 357.2h1M803.9 358.6h1M798.2 360.1h1M811.8 351.2h1M800 352.8h1M802.4 363.4h1M815.1 354.8h1M804 361.5h1M807.6 345.3h1M807.7 355.5h1M804 346.7h1M813.3 356.4h1M809.4 358.4h1M811 350.5h1M801.5 353.3h1M798.4 353.2h1M800.8 351.4h1M806.6 348.7h1M800.7 342.2h1M797.5 353.9h1M805 347.7h1M800.2 358.3h1M807.3 349.8h1M812.3 345.2h1M798.3 361.6h1M804.7 350.5h1M808 363.8h1M811.5 352.1h1M809.7 341.5h1M799.2 346.6h1M798.9 350.5h1M804.5 351.9h1M807.7 355.2h1M805 361.1h1M801.7 358.6h1M800.6 343.3h1M800.3 351.3h1M801.6 353.2h1M800.7 367.5h1M800.9 348.8h1M802.2 348.6h1"/>
<path stroke="#1a1aa0" stroke-width="1" d="M746 345.8h1M744.3 354.3h1M741.4 357.5h1M741.3 340.9h1M744.6 352.4h1M749.5 359.7h1M741.3 359h1M735.6 350.6h1M739.5 351.9h1M745.8 359.2h1M746.8 352.2h1M740 358.2h1M737.7 355.9h1M752.1 343.3h1M742.8 358.1h1M749.3 347.9h1M745 357.4h1M744.8 347.6h1M738.2 354h1M752.6 354.1h1M748.3 353.2h1M741.5 355.4h1M739.8 348.5h1M736.7 345h1M738.5 355.5h1M746.7 350.4h1M738.2 345.4h1M751.4 353.2h1M751.6 349.8h1M742.8 362.3h1M745.3 360.2h1M747 343.5h1M755 345.3h1M745.4 362.1h1M746 343.8h1M741.3 346.7h1M751.2 346.5h1M737.3 347.3h1M748.9 349.2h1M746.6 360.5h1M744 356.6h1M743.6 361.7h1M744.2 345.8h1M744.3 365.5h1M753.9 350.2h1M747.4 355.1h1M744.3 343.9h1M803 353.6h1M806 342h1M812.6 350.1h1M803.2 347.6h1M812.7 345.4h1M801.4 345.5h1M804.1 360.4h1M806.1 345.8h1M804.7 361.8h1M809.5 344.4h1M799.7 359.8h1M799.9 357h1M811.6 348.7h1M808.9 357h1M806.3 354h1M801.4 345.3h1M802.6 346.6h1M796.2 351.4h1M798.2 346.3h1M802.1 343.7h1M799.1 350.6h1M798.9 351.3h1M810.3 355.9h1M803.7 346.7h1M800.9 353.4h1M804.2 347.3h1M800.3 355.3h1M802.9 350.9h1M802.5 353.4h1M810.8 349.2h1M799.2 358.2h1M807.5 350.9h1M802.2 360.6h1M807.4 344.1h1M804.5 343.1h1M803 347.8h1M797.9 353.6h1M799.7 358.8h1M807.5 345.6h1M802.5 344.8h1M810.2 356h1M799.6 360.5h1M801.3 351.3h1M806.3 352.8h1M808.6 345.2h1M801.2 355.8h1M809.9 356.1h1M805.7 342.4h1M799.8 354.8h1M813 356h1M806.4 361h1M807.8 349.9h1M803.9 354.9h1M804.6 351.5h1M803.5 346.1h1"/>
<path stroke="#2a3cc0" stroke-width="1" d="M746.5 342.7h1M740.6 355h1M743.6 348.6h1M750.1 354h1M736 349.1h1M744.7 344.7h1M737.3 346.1h1M752.8 350.4h1M742.5 352h1M741.2 359h1M750 360.5h1M750.3 347.1h1M746.3 349.3h1M739.5 348.4h1M739.5 356.3h1M741.2 352.9h1M741.1 360.2h1M747.9 356h1M738.6 345.8h1M747.7 353.5h1M738.5 359.3h1M743 351.6h1M746.3 356.5h1M748 351h1M742.5 353.8h1M751.8 346h1M748.9 344.5h1M741.1 355.3h1M741.3 345.2h1M746.4 348.4h1M736.6 343.2h1M741.9 347.6h1M746.9 351.9h1M748.7 360.5h1M750.3 354.1h1M746.7 355h1M744.3 354.5h1M745 348.3h1M743.2 337.4h1M743 357.4h1M743.9 352.4h1M739.5 348.9h1M750.5 346.5h1M738.7 356.1h1M740.1 359.6h1M739.7 347.9h1M739.3 354.2h1M744.8 355.7h1M742.3 356.5h1M737.3 352.5h1M735.7 341.2h1M739.5 359.3h1M740.8 350.5h1M800.1 357.5h1M806.9 355.8h1M806 353.4h1M804 354.5h1M808.9 346.4h1M806.7 341.8h1M808.1 352h1M801.4 348.5h1M804.6 360h1M804.8 348.7h1M798.4 351.7h1M809 343.4h1M799.2 358.2h1M799.4 350.3h1M801 349.7h1M805.6 353.4h1M802.2 355.3h1M801.2 364.2h1M807.9 358.2h1M807.5 346.2h1M811.1 355.2h1M806.1 354h1M804.3 357.8h1M809.4 346.3h1M797.4 347.1h1M807.9 356.8h1M799.4 350.8h1M805.2 363h1M801.6 353.9h1M809.1 344h1M810.3 347.2h1M799 349.6h1M807.5 364.2h1M804.2 359.4h1M807.6 351.9h1M801.9 355.8h1M809.6 355.7h1M809.3 348.1h1M801.5 347.9h1M807 351.4h1M805.2 345.6h1M800 364.7h1"/>
<path stroke="#30309a" stroke-width="1" d="M745.8 349.8h1M741.4 349.7h1M747 355.7h1M744.6 346.1h1M737 344.6h1M740.4 352.9h1M734.7 345.2h1M740.6 353.5h1M746 349.9h1M747.6 349.7h1M743.2 351.9h1M742 347.7h1M749.8 345.8h1M742 349.3h1M748.2 361.8h1M740.3 346.1h1M738.1 354.1h1M736.8 343.5h1M741.6 347.6h1M747.6 336.9h1M749.7 342.2h1M750.6 353.7h1M737.6 343.3h1M739.9 351.4h1M747.9 347.9h1M745.6 350.5h1M747.1 353.7h1M737.4 353.5h1M742.8 346.6h1M747.2 351.6h1M746.5 347h1M736.8 348.2h1M737.3 352.6h1M748.9 344.3h1M747.9 356.4h1M743.3 346.9h1M741.6 359.5h1M735.2 353.1h1M749.2 347.1h1M747.8 353.9h1M734.6 347.4h1M746.6 349.4h1M746.2 344.9h1M745.2 351.3h1M749 348.2h1M746 345h1M742.3 340.2h1M809.7 355.9h1M801.4 343h1M803.2 359.2h1M807.3 361.9h1M809.1 360.5h1M804.6 353.2h1M806 342.5h1M807 345.3h1M802 362.1h1M800 345.7h1M805.8 348.1h1M802.2 350.4h1M804.3 353.9h1M802.7 348.9h1M801.1 349.7h1M802.6 353h1M811.1 353.8h1M800.3 351.4h1M808.2 353.8h1M803.1 349.5h1M800.9 344.4h1M810.4 347.3h1M805 351.7h1M799.8 362.7h1M808.1 355.8h1M809.5 352.3h1M803.1 360.3h1M803.9 363.1h1M808.1 358.1h1M801 352.4h1M799.2 345.1h1M803.1 344.5h1M805.4 344.1h1M796.3 351.5h1M806.8 344.9h1M810.4 348.6h1M799.3 349.5h1M801.1 352.6h1M804.9 362.7h1M804 354.2h1M800.1 353.8h1M800.9 342.5h1M798.2 351.6h1M806.4 363.4h1M803.9 358.8h1"/>
<path stroke="#1e5aa8" stroke-width="1" d="M744 351.7h1M744.7 356.7h1M744.4 348.1h1M745.9 354.5h1M737.6 350.4h1M747 354.2h1M744.7 352.7h1M744 348.2h1M807.3 349.8h1M808 353.5h1M802.4 351.6h1M799.4 351h1M805.3 358.5h1M803.9 353.5h1M806.5 360.8h1M811.5 352.5h1M804.9 356.1h1M805.7 360.7h1M803.4 347.9h1M808.4 348.2h1M804 352h1M799.4 352.6h1M806.3 357.6h1"/>
<path stroke="#2a7ab0" stroke-width="1" d="M741.5 353h1M745.2 345.9h1M745.9 348.8h1M746.1 350.7h1M740.5 350.9h1M743.4 346.4h1M741.3 353.6h1M743.5 351.4h1M742.6 350.2h1M742.1 347h1M804.5 349.3h1M806.1 346.5h1M799.1 348.2h1M807.2 356.4h1M808 358.8h1M801.5 350.3h1M804.9 358.5h1M802.5 353.6h1M802.6 357.8h1M807 352.4h1M803.2 350.1h1"/>
<path stroke="#3a90b0" stroke-width="1" d="M739.8 353.6h1M745.2 352.4h1M741.4 348.8h1M750 350.7h1M800.6 351.5h1M810.3 349.5h1M801.5 355.1h1M806.8 348.9h1M808.2 351.9h1M798.2 353.1h1M803.6 353.7h1M802.8 354.4h1M807.3 356.1h1M808.2 356.4h1M806.7 347.3h1M801.5 357.5h1M800.2 358.2h1"/>
<path stroke="#286098" stroke-width="1" d="M749.3 353.5h1M747.8 352h1M736.7 355.4h1M740.2 352.6h1M739.2 353.8h1M743.9 355.1h1M743.3 356.9h1M803.5 355.5h1M798.9 351.5h1M806.4 358.4h1M806.9 356.5h1M806.3 353.9h1M806.9 347.7h1M805.8 352.8h1M807.9 356.8h1M809.2 353.7h1M804.9 355.9h1M804.3 353.4h1"/>
<path stroke="#30a080" stroke-width="1" d="M804.5 351.4h1M806.9 353.9h1M802.6 348.6h1M803 356.9h1"/>
<path stroke="#3aa868" stroke-width="1" d="M801.8 357.4h1"/>
<path stroke="#2a9090" stroke-width="1" d="M745 351.1h1M806.9 354.6h1M805.1 350.8h1M802.2 352.7h1M806.1 352.6h1"/>
<rect x="709.3" y="243.7" width="156.80" height="154.90" fill="none" stroke="#3a3a3a" stroke-width="1.1"/>
<polygon points="776.3,316.7 842.3,316.7 842.3,382.7 767.3,382.7" fill="none" stroke="#111" stroke-width="1.8" stroke-linejoin="miter"/>
<path d="M707.1 392.60H709.3M707.1 386.61H709.3M707.1 380.61H709.3M707.1 374.62H709.3M705.3 368.62H709.3M707.1 362.62H709.3M707.1 356.63H709.3M707.1 350.63H709.3M707.1 344.64H709.3M705.3 338.64H709.3M707.1 332.64H709.3M707.1 326.65H709.3M707.1 320.65H709.3M707.1 314.66H709.3M705.3 308.66H709.3M707.1 302.66H709.3M707.1 296.67H709.3M707.1 290.67H709.3M707.1 284.68H709.3M705.3 278.68H709.3M707.1 272.68H709.3M707.1 266.69H709.3M707.1 260.69H709.3M707.1 254.70H709.3M705.3 248.70H709.3M718.74 398.6V400.4M724.26 398.6V400.4M728.18 398.6V400.4M731.22 398.6V400.4M733.70 398.6V400.4M735.80 398.6V400.4M737.62 398.6V400.4M739.23 398.6V400.4M740.66 398.6V402.1M750.10 398.6V400.4M755.62 398.6V400.4M759.54 398.6V400.4M762.58 398.6V400.4M765.06 398.6V400.4M767.16 398.6V400.4M768.98 398.6V400.4M770.59 398.6V400.4M772.02 398.6V402.1M781.46 398.6V400.4M786.98 398.6V400.4M790.90 398.6V400.4M793.94 398.6V400.4M796.42 398.6V400.4M798.52 398.6V400.4M800.34 398.6V400.4M801.95 398.6V400.4M803.38 398.6V402.1M812.82 398.6V400.4M818.34 398.6V400.4M822.26 398.6V400.4M825.30 398.6V400.4M827.78 398.6V400.4M829.88 398.6V400.4M831.70 398.6V400.4M833.31 398.6V400.4M834.74 398.6V402.1M844.18 398.6V400.4M849.70 398.6V400.4M853.62 398.6V400.4M856.66 398.6V400.4M859.14 398.6V400.4M861.24 398.6V400.4M863.06 398.6V400.4M864.67 398.6V400.4M866.10 398.6V402.1" stroke="#3a3a3a" stroke-width="0.9" fill="none"/>
<g font-size="7.6" fill="#3c3c3c" stroke="#3c3c3c" stroke-width="0.12"><text x="702.5" y="371.9" text-anchor="end">50K</text><text x="702.5" y="341.9" text-anchor="end">100K</text><text x="702.5" y="312.0" text-anchor="end">150K</text><text x="702.5" y="282.0" text-anchor="end">200K</text><text x="702.5" y="252.0" text-anchor="end">250K</text><text x="712.2" y="414.2">10<tspan dy="-4.6" font-size="6.6">1</tspan></text><text x="735.1" y="414.2">10<tspan dy="-4.6" font-size="6.6">2</tspan></text><text x="763.8" y="414.2">10<tspan dy="-4.6" font-size="6.6">3</tspan></text><text x="792.5" y="414.2">10<tspan dy="-4.6" font-size="6.6">4</tspan></text><text x="821.8" y="414.2">10<tspan dy="-4.6" font-size="6.6">5</tspan></text><text x="850.0" y="414.2">10<tspan dy="-4.6" font-size="6.6">6</tspan></text></g>
<text x="715.6" y="262.6" font-size="14.4" font-weight="bold" fill="#111"><tspan font-style="italic">HDAC2</tspan>-KO#2</text><text x="819.4" y="262.6" font-size="14.4" font-weight="bold" fill="#c42030">47.7%</text>
<path d="M673.5 34V440.7H1060" fill="none" stroke="#231815" stroke-width="1.7"/>
<path d="M673.4 20.2L679.6 39.4L673.4 35.6L667.2 39.4Z" fill="#231815"/>
<path d="M1072.6 440.8L1053.5 434.8L1057.8 440.8L1053.5 446.8Z" fill="#231815"/>
<text transform="translate(661.8,277.2) rotate(-90)" font-size="15" font-weight="bold" fill="#111" stroke="#111" stroke-width="0.3">SSC-H</text>
<text x="851" y="460.5" font-size="16" font-weight="bold" fill="#111" stroke="#111" stroke-width="0.3">CXCR4</text>
<path d="M955.30 397.9V243.10H975.70V397.9" fill="none" stroke="#6e6e6e" stroke-width="1.4"/>
<path d="M959.3 238.5H970.5M965.5 238.5V246.4" stroke="#6e6e6e" stroke-width="1.5" fill="none"/>
<circle cx="961.2" cy="244.0" r="2.3" fill="#6e6e6e"/>
<circle cx="965.6" cy="238.4" r="2.3" fill="#6e6e6e"/>
<circle cx="969.8" cy="243.6" r="2.3" fill="#6e6e6e"/>
<path d="M989.60 397.9V312.20H1009.30V397.9" fill="none" stroke="#6aa6e6" stroke-width="1.4"/>
<path d="M994.2 303.6H1004.2M999.5 303.6V315.5" stroke="#6aa6e6" stroke-width="1.5" fill="none"/>
<circle cx="998.9" cy="302.6" r="2.3" fill="#6aa6e6"/>
<circle cx="995.2" cy="315.4" r="2.3" fill="#6aa6e6"/>
<circle cx="1003.4" cy="313.8" r="2.3" fill="#6aa6e6"/>
<path d="M1023.70 397.9V299.20H1043.10V397.9" fill="none" stroke="#5c5cdc" stroke-width="1.4"/>
<path d="M1028.2 296.6H1038.2M1033.4 296.6V302.5" stroke="#5c5cdc" stroke-width="1.5" fill="none"/>
<circle cx="1023.8" cy="299.2" r="2.3" fill="#5c5cdc"/>
<circle cx="1033.2" cy="297.4" r="2.3" fill="#5c5cdc"/>
<circle cx="1042.2" cy="298.2" r="2.3" fill="#5c5cdc"/>
<path d="M942.6 232.2V397.9M936.3 397.9H1057.4" fill="none" stroke="#111" stroke-width="1.6"/>
<path d="M936.3 232.9H942.6M936.3 274.1H942.6M936.3 315.4H942.6M936.3 356.6H942.6" stroke="#111" stroke-width="1.4"/>
<g font-size="10" font-weight="bold" fill="#111"><text x="935.2" y="236.5" text-anchor="end">80</text><text x="935.2" y="277.7" text-anchor="end">60</text><text x="935.2" y="319.0" text-anchor="end">40</text><text x="935.2" y="360.2" text-anchor="end">20</text><text x="935.2" y="401.5" text-anchor="end">0</text></g>
<text transform="translate(911.4,366.4) rotate(-90)" font-size="11.3" font-weight="bold" fill="#111">CXCR4 percentage</text>
<g font-size="15" font-weight="bold" fill="#111" text-anchor="middle" letter-spacing="1.0"><text x="1001.8" y="294.5">***</text><text x="1035.6" y="289.3">***</text></g>
<g font-size="13" fill="#111" stroke="#111" stroke-width="0.2" text-anchor="end"><text transform="translate(968.8,413.2) rotate(-28) skewX(8)">WT(DE)</text><text transform="translate(1004.2,411.4) rotate(-28) skewX(8)">KO#1</text><text transform="translate(1039.4,410.4) rotate(-28) skewX(8)">KO#2</text></g>
<g fill="rgba(120,120,120,0.62)"><ellipse cx="762" cy="418.5" rx="14.2" ry="11.6"/><path d="M752 426 L750 433 L758 428.5Z"/></g>
<g fill="#fff"><circle cx="757.5" cy="414.5" r="1.9"/><circle cx="767.5" cy="414.5" r="1.9"/></g>
<ellipse cx="777" cy="427.3" rx="14" ry="11.6" fill="#fff"/>
<g fill="rgba(120,120,120,0.62)"><ellipse cx="777" cy="427.3" rx="12.6" ry="10.3"/><path d="M782 435 L785.5 439.5 L778 436.5Z"/></g>
<g fill="#fff"><circle cx="772.7" cy="424.5" r="1.7"/><circle cx="781.3" cy="424.5" r="1.7"/></g>
<g font-family="'Liberation Sans','Noto Sans CJK SC',sans-serif" font-size="30" font-weight="500" fill="rgba(120,120,120,0.62)"><text x="799.3" y="433">公众号</text><text x="898.4" y="435.6" font-size="44">·</text><text x="925.2" y="433">新使生物</text></g>
</svg>
</body></html>
